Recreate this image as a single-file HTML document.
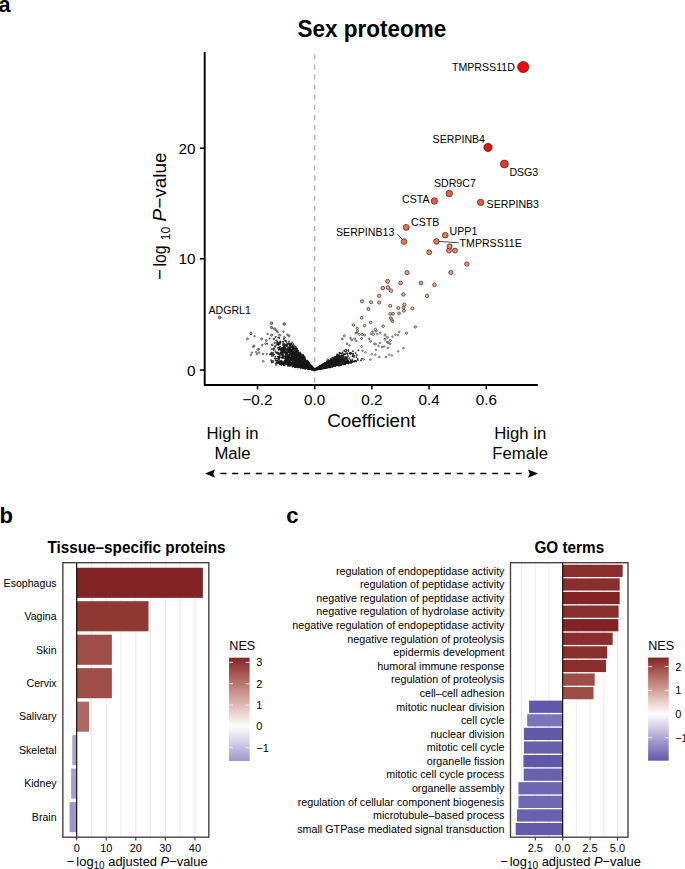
<!DOCTYPE html>
<html><head><meta charset="utf-8"><title>Sex proteome</title>
<style>
html,body{margin:0;padding:0;background:#fff;}
body{width:685px;height:869px;overflow:hidden;}
svg{display:block;font-family:"Liberation Sans",sans-serif;}
</style></head><body>
<svg width="685" height="869" viewBox="0 0 685 869" font-family="Liberation Sans, sans-serif">
<rect width="685" height="869" fill="#fff"/>
<text x="-1.40" y="11.80" font-size="21.6" text-anchor="start" font-weight="bold" fill="#000" >a</text>
<text transform="translate(371.8,37.3) scale(1,1.1)" x="0" y="0" font-size="22.5" text-anchor="middle" font-weight="bold">Sex proteome</text>
<line x1="314.6" y1="54.3" x2="314.6" y2="384" stroke="#b5b5b5" stroke-width="1.5" stroke-dasharray="5,5.1"/>
<circle cx="306.5" cy="365.4" r="0.60" fill="#333333" stroke="#111" stroke-width="0.55"/>
<circle cx="304.9" cy="367.6" r="0.60" fill="#333333" stroke="#111" stroke-width="0.55"/>
<circle cx="289.9" cy="344.5" r="0.60" fill="#333333" stroke="#111" stroke-width="0.55"/>
<circle cx="284.8" cy="348.5" r="0.60" fill="#333333" stroke="#111" stroke-width="0.55"/>
<circle cx="309.8" cy="368.7" r="0.60" fill="#333333" stroke="#111" stroke-width="0.55"/>
<circle cx="312.9" cy="368.5" r="0.60" fill="#333333" stroke="#111" stroke-width="0.55"/>
<circle cx="305.8" cy="363.8" r="0.60" fill="#333333" stroke="#111" stroke-width="0.55"/>
<circle cx="302.4" cy="366.2" r="0.60" fill="#333333" stroke="#111" stroke-width="0.55"/>
<circle cx="291.6" cy="354.6" r="0.60" fill="#333333" stroke="#111" stroke-width="0.55"/>
<circle cx="291.8" cy="356.5" r="0.60" fill="#333333" stroke="#111" stroke-width="0.55"/>
<circle cx="281.5" cy="352.3" r="0.60" fill="#333333" stroke="#111" stroke-width="0.55"/>
<circle cx="289.7" cy="358.3" r="0.60" fill="#333333" stroke="#111" stroke-width="0.55"/>
<circle cx="309.0" cy="364.2" r="0.60" fill="#333333" stroke="#111" stroke-width="0.55"/>
<circle cx="311.8" cy="366.6" r="0.60" fill="#333333" stroke="#111" stroke-width="0.55"/>
<circle cx="303.3" cy="366.0" r="0.60" fill="#333333" stroke="#111" stroke-width="0.55"/>
<circle cx="304.8" cy="365.5" r="0.60" fill="#333333" stroke="#111" stroke-width="0.55"/>
<circle cx="314.3" cy="369.3" r="0.60" fill="#333333" stroke="#111" stroke-width="0.55"/>
<circle cx="307.2" cy="362.0" r="0.60" fill="#333333" stroke="#111" stroke-width="0.55"/>
<circle cx="290.1" cy="365.2" r="0.60" fill="#333333" stroke="#111" stroke-width="0.55"/>
<circle cx="305.5" cy="367.3" r="0.60" fill="#333333" stroke="#111" stroke-width="0.55"/>
<circle cx="298.4" cy="364.7" r="0.60" fill="#333333" stroke="#111" stroke-width="0.55"/>
<circle cx="304.3" cy="357.1" r="0.60" fill="#333333" stroke="#111" stroke-width="0.55"/>
<circle cx="285.8" cy="361.2" r="0.60" fill="#333333" stroke="#111" stroke-width="0.55"/>
<circle cx="313.6" cy="369.5" r="0.60" fill="#333333" stroke="#111" stroke-width="0.55"/>
<circle cx="305.8" cy="365.4" r="0.60" fill="#333333" stroke="#111" stroke-width="0.55"/>
<circle cx="309.2" cy="367.7" r="0.60" fill="#333333" stroke="#111" stroke-width="0.55"/>
<circle cx="294.5" cy="350.4" r="0.60" fill="#333333" stroke="#111" stroke-width="0.55"/>
<circle cx="305.1" cy="366.1" r="0.60" fill="#333333" stroke="#111" stroke-width="0.55"/>
<circle cx="312.0" cy="368.1" r="0.60" fill="#333333" stroke="#111" stroke-width="0.55"/>
<circle cx="301.9" cy="356.2" r="0.60" fill="#333333" stroke="#111" stroke-width="0.55"/>
<circle cx="278.6" cy="344.1" r="0.60" fill="#333333" stroke="#111" stroke-width="0.55"/>
<circle cx="278.9" cy="347.4" r="0.60" fill="#333333" stroke="#111" stroke-width="0.55"/>
<circle cx="305.7" cy="367.3" r="0.60" fill="#333333" stroke="#111" stroke-width="0.55"/>
<circle cx="307.9" cy="368.8" r="0.60" fill="#333333" stroke="#111" stroke-width="0.55"/>
<circle cx="295.9" cy="362.3" r="0.60" fill="#333333" stroke="#111" stroke-width="0.55"/>
<circle cx="301.7" cy="362.8" r="0.60" fill="#333333" stroke="#111" stroke-width="0.55"/>
<circle cx="308.5" cy="363.3" r="0.60" fill="#333333" stroke="#111" stroke-width="0.55"/>
<circle cx="301.1" cy="367.7" r="0.60" fill="#333333" stroke="#111" stroke-width="0.55"/>
<circle cx="271.9" cy="356.1" r="0.60" fill="#333333" stroke="#111" stroke-width="0.55"/>
<circle cx="284.5" cy="347.7" r="0.60" fill="#333333" stroke="#111" stroke-width="0.55"/>
<circle cx="308.3" cy="365.2" r="0.60" fill="#333333" stroke="#111" stroke-width="0.55"/>
<circle cx="298.6" cy="356.3" r="0.60" fill="#333333" stroke="#111" stroke-width="0.55"/>
<circle cx="299.6" cy="353.8" r="0.60" fill="#333333" stroke="#111" stroke-width="0.55"/>
<circle cx="284.3" cy="362.0" r="0.60" fill="#333333" stroke="#111" stroke-width="0.55"/>
<circle cx="313.0" cy="368.4" r="0.60" fill="#333333" stroke="#111" stroke-width="0.55"/>
<circle cx="302.8" cy="358.2" r="0.60" fill="#333333" stroke="#111" stroke-width="0.55"/>
<circle cx="292.9" cy="359.3" r="0.60" fill="#333333" stroke="#111" stroke-width="0.55"/>
<circle cx="308.6" cy="367.1" r="0.60" fill="#333333" stroke="#111" stroke-width="0.55"/>
<circle cx="278.2" cy="337.6" r="0.60" fill="#333333" stroke="#111" stroke-width="0.55"/>
<circle cx="300.4" cy="365.9" r="0.60" fill="#333333" stroke="#111" stroke-width="0.55"/>
<circle cx="291.3" cy="351.0" r="0.60" fill="#333333" stroke="#111" stroke-width="0.55"/>
<circle cx="276.5" cy="344.8" r="0.60" fill="#333333" stroke="#111" stroke-width="0.55"/>
<circle cx="304.7" cy="364.9" r="0.60" fill="#333333" stroke="#111" stroke-width="0.55"/>
<circle cx="290.4" cy="361.4" r="0.60" fill="#333333" stroke="#111" stroke-width="0.55"/>
<circle cx="301.3" cy="363.9" r="0.60" fill="#333333" stroke="#111" stroke-width="0.55"/>
<circle cx="294.8" cy="366.7" r="0.60" fill="#333333" stroke="#111" stroke-width="0.55"/>
<circle cx="280.1" cy="363.1" r="0.60" fill="#333333" stroke="#111" stroke-width="0.55"/>
<circle cx="296.2" cy="348.4" r="0.60" fill="#333333" stroke="#111" stroke-width="0.55"/>
<circle cx="306.8" cy="365.9" r="0.60" fill="#333333" stroke="#111" stroke-width="0.55"/>
<circle cx="310.1" cy="365.8" r="0.60" fill="#333333" stroke="#111" stroke-width="0.55"/>
<circle cx="301.8" cy="362.8" r="0.60" fill="#333333" stroke="#111" stroke-width="0.55"/>
<circle cx="301.4" cy="363.3" r="0.60" fill="#333333" stroke="#111" stroke-width="0.55"/>
<circle cx="314.5" cy="369.5" r="0.60" fill="#333333" stroke="#111" stroke-width="0.55"/>
<circle cx="313.6" cy="369.5" r="0.60" fill="#333333" stroke="#111" stroke-width="0.55"/>
<circle cx="306.0" cy="362.3" r="0.60" fill="#333333" stroke="#111" stroke-width="0.55"/>
<circle cx="286.6" cy="362.8" r="0.60" fill="#333333" stroke="#111" stroke-width="0.55"/>
<circle cx="273.3" cy="349.0" r="0.60" fill="#333333" stroke="#111" stroke-width="0.55"/>
<circle cx="278.2" cy="345.0" r="0.60" fill="#333333" stroke="#111" stroke-width="0.55"/>
<circle cx="286.4" cy="349.8" r="0.60" fill="#333333" stroke="#111" stroke-width="0.55"/>
<circle cx="303.2" cy="360.7" r="0.60" fill="#333333" stroke="#111" stroke-width="0.55"/>
<circle cx="293.2" cy="349.3" r="0.60" fill="#333333" stroke="#111" stroke-width="0.55"/>
<circle cx="301.6" cy="364.1" r="0.60" fill="#333333" stroke="#111" stroke-width="0.55"/>
<circle cx="312.8" cy="367.5" r="0.60" fill="#333333" stroke="#111" stroke-width="0.55"/>
<circle cx="298.1" cy="356.2" r="0.60" fill="#333333" stroke="#111" stroke-width="0.55"/>
<circle cx="311.4" cy="369.2" r="0.60" fill="#333333" stroke="#111" stroke-width="0.55"/>
<circle cx="312.9" cy="368.8" r="0.60" fill="#333333" stroke="#111" stroke-width="0.55"/>
<circle cx="297.0" cy="362.9" r="0.60" fill="#333333" stroke="#111" stroke-width="0.55"/>
<circle cx="314.2" cy="369.4" r="0.60" fill="#333333" stroke="#111" stroke-width="0.55"/>
<circle cx="302.8" cy="362.6" r="0.60" fill="#333333" stroke="#111" stroke-width="0.55"/>
<circle cx="306.8" cy="365.4" r="0.60" fill="#333333" stroke="#111" stroke-width="0.55"/>
<circle cx="289.7" cy="349.1" r="0.60" fill="#333333" stroke="#111" stroke-width="0.55"/>
<circle cx="314.4" cy="369.5" r="0.60" fill="#333333" stroke="#111" stroke-width="0.55"/>
<circle cx="298.3" cy="356.0" r="0.60" fill="#333333" stroke="#111" stroke-width="0.55"/>
<circle cx="300.6" cy="364.9" r="0.60" fill="#333333" stroke="#111" stroke-width="0.55"/>
<circle cx="309.4" cy="364.0" r="0.60" fill="#333333" stroke="#111" stroke-width="0.55"/>
<circle cx="295.2" cy="366.0" r="0.60" fill="#333333" stroke="#111" stroke-width="0.55"/>
<circle cx="294.6" cy="360.3" r="0.60" fill="#333333" stroke="#111" stroke-width="0.55"/>
<circle cx="293.5" cy="363.6" r="0.60" fill="#333333" stroke="#111" stroke-width="0.55"/>
<circle cx="307.6" cy="360.9" r="0.60" fill="#333333" stroke="#111" stroke-width="0.55"/>
<circle cx="292.0" cy="364.8" r="0.60" fill="#333333" stroke="#111" stroke-width="0.55"/>
<circle cx="307.6" cy="365.4" r="0.60" fill="#333333" stroke="#111" stroke-width="0.55"/>
<circle cx="298.8" cy="363.6" r="0.60" fill="#333333" stroke="#111" stroke-width="0.55"/>
<circle cx="292.6" cy="357.3" r="0.60" fill="#333333" stroke="#111" stroke-width="0.55"/>
<circle cx="312.8" cy="367.7" r="0.60" fill="#333333" stroke="#111" stroke-width="0.55"/>
<circle cx="300.7" cy="360.1" r="0.60" fill="#333333" stroke="#111" stroke-width="0.55"/>
<circle cx="311.6" cy="368.2" r="0.60" fill="#333333" stroke="#111" stroke-width="0.55"/>
<circle cx="311.1" cy="369.0" r="0.60" fill="#333333" stroke="#111" stroke-width="0.55"/>
<circle cx="294.9" cy="366.8" r="0.60" fill="#333333" stroke="#111" stroke-width="0.55"/>
<circle cx="299.5" cy="355.3" r="0.60" fill="#333333" stroke="#111" stroke-width="0.55"/>
<circle cx="296.7" cy="350.0" r="0.60" fill="#333333" stroke="#111" stroke-width="0.55"/>
<circle cx="306.6" cy="362.0" r="0.60" fill="#333333" stroke="#111" stroke-width="0.55"/>
<circle cx="290.9" cy="347.3" r="0.60" fill="#333333" stroke="#111" stroke-width="0.55"/>
<circle cx="291.3" cy="344.7" r="0.60" fill="#333333" stroke="#111" stroke-width="0.55"/>
<circle cx="305.7" cy="368.1" r="0.60" fill="#333333" stroke="#111" stroke-width="0.55"/>
<circle cx="313.7" cy="368.6" r="0.60" fill="#333333" stroke="#111" stroke-width="0.55"/>
<circle cx="309.9" cy="367.5" r="0.60" fill="#333333" stroke="#111" stroke-width="0.55"/>
<circle cx="303.2" cy="362.4" r="0.60" fill="#333333" stroke="#111" stroke-width="0.55"/>
<circle cx="312.0" cy="368.4" r="0.60" fill="#333333" stroke="#111" stroke-width="0.55"/>
<circle cx="305.9" cy="366.1" r="0.60" fill="#333333" stroke="#111" stroke-width="0.55"/>
<circle cx="303.0" cy="361.0" r="0.60" fill="#333333" stroke="#111" stroke-width="0.55"/>
<circle cx="305.3" cy="363.8" r="0.60" fill="#333333" stroke="#111" stroke-width="0.55"/>
<circle cx="293.8" cy="359.5" r="0.60" fill="#333333" stroke="#111" stroke-width="0.55"/>
<circle cx="297.6" cy="366.3" r="0.60" fill="#333333" stroke="#111" stroke-width="0.55"/>
<circle cx="312.5" cy="367.0" r="0.60" fill="#333333" stroke="#111" stroke-width="0.55"/>
<circle cx="295.4" cy="357.4" r="0.60" fill="#333333" stroke="#111" stroke-width="0.55"/>
<circle cx="308.3" cy="363.1" r="0.60" fill="#333333" stroke="#111" stroke-width="0.55"/>
<circle cx="293.4" cy="362.0" r="0.60" fill="#333333" stroke="#111" stroke-width="0.55"/>
<circle cx="299.2" cy="362.1" r="0.60" fill="#333333" stroke="#111" stroke-width="0.55"/>
<circle cx="302.0" cy="358.8" r="0.60" fill="#333333" stroke="#111" stroke-width="0.55"/>
<circle cx="306.4" cy="366.5" r="0.60" fill="#333333" stroke="#111" stroke-width="0.55"/>
<circle cx="307.8" cy="367.9" r="0.60" fill="#333333" stroke="#111" stroke-width="0.55"/>
<circle cx="287.0" cy="362.7" r="0.60" fill="#333333" stroke="#111" stroke-width="0.55"/>
<circle cx="308.2" cy="367.0" r="0.60" fill="#333333" stroke="#111" stroke-width="0.55"/>
<circle cx="286.3" cy="353.2" r="0.60" fill="#333333" stroke="#111" stroke-width="0.55"/>
<circle cx="304.4" cy="362.0" r="0.60" fill="#333333" stroke="#111" stroke-width="0.55"/>
<circle cx="297.3" cy="358.0" r="0.60" fill="#333333" stroke="#111" stroke-width="0.55"/>
<circle cx="309.2" cy="367.9" r="0.60" fill="#333333" stroke="#111" stroke-width="0.55"/>
<circle cx="314.2" cy="369.2" r="0.60" fill="#333333" stroke="#111" stroke-width="0.55"/>
<circle cx="276.3" cy="340.6" r="0.60" fill="#333333" stroke="#111" stroke-width="0.55"/>
<circle cx="310.3" cy="368.0" r="0.60" fill="#333333" stroke="#111" stroke-width="0.55"/>
<circle cx="285.1" cy="340.6" r="0.60" fill="#333333" stroke="#111" stroke-width="0.55"/>
<circle cx="312.7" cy="369.3" r="0.60" fill="#333333" stroke="#111" stroke-width="0.55"/>
<circle cx="294.8" cy="358.9" r="0.60" fill="#333333" stroke="#111" stroke-width="0.55"/>
<circle cx="311.8" cy="367.9" r="0.60" fill="#333333" stroke="#111" stroke-width="0.55"/>
<circle cx="297.5" cy="357.5" r="0.60" fill="#333333" stroke="#111" stroke-width="0.55"/>
<circle cx="299.9" cy="360.0" r="0.60" fill="#333333" stroke="#111" stroke-width="0.55"/>
<circle cx="304.2" cy="366.3" r="0.60" fill="#333333" stroke="#111" stroke-width="0.55"/>
<circle cx="288.2" cy="358.3" r="0.60" fill="#333333" stroke="#111" stroke-width="0.55"/>
<circle cx="300.9" cy="356.3" r="0.60" fill="#333333" stroke="#111" stroke-width="0.55"/>
<circle cx="298.0" cy="364.5" r="0.60" fill="#333333" stroke="#111" stroke-width="0.55"/>
<circle cx="286.6" cy="345.8" r="0.60" fill="#333333" stroke="#111" stroke-width="0.55"/>
<circle cx="304.7" cy="365.3" r="0.60" fill="#333333" stroke="#111" stroke-width="0.55"/>
<circle cx="290.5" cy="359.7" r="0.60" fill="#333333" stroke="#111" stroke-width="0.55"/>
<circle cx="310.6" cy="366.4" r="0.60" fill="#333333" stroke="#111" stroke-width="0.55"/>
<circle cx="311.4" cy="367.1" r="0.60" fill="#333333" stroke="#111" stroke-width="0.55"/>
<circle cx="282.6" cy="357.6" r="0.60" fill="#333333" stroke="#111" stroke-width="0.55"/>
<circle cx="302.0" cy="367.3" r="0.60" fill="#333333" stroke="#111" stroke-width="0.55"/>
<circle cx="294.9" cy="367.1" r="0.60" fill="#333333" stroke="#111" stroke-width="0.55"/>
<circle cx="294.2" cy="362.6" r="0.60" fill="#333333" stroke="#111" stroke-width="0.55"/>
<circle cx="314.1" cy="369.3" r="0.60" fill="#333333" stroke="#111" stroke-width="0.55"/>
<circle cx="297.8" cy="354.1" r="0.60" fill="#333333" stroke="#111" stroke-width="0.55"/>
<circle cx="296.4" cy="351.2" r="0.60" fill="#333333" stroke="#111" stroke-width="0.55"/>
<circle cx="276.9" cy="358.5" r="0.60" fill="#333333" stroke="#111" stroke-width="0.55"/>
<circle cx="285.9" cy="356.6" r="0.60" fill="#333333" stroke="#111" stroke-width="0.55"/>
<circle cx="285.7" cy="356.3" r="0.60" fill="#333333" stroke="#111" stroke-width="0.55"/>
<circle cx="308.0" cy="367.4" r="0.60" fill="#333333" stroke="#111" stroke-width="0.55"/>
<circle cx="288.8" cy="349.0" r="0.60" fill="#333333" stroke="#111" stroke-width="0.55"/>
<circle cx="314.4" cy="369.5" r="0.60" fill="#333333" stroke="#111" stroke-width="0.55"/>
<circle cx="302.6" cy="359.6" r="0.60" fill="#333333" stroke="#111" stroke-width="0.55"/>
<circle cx="295.7" cy="358.3" r="0.60" fill="#333333" stroke="#111" stroke-width="0.55"/>
<circle cx="279.7" cy="361.0" r="0.60" fill="#333333" stroke="#111" stroke-width="0.55"/>
<circle cx="309.2" cy="366.9" r="0.60" fill="#333333" stroke="#111" stroke-width="0.55"/>
<circle cx="308.3" cy="362.4" r="0.60" fill="#333333" stroke="#111" stroke-width="0.55"/>
<circle cx="303.4" cy="360.2" r="0.60" fill="#333333" stroke="#111" stroke-width="0.55"/>
<circle cx="287.9" cy="348.8" r="0.60" fill="#333333" stroke="#111" stroke-width="0.55"/>
<circle cx="309.4" cy="368.8" r="0.60" fill="#333333" stroke="#111" stroke-width="0.55"/>
<circle cx="295.4" cy="357.4" r="0.60" fill="#333333" stroke="#111" stroke-width="0.55"/>
<circle cx="308.3" cy="364.2" r="0.60" fill="#333333" stroke="#111" stroke-width="0.55"/>
<circle cx="312.8" cy="367.9" r="0.60" fill="#333333" stroke="#111" stroke-width="0.55"/>
<circle cx="280.3" cy="361.5" r="0.60" fill="#333333" stroke="#111" stroke-width="0.55"/>
<circle cx="283.2" cy="350.9" r="0.60" fill="#333333" stroke="#111" stroke-width="0.55"/>
<circle cx="308.8" cy="366.8" r="0.60" fill="#333333" stroke="#111" stroke-width="0.55"/>
<circle cx="297.2" cy="363.1" r="0.60" fill="#333333" stroke="#111" stroke-width="0.55"/>
<circle cx="267.3" cy="343.8" r="0.60" fill="#333333" stroke="#111" stroke-width="0.55"/>
<circle cx="306.5" cy="361.7" r="0.60" fill="#333333" stroke="#111" stroke-width="0.55"/>
<circle cx="308.1" cy="365.2" r="0.60" fill="#333333" stroke="#111" stroke-width="0.55"/>
<circle cx="312.5" cy="368.5" r="0.60" fill="#333333" stroke="#111" stroke-width="0.55"/>
<circle cx="294.5" cy="355.1" r="0.60" fill="#333333" stroke="#111" stroke-width="0.55"/>
<circle cx="296.4" cy="353.3" r="0.60" fill="#333333" stroke="#111" stroke-width="0.55"/>
<circle cx="283.7" cy="348.6" r="0.60" fill="#333333" stroke="#111" stroke-width="0.55"/>
<circle cx="282.4" cy="352.1" r="0.60" fill="#333333" stroke="#111" stroke-width="0.55"/>
<circle cx="306.3" cy="361.1" r="0.60" fill="#333333" stroke="#111" stroke-width="0.55"/>
<circle cx="306.0" cy="367.0" r="0.60" fill="#333333" stroke="#111" stroke-width="0.55"/>
<circle cx="292.8" cy="359.5" r="0.60" fill="#333333" stroke="#111" stroke-width="0.55"/>
<circle cx="280.3" cy="362.1" r="0.60" fill="#333333" stroke="#111" stroke-width="0.55"/>
<circle cx="300.2" cy="359.8" r="0.60" fill="#333333" stroke="#111" stroke-width="0.55"/>
<circle cx="282.4" cy="349.4" r="0.60" fill="#333333" stroke="#111" stroke-width="0.55"/>
<circle cx="293.7" cy="347.5" r="0.60" fill="#333333" stroke="#111" stroke-width="0.55"/>
<circle cx="296.7" cy="358.4" r="0.60" fill="#333333" stroke="#111" stroke-width="0.55"/>
<circle cx="293.2" cy="350.2" r="0.60" fill="#333333" stroke="#111" stroke-width="0.55"/>
<circle cx="291.5" cy="357.4" r="0.60" fill="#333333" stroke="#111" stroke-width="0.55"/>
<circle cx="282.4" cy="357.3" r="0.60" fill="#333333" stroke="#111" stroke-width="0.55"/>
<circle cx="280.0" cy="349.4" r="0.60" fill="#333333" stroke="#111" stroke-width="0.55"/>
<circle cx="311.1" cy="366.9" r="0.60" fill="#333333" stroke="#111" stroke-width="0.55"/>
<circle cx="294.3" cy="352.2" r="0.60" fill="#333333" stroke="#111" stroke-width="0.55"/>
<circle cx="308.9" cy="366.7" r="0.60" fill="#333333" stroke="#111" stroke-width="0.55"/>
<circle cx="313.8" cy="369.3" r="0.60" fill="#333333" stroke="#111" stroke-width="0.55"/>
<circle cx="302.3" cy="365.3" r="0.60" fill="#333333" stroke="#111" stroke-width="0.55"/>
<circle cx="312.2" cy="368.0" r="0.60" fill="#333333" stroke="#111" stroke-width="0.55"/>
<circle cx="305.0" cy="359.8" r="0.60" fill="#333333" stroke="#111" stroke-width="0.55"/>
<circle cx="300.5" cy="361.8" r="0.60" fill="#333333" stroke="#111" stroke-width="0.55"/>
<circle cx="301.2" cy="359.9" r="0.60" fill="#333333" stroke="#111" stroke-width="0.55"/>
<circle cx="302.0" cy="360.1" r="0.60" fill="#333333" stroke="#111" stroke-width="0.55"/>
<circle cx="305.1" cy="361.8" r="0.60" fill="#333333" stroke="#111" stroke-width="0.55"/>
<circle cx="290.1" cy="360.9" r="0.60" fill="#333333" stroke="#111" stroke-width="0.55"/>
<circle cx="304.6" cy="359.4" r="0.60" fill="#333333" stroke="#111" stroke-width="0.55"/>
<circle cx="309.9" cy="364.6" r="0.60" fill="#333333" stroke="#111" stroke-width="0.55"/>
<circle cx="277.8" cy="347.8" r="0.60" fill="#333333" stroke="#111" stroke-width="0.55"/>
<circle cx="301.6" cy="366.1" r="0.60" fill="#333333" stroke="#111" stroke-width="0.55"/>
<circle cx="297.9" cy="358.9" r="0.60" fill="#333333" stroke="#111" stroke-width="0.55"/>
<circle cx="271.4" cy="352.8" r="0.60" fill="#333333" stroke="#111" stroke-width="0.55"/>
<circle cx="288.6" cy="364.6" r="0.60" fill="#333333" stroke="#111" stroke-width="0.55"/>
<circle cx="274.1" cy="338.6" r="0.60" fill="#333333" stroke="#111" stroke-width="0.55"/>
<circle cx="304.1" cy="367.9" r="0.60" fill="#333333" stroke="#111" stroke-width="0.55"/>
<circle cx="285.2" cy="356.6" r="0.60" fill="#333333" stroke="#111" stroke-width="0.55"/>
<circle cx="289.7" cy="354.8" r="0.60" fill="#333333" stroke="#111" stroke-width="0.55"/>
<circle cx="298.4" cy="354.0" r="0.60" fill="#333333" stroke="#111" stroke-width="0.55"/>
<circle cx="300.1" cy="355.9" r="0.60" fill="#333333" stroke="#111" stroke-width="0.55"/>
<circle cx="308.0" cy="367.7" r="0.60" fill="#333333" stroke="#111" stroke-width="0.55"/>
<circle cx="294.9" cy="354.2" r="0.60" fill="#333333" stroke="#111" stroke-width="0.55"/>
<circle cx="295.2" cy="364.5" r="0.60" fill="#333333" stroke="#111" stroke-width="0.55"/>
<circle cx="290.1" cy="347.2" r="0.60" fill="#333333" stroke="#111" stroke-width="0.55"/>
<circle cx="291.1" cy="357.9" r="0.60" fill="#333333" stroke="#111" stroke-width="0.55"/>
<circle cx="276.8" cy="362.8" r="0.60" fill="#333333" stroke="#111" stroke-width="0.55"/>
<circle cx="314.0" cy="369.2" r="0.60" fill="#333333" stroke="#111" stroke-width="0.55"/>
<circle cx="304.0" cy="368.2" r="0.60" fill="#333333" stroke="#111" stroke-width="0.55"/>
<circle cx="313.8" cy="368.9" r="0.60" fill="#333333" stroke="#111" stroke-width="0.55"/>
<circle cx="295.2" cy="354.6" r="0.60" fill="#333333" stroke="#111" stroke-width="0.55"/>
<circle cx="292.6" cy="347.1" r="0.60" fill="#333333" stroke="#111" stroke-width="0.55"/>
<circle cx="284.2" cy="364.1" r="0.60" fill="#333333" stroke="#111" stroke-width="0.55"/>
<circle cx="296.8" cy="366.1" r="0.60" fill="#333333" stroke="#111" stroke-width="0.55"/>
<circle cx="301.7" cy="359.0" r="0.60" fill="#333333" stroke="#111" stroke-width="0.55"/>
<circle cx="305.1" cy="361.3" r="0.60" fill="#333333" stroke="#111" stroke-width="0.55"/>
<circle cx="279.8" cy="344.2" r="0.60" fill="#333333" stroke="#111" stroke-width="0.55"/>
<circle cx="305.5" cy="360.7" r="0.60" fill="#333333" stroke="#111" stroke-width="0.55"/>
<circle cx="304.3" cy="364.8" r="0.60" fill="#333333" stroke="#111" stroke-width="0.55"/>
<circle cx="314.4" cy="369.4" r="0.60" fill="#333333" stroke="#111" stroke-width="0.55"/>
<circle cx="313.7" cy="369.2" r="0.60" fill="#333333" stroke="#111" stroke-width="0.55"/>
<circle cx="285.7" cy="364.4" r="0.60" fill="#333333" stroke="#111" stroke-width="0.55"/>
<circle cx="288.1" cy="360.9" r="0.60" fill="#333333" stroke="#111" stroke-width="0.55"/>
<circle cx="293.4" cy="352.5" r="0.60" fill="#333333" stroke="#111" stroke-width="0.55"/>
<circle cx="312.7" cy="367.7" r="0.60" fill="#333333" stroke="#111" stroke-width="0.55"/>
<circle cx="290.8" cy="353.1" r="0.60" fill="#333333" stroke="#111" stroke-width="0.55"/>
<circle cx="301.1" cy="367.4" r="0.60" fill="#333333" stroke="#111" stroke-width="0.55"/>
<circle cx="311.3" cy="369.2" r="0.60" fill="#333333" stroke="#111" stroke-width="0.55"/>
<circle cx="313.3" cy="368.8" r="0.60" fill="#333333" stroke="#111" stroke-width="0.55"/>
<circle cx="277.8" cy="362.1" r="0.60" fill="#333333" stroke="#111" stroke-width="0.55"/>
<circle cx="295.3" cy="365.4" r="0.60" fill="#333333" stroke="#111" stroke-width="0.55"/>
<circle cx="282.7" cy="354.7" r="0.60" fill="#333333" stroke="#111" stroke-width="0.55"/>
<circle cx="296.9" cy="364.2" r="0.60" fill="#333333" stroke="#111" stroke-width="0.55"/>
<circle cx="311.4" cy="369.1" r="0.60" fill="#333333" stroke="#111" stroke-width="0.55"/>
<circle cx="289.1" cy="363.9" r="0.60" fill="#333333" stroke="#111" stroke-width="0.55"/>
<circle cx="291.8" cy="349.7" r="0.60" fill="#333333" stroke="#111" stroke-width="0.55"/>
<circle cx="308.4" cy="367.7" r="0.60" fill="#333333" stroke="#111" stroke-width="0.55"/>
<circle cx="309.3" cy="364.9" r="0.60" fill="#333333" stroke="#111" stroke-width="0.55"/>
<circle cx="311.4" cy="367.9" r="0.60" fill="#333333" stroke="#111" stroke-width="0.55"/>
<circle cx="312.9" cy="368.8" r="0.60" fill="#333333" stroke="#111" stroke-width="0.55"/>
<circle cx="285.8" cy="353.3" r="0.60" fill="#333333" stroke="#111" stroke-width="0.55"/>
<circle cx="306.8" cy="366.7" r="0.60" fill="#333333" stroke="#111" stroke-width="0.55"/>
<circle cx="306.7" cy="362.1" r="0.60" fill="#333333" stroke="#111" stroke-width="0.55"/>
<circle cx="312.9" cy="368.9" r="0.60" fill="#333333" stroke="#111" stroke-width="0.55"/>
<circle cx="304.1" cy="357.0" r="0.60" fill="#333333" stroke="#111" stroke-width="0.55"/>
<circle cx="312.3" cy="369.3" r="0.60" fill="#333333" stroke="#111" stroke-width="0.55"/>
<circle cx="309.0" cy="365.1" r="0.60" fill="#333333" stroke="#111" stroke-width="0.55"/>
<circle cx="288.3" cy="350.1" r="0.60" fill="#333333" stroke="#111" stroke-width="0.55"/>
<circle cx="297.1" cy="350.6" r="0.60" fill="#333333" stroke="#111" stroke-width="0.55"/>
<circle cx="290.0" cy="363.2" r="0.60" fill="#333333" stroke="#111" stroke-width="0.55"/>
<circle cx="274.0" cy="354.4" r="0.60" fill="#333333" stroke="#111" stroke-width="0.55"/>
<circle cx="312.4" cy="367.9" r="0.60" fill="#333333" stroke="#111" stroke-width="0.55"/>
<circle cx="287.0" cy="354.0" r="0.60" fill="#333333" stroke="#111" stroke-width="0.55"/>
<circle cx="298.7" cy="363.0" r="0.60" fill="#333333" stroke="#111" stroke-width="0.55"/>
<circle cx="308.8" cy="366.0" r="0.60" fill="#333333" stroke="#111" stroke-width="0.55"/>
<circle cx="300.1" cy="356.0" r="0.60" fill="#333333" stroke="#111" stroke-width="0.55"/>
<circle cx="293.2" cy="363.8" r="0.60" fill="#333333" stroke="#111" stroke-width="0.55"/>
<circle cx="284.3" cy="362.6" r="0.60" fill="#333333" stroke="#111" stroke-width="0.55"/>
<circle cx="280.5" cy="353.3" r="0.60" fill="#333333" stroke="#111" stroke-width="0.55"/>
<circle cx="306.8" cy="366.1" r="0.60" fill="#333333" stroke="#111" stroke-width="0.55"/>
<circle cx="306.4" cy="361.0" r="0.60" fill="#333333" stroke="#111" stroke-width="0.55"/>
<circle cx="310.9" cy="367.7" r="0.60" fill="#333333" stroke="#111" stroke-width="0.55"/>
<circle cx="295.7" cy="364.7" r="0.60" fill="#333333" stroke="#111" stroke-width="0.55"/>
<circle cx="287.6" cy="360.4" r="0.60" fill="#333333" stroke="#111" stroke-width="0.55"/>
<circle cx="299.5" cy="360.8" r="0.60" fill="#333333" stroke="#111" stroke-width="0.55"/>
<circle cx="294.9" cy="354.9" r="0.60" fill="#333333" stroke="#111" stroke-width="0.55"/>
<circle cx="306.3" cy="367.6" r="0.60" fill="#333333" stroke="#111" stroke-width="0.55"/>
<circle cx="301.2" cy="361.5" r="0.60" fill="#333333" stroke="#111" stroke-width="0.55"/>
<circle cx="287.5" cy="354.7" r="0.60" fill="#333333" stroke="#111" stroke-width="0.55"/>
<circle cx="289.2" cy="356.5" r="0.60" fill="#333333" stroke="#111" stroke-width="0.55"/>
<circle cx="277.7" cy="360.5" r="0.60" fill="#333333" stroke="#111" stroke-width="0.55"/>
<circle cx="290.8" cy="351.0" r="0.60" fill="#333333" stroke="#111" stroke-width="0.55"/>
<circle cx="311.8" cy="368.7" r="0.60" fill="#333333" stroke="#111" stroke-width="0.55"/>
<circle cx="307.6" cy="362.6" r="0.60" fill="#333333" stroke="#111" stroke-width="0.55"/>
<circle cx="295.1" cy="351.7" r="0.60" fill="#333333" stroke="#111" stroke-width="0.55"/>
<circle cx="286.6" cy="357.3" r="0.60" fill="#333333" stroke="#111" stroke-width="0.55"/>
<circle cx="288.3" cy="356.8" r="0.60" fill="#333333" stroke="#111" stroke-width="0.55"/>
<circle cx="286.3" cy="359.9" r="0.60" fill="#333333" stroke="#111" stroke-width="0.55"/>
<circle cx="285.4" cy="360.7" r="0.60" fill="#333333" stroke="#111" stroke-width="0.55"/>
<circle cx="310.2" cy="367.3" r="0.60" fill="#333333" stroke="#111" stroke-width="0.55"/>
<circle cx="280.2" cy="364.1" r="0.60" fill="#333333" stroke="#111" stroke-width="0.55"/>
<circle cx="296.8" cy="357.7" r="0.60" fill="#333333" stroke="#111" stroke-width="0.55"/>
<circle cx="287.3" cy="345.6" r="0.60" fill="#333333" stroke="#111" stroke-width="0.55"/>
<circle cx="278.6" cy="353.8" r="0.60" fill="#333333" stroke="#111" stroke-width="0.55"/>
<circle cx="294.2" cy="358.2" r="0.60" fill="#333333" stroke="#111" stroke-width="0.55"/>
<circle cx="287.9" cy="344.6" r="0.60" fill="#333333" stroke="#111" stroke-width="0.55"/>
<circle cx="307.1" cy="360.6" r="0.60" fill="#333333" stroke="#111" stroke-width="0.55"/>
<circle cx="309.3" cy="368.0" r="0.60" fill="#333333" stroke="#111" stroke-width="0.55"/>
<circle cx="289.6" cy="365.5" r="0.60" fill="#333333" stroke="#111" stroke-width="0.55"/>
<circle cx="297.2" cy="362.7" r="0.60" fill="#333333" stroke="#111" stroke-width="0.55"/>
<circle cx="291.6" cy="353.8" r="0.60" fill="#333333" stroke="#111" stroke-width="0.55"/>
<circle cx="298.8" cy="365.2" r="0.60" fill="#333333" stroke="#111" stroke-width="0.55"/>
<circle cx="311.0" cy="366.2" r="0.60" fill="#333333" stroke="#111" stroke-width="0.55"/>
<circle cx="280.1" cy="346.5" r="0.60" fill="#333333" stroke="#111" stroke-width="0.55"/>
<circle cx="294.1" cy="351.9" r="0.60" fill="#333333" stroke="#111" stroke-width="0.55"/>
<circle cx="293.8" cy="365.9" r="0.60" fill="#333333" stroke="#111" stroke-width="0.55"/>
<circle cx="306.0" cy="360.5" r="0.60" fill="#333333" stroke="#111" stroke-width="0.55"/>
<circle cx="309.2" cy="364.6" r="0.60" fill="#333333" stroke="#111" stroke-width="0.55"/>
<circle cx="292.5" cy="362.8" r="0.60" fill="#333333" stroke="#111" stroke-width="0.55"/>
<circle cx="296.8" cy="366.0" r="0.60" fill="#333333" stroke="#111" stroke-width="0.55"/>
<circle cx="308.8" cy="367.4" r="0.60" fill="#333333" stroke="#111" stroke-width="0.55"/>
<circle cx="281.8" cy="361.2" r="0.60" fill="#333333" stroke="#111" stroke-width="0.55"/>
<circle cx="297.1" cy="351.7" r="0.60" fill="#333333" stroke="#111" stroke-width="0.55"/>
<circle cx="307.7" cy="367.8" r="0.60" fill="#333333" stroke="#111" stroke-width="0.55"/>
<circle cx="286.5" cy="361.8" r="0.60" fill="#333333" stroke="#111" stroke-width="0.55"/>
<circle cx="292.2" cy="353.0" r="0.60" fill="#333333" stroke="#111" stroke-width="0.55"/>
<circle cx="293.2" cy="351.1" r="0.60" fill="#333333" stroke="#111" stroke-width="0.55"/>
<circle cx="293.5" cy="356.7" r="0.60" fill="#333333" stroke="#111" stroke-width="0.55"/>
<circle cx="301.6" cy="359.9" r="0.60" fill="#333333" stroke="#111" stroke-width="0.55"/>
<circle cx="311.2" cy="365.9" r="0.60" fill="#333333" stroke="#111" stroke-width="0.55"/>
<circle cx="296.5" cy="360.1" r="0.60" fill="#333333" stroke="#111" stroke-width="0.55"/>
<circle cx="305.0" cy="364.4" r="0.60" fill="#333333" stroke="#111" stroke-width="0.55"/>
<circle cx="281.3" cy="348.1" r="0.60" fill="#333333" stroke="#111" stroke-width="0.55"/>
<circle cx="306.7" cy="366.5" r="0.60" fill="#333333" stroke="#111" stroke-width="0.55"/>
<circle cx="301.9" cy="364.2" r="0.60" fill="#333333" stroke="#111" stroke-width="0.55"/>
<circle cx="307.1" cy="368.4" r="0.60" fill="#333333" stroke="#111" stroke-width="0.55"/>
<circle cx="309.5" cy="364.8" r="0.60" fill="#333333" stroke="#111" stroke-width="0.55"/>
<circle cx="296.8" cy="365.6" r="0.60" fill="#333333" stroke="#111" stroke-width="0.55"/>
<circle cx="291.3" cy="353.9" r="0.60" fill="#333333" stroke="#111" stroke-width="0.55"/>
<circle cx="304.6" cy="363.2" r="0.60" fill="#333333" stroke="#111" stroke-width="0.55"/>
<circle cx="280.5" cy="361.9" r="0.60" fill="#333333" stroke="#111" stroke-width="0.55"/>
<circle cx="307.6" cy="367.1" r="0.60" fill="#333333" stroke="#111" stroke-width="0.55"/>
<circle cx="292.9" cy="356.2" r="0.60" fill="#333333" stroke="#111" stroke-width="0.55"/>
<circle cx="304.6" cy="362.5" r="0.60" fill="#333333" stroke="#111" stroke-width="0.55"/>
<circle cx="301.0" cy="364.2" r="0.60" fill="#333333" stroke="#111" stroke-width="0.55"/>
<circle cx="287.9" cy="352.5" r="0.60" fill="#333333" stroke="#111" stroke-width="0.55"/>
<circle cx="296.2" cy="363.9" r="0.60" fill="#333333" stroke="#111" stroke-width="0.55"/>
<circle cx="306.6" cy="367.0" r="0.60" fill="#333333" stroke="#111" stroke-width="0.55"/>
<circle cx="299.6" cy="363.3" r="0.60" fill="#333333" stroke="#111" stroke-width="0.55"/>
<circle cx="288.5" cy="359.5" r="0.60" fill="#333333" stroke="#111" stroke-width="0.55"/>
<circle cx="311.6" cy="367.2" r="0.60" fill="#333333" stroke="#111" stroke-width="0.55"/>
<circle cx="278.9" cy="358.8" r="0.60" fill="#333333" stroke="#111" stroke-width="0.55"/>
<circle cx="300.3" cy="367.2" r="0.60" fill="#333333" stroke="#111" stroke-width="0.55"/>
<circle cx="303.5" cy="356.4" r="0.60" fill="#333333" stroke="#111" stroke-width="0.55"/>
<circle cx="288.8" cy="364.7" r="0.60" fill="#333333" stroke="#111" stroke-width="0.55"/>
<circle cx="289.3" cy="365.6" r="0.60" fill="#333333" stroke="#111" stroke-width="0.55"/>
<circle cx="307.2" cy="365.0" r="0.60" fill="#333333" stroke="#111" stroke-width="0.55"/>
<circle cx="305.6" cy="364.6" r="0.60" fill="#333333" stroke="#111" stroke-width="0.55"/>
<circle cx="286.4" cy="358.9" r="0.60" fill="#333333" stroke="#111" stroke-width="0.55"/>
<circle cx="309.8" cy="365.5" r="0.60" fill="#333333" stroke="#111" stroke-width="0.55"/>
<circle cx="286.0" cy="354.4" r="0.60" fill="#333333" stroke="#111" stroke-width="0.55"/>
<circle cx="288.6" cy="363.1" r="0.60" fill="#333333" stroke="#111" stroke-width="0.55"/>
<circle cx="277.7" cy="353.3" r="0.60" fill="#333333" stroke="#111" stroke-width="0.55"/>
<circle cx="302.4" cy="366.0" r="0.60" fill="#333333" stroke="#111" stroke-width="0.55"/>
<circle cx="308.1" cy="367.0" r="0.60" fill="#333333" stroke="#111" stroke-width="0.55"/>
<circle cx="291.7" cy="357.1" r="0.60" fill="#333333" stroke="#111" stroke-width="0.55"/>
<circle cx="292.8" cy="348.8" r="0.60" fill="#333333" stroke="#111" stroke-width="0.55"/>
<circle cx="283.5" cy="362.7" r="0.60" fill="#333333" stroke="#111" stroke-width="0.55"/>
<circle cx="285.3" cy="360.7" r="0.60" fill="#333333" stroke="#111" stroke-width="0.55"/>
<circle cx="300.6" cy="354.0" r="0.60" fill="#333333" stroke="#111" stroke-width="0.55"/>
<circle cx="307.0" cy="362.0" r="0.60" fill="#333333" stroke="#111" stroke-width="0.55"/>
<circle cx="311.8" cy="369.2" r="0.60" fill="#333333" stroke="#111" stroke-width="0.55"/>
<circle cx="295.5" cy="352.2" r="0.60" fill="#333333" stroke="#111" stroke-width="0.55"/>
<circle cx="282.7" cy="351.8" r="0.60" fill="#333333" stroke="#111" stroke-width="0.55"/>
<circle cx="307.0" cy="363.8" r="0.60" fill="#333333" stroke="#111" stroke-width="0.55"/>
<circle cx="305.6" cy="368.4" r="0.60" fill="#333333" stroke="#111" stroke-width="0.55"/>
<circle cx="303.6" cy="367.8" r="0.60" fill="#333333" stroke="#111" stroke-width="0.55"/>
<circle cx="310.1" cy="368.3" r="0.60" fill="#333333" stroke="#111" stroke-width="0.55"/>
<circle cx="309.4" cy="368.8" r="0.60" fill="#333333" stroke="#111" stroke-width="0.55"/>
<circle cx="308.5" cy="366.7" r="0.60" fill="#333333" stroke="#111" stroke-width="0.55"/>
<circle cx="314.1" cy="369.0" r="0.60" fill="#333333" stroke="#111" stroke-width="0.55"/>
<circle cx="285.6" cy="354.9" r="0.60" fill="#333333" stroke="#111" stroke-width="0.55"/>
<circle cx="298.7" cy="353.6" r="0.60" fill="#333333" stroke="#111" stroke-width="0.55"/>
<circle cx="289.8" cy="345.1" r="0.60" fill="#333333" stroke="#111" stroke-width="0.55"/>
<circle cx="308.2" cy="366.3" r="0.60" fill="#333333" stroke="#111" stroke-width="0.55"/>
<circle cx="280.4" cy="342.2" r="0.60" fill="#333333" stroke="#111" stroke-width="0.55"/>
<circle cx="292.6" cy="363.8" r="0.60" fill="#333333" stroke="#111" stroke-width="0.55"/>
<circle cx="314.1" cy="369.4" r="0.60" fill="#333333" stroke="#111" stroke-width="0.55"/>
<circle cx="308.1" cy="366.1" r="0.60" fill="#333333" stroke="#111" stroke-width="0.55"/>
<circle cx="312.0" cy="367.3" r="0.60" fill="#333333" stroke="#111" stroke-width="0.55"/>
<circle cx="285.7" cy="359.9" r="0.60" fill="#333333" stroke="#111" stroke-width="0.55"/>
<circle cx="310.7" cy="368.3" r="0.60" fill="#333333" stroke="#111" stroke-width="0.55"/>
<circle cx="297.9" cy="350.4" r="0.60" fill="#333333" stroke="#111" stroke-width="0.55"/>
<circle cx="302.1" cy="366.3" r="0.60" fill="#333333" stroke="#111" stroke-width="0.55"/>
<circle cx="311.9" cy="368.6" r="0.60" fill="#333333" stroke="#111" stroke-width="0.55"/>
<circle cx="306.4" cy="365.4" r="0.60" fill="#333333" stroke="#111" stroke-width="0.55"/>
<circle cx="305.7" cy="364.2" r="0.60" fill="#333333" stroke="#111" stroke-width="0.55"/>
<circle cx="293.8" cy="353.2" r="0.60" fill="#333333" stroke="#111" stroke-width="0.55"/>
<circle cx="289.7" cy="363.8" r="0.60" fill="#333333" stroke="#111" stroke-width="0.55"/>
<circle cx="298.2" cy="361.5" r="0.60" fill="#333333" stroke="#111" stroke-width="0.55"/>
<circle cx="296.9" cy="348.8" r="0.60" fill="#333333" stroke="#111" stroke-width="0.55"/>
<circle cx="300.5" cy="367.8" r="0.60" fill="#333333" stroke="#111" stroke-width="0.55"/>
<circle cx="304.8" cy="365.5" r="0.60" fill="#333333" stroke="#111" stroke-width="0.55"/>
<circle cx="312.4" cy="368.4" r="0.60" fill="#333333" stroke="#111" stroke-width="0.55"/>
<circle cx="311.3" cy="369.2" r="0.60" fill="#333333" stroke="#111" stroke-width="0.55"/>
<circle cx="300.7" cy="356.3" r="0.60" fill="#333333" stroke="#111" stroke-width="0.55"/>
<circle cx="302.7" cy="358.3" r="0.60" fill="#333333" stroke="#111" stroke-width="0.55"/>
<circle cx="311.7" cy="367.1" r="0.60" fill="#333333" stroke="#111" stroke-width="0.55"/>
<circle cx="303.4" cy="366.0" r="0.60" fill="#333333" stroke="#111" stroke-width="0.55"/>
<circle cx="282.1" cy="354.7" r="0.60" fill="#333333" stroke="#111" stroke-width="0.55"/>
<circle cx="311.3" cy="368.1" r="0.60" fill="#333333" stroke="#111" stroke-width="0.55"/>
<circle cx="289.3" cy="356.4" r="0.60" fill="#333333" stroke="#111" stroke-width="0.55"/>
<circle cx="287.4" cy="349.7" r="0.60" fill="#333333" stroke="#111" stroke-width="0.55"/>
<circle cx="276.2" cy="343.0" r="0.60" fill="#333333" stroke="#111" stroke-width="0.55"/>
<circle cx="313.4" cy="369.3" r="0.60" fill="#333333" stroke="#111" stroke-width="0.55"/>
<circle cx="307.1" cy="368.4" r="0.60" fill="#333333" stroke="#111" stroke-width="0.55"/>
<circle cx="306.9" cy="367.8" r="0.60" fill="#333333" stroke="#111" stroke-width="0.55"/>
<circle cx="313.2" cy="368.8" r="0.60" fill="#333333" stroke="#111" stroke-width="0.55"/>
<circle cx="305.5" cy="362.6" r="0.60" fill="#333333" stroke="#111" stroke-width="0.55"/>
<circle cx="295.0" cy="358.6" r="0.60" fill="#333333" stroke="#111" stroke-width="0.55"/>
<circle cx="311.7" cy="368.7" r="0.60" fill="#333333" stroke="#111" stroke-width="0.55"/>
<circle cx="312.4" cy="369.4" r="0.60" fill="#333333" stroke="#111" stroke-width="0.55"/>
<circle cx="291.7" cy="343.9" r="0.60" fill="#333333" stroke="#111" stroke-width="0.55"/>
<circle cx="300.2" cy="362.2" r="0.60" fill="#333333" stroke="#111" stroke-width="0.55"/>
<circle cx="303.4" cy="361.9" r="0.60" fill="#333333" stroke="#111" stroke-width="0.55"/>
<circle cx="295.3" cy="350.2" r="0.60" fill="#333333" stroke="#111" stroke-width="0.55"/>
<circle cx="294.0" cy="348.7" r="0.60" fill="#333333" stroke="#111" stroke-width="0.55"/>
<circle cx="314.6" cy="369.6" r="0.60" fill="#333333" stroke="#111" stroke-width="0.55"/>
<circle cx="309.7" cy="366.8" r="0.60" fill="#333333" stroke="#111" stroke-width="0.55"/>
<circle cx="301.2" cy="360.1" r="0.60" fill="#333333" stroke="#111" stroke-width="0.55"/>
<circle cx="303.5" cy="360.2" r="0.60" fill="#333333" stroke="#111" stroke-width="0.55"/>
<circle cx="290.2" cy="353.4" r="0.60" fill="#333333" stroke="#111" stroke-width="0.55"/>
<circle cx="288.2" cy="352.5" r="0.60" fill="#333333" stroke="#111" stroke-width="0.55"/>
<circle cx="280.3" cy="362.9" r="0.60" fill="#333333" stroke="#111" stroke-width="0.55"/>
<circle cx="301.8" cy="360.4" r="0.60" fill="#333333" stroke="#111" stroke-width="0.55"/>
<circle cx="297.8" cy="359.0" r="0.60" fill="#333333" stroke="#111" stroke-width="0.55"/>
<circle cx="302.8" cy="365.0" r="0.60" fill="#333333" stroke="#111" stroke-width="0.55"/>
<circle cx="300.4" cy="360.4" r="0.60" fill="#333333" stroke="#111" stroke-width="0.55"/>
<circle cx="284.8" cy="364.0" r="0.60" fill="#333333" stroke="#111" stroke-width="0.55"/>
<circle cx="284.7" cy="351.1" r="0.60" fill="#333333" stroke="#111" stroke-width="0.55"/>
<circle cx="301.6" cy="363.5" r="0.60" fill="#333333" stroke="#111" stroke-width="0.55"/>
<circle cx="307.2" cy="364.5" r="0.60" fill="#333333" stroke="#111" stroke-width="0.55"/>
<circle cx="299.2" cy="360.9" r="0.60" fill="#333333" stroke="#111" stroke-width="0.55"/>
<circle cx="307.1" cy="364.9" r="0.60" fill="#333333" stroke="#111" stroke-width="0.55"/>
<circle cx="306.6" cy="361.7" r="0.60" fill="#333333" stroke="#111" stroke-width="0.55"/>
<circle cx="300.7" cy="356.9" r="0.60" fill="#333333" stroke="#111" stroke-width="0.55"/>
<circle cx="304.9" cy="360.2" r="0.60" fill="#333333" stroke="#111" stroke-width="0.55"/>
<circle cx="302.7" cy="367.1" r="0.60" fill="#333333" stroke="#111" stroke-width="0.55"/>
<circle cx="273.2" cy="354.4" r="0.60" fill="#333333" stroke="#111" stroke-width="0.55"/>
<circle cx="312.0" cy="366.8" r="0.60" fill="#333333" stroke="#111" stroke-width="0.55"/>
<circle cx="276.2" cy="360.6" r="0.60" fill="#333333" stroke="#111" stroke-width="0.55"/>
<circle cx="309.9" cy="366.9" r="0.60" fill="#333333" stroke="#111" stroke-width="0.55"/>
<circle cx="313.7" cy="369.2" r="0.60" fill="#333333" stroke="#111" stroke-width="0.55"/>
<circle cx="296.2" cy="359.8" r="0.60" fill="#333333" stroke="#111" stroke-width="0.55"/>
<circle cx="312.6" cy="368.7" r="0.60" fill="#333333" stroke="#111" stroke-width="0.55"/>
<circle cx="302.1" cy="359.6" r="0.60" fill="#333333" stroke="#111" stroke-width="0.55"/>
<circle cx="298.8" cy="361.6" r="0.60" fill="#333333" stroke="#111" stroke-width="0.55"/>
<circle cx="302.0" cy="358.9" r="0.60" fill="#333333" stroke="#111" stroke-width="0.55"/>
<circle cx="294.3" cy="346.1" r="0.60" fill="#333333" stroke="#111" stroke-width="0.55"/>
<circle cx="295.7" cy="363.6" r="0.60" fill="#333333" stroke="#111" stroke-width="0.55"/>
<circle cx="305.5" cy="366.4" r="0.60" fill="#333333" stroke="#111" stroke-width="0.55"/>
<circle cx="296.7" cy="360.1" r="0.60" fill="#333333" stroke="#111" stroke-width="0.55"/>
<circle cx="282.2" cy="352.2" r="0.60" fill="#333333" stroke="#111" stroke-width="0.55"/>
<circle cx="297.4" cy="359.0" r="0.60" fill="#333333" stroke="#111" stroke-width="0.55"/>
<circle cx="272.1" cy="353.8" r="0.60" fill="#333333" stroke="#111" stroke-width="0.55"/>
<circle cx="300.9" cy="366.1" r="0.60" fill="#333333" stroke="#111" stroke-width="0.55"/>
<circle cx="307.1" cy="362.1" r="0.60" fill="#333333" stroke="#111" stroke-width="0.55"/>
<circle cx="298.6" cy="356.5" r="0.60" fill="#333333" stroke="#111" stroke-width="0.55"/>
<circle cx="305.8" cy="361.5" r="0.60" fill="#333333" stroke="#111" stroke-width="0.55"/>
<circle cx="276.0" cy="352.7" r="0.60" fill="#333333" stroke="#111" stroke-width="0.55"/>
<circle cx="308.5" cy="367.7" r="0.60" fill="#333333" stroke="#111" stroke-width="0.55"/>
<circle cx="306.8" cy="364.2" r="0.60" fill="#333333" stroke="#111" stroke-width="0.55"/>
<circle cx="286.6" cy="356.1" r="0.60" fill="#333333" stroke="#111" stroke-width="0.55"/>
<circle cx="289.9" cy="364.1" r="0.60" fill="#333333" stroke="#111" stroke-width="0.55"/>
<circle cx="306.7" cy="362.6" r="0.60" fill="#333333" stroke="#111" stroke-width="0.55"/>
<circle cx="300.2" cy="358.0" r="0.60" fill="#333333" stroke="#111" stroke-width="0.55"/>
<circle cx="295.1" cy="360.8" r="0.60" fill="#333333" stroke="#111" stroke-width="0.55"/>
<circle cx="297.6" cy="366.1" r="0.60" fill="#333333" stroke="#111" stroke-width="0.55"/>
<circle cx="308.0" cy="366.1" r="0.60" fill="#333333" stroke="#111" stroke-width="0.55"/>
<circle cx="295.6" cy="363.6" r="0.60" fill="#333333" stroke="#111" stroke-width="0.55"/>
<circle cx="296.6" cy="351.2" r="0.60" fill="#333333" stroke="#111" stroke-width="0.55"/>
<circle cx="304.8" cy="361.5" r="0.60" fill="#333333" stroke="#111" stroke-width="0.55"/>
<circle cx="311.4" cy="367.3" r="0.60" fill="#333333" stroke="#111" stroke-width="0.55"/>
<circle cx="308.7" cy="363.8" r="0.60" fill="#333333" stroke="#111" stroke-width="0.55"/>
<circle cx="284.7" cy="346.0" r="0.60" fill="#333333" stroke="#111" stroke-width="0.55"/>
<circle cx="301.5" cy="364.6" r="0.60" fill="#333333" stroke="#111" stroke-width="0.55"/>
<circle cx="302.4" cy="358.9" r="0.60" fill="#333333" stroke="#111" stroke-width="0.55"/>
<circle cx="282.9" cy="345.1" r="0.60" fill="#333333" stroke="#111" stroke-width="0.55"/>
<circle cx="309.0" cy="366.6" r="0.60" fill="#333333" stroke="#111" stroke-width="0.55"/>
<circle cx="290.2" cy="348.9" r="0.60" fill="#333333" stroke="#111" stroke-width="0.55"/>
<circle cx="280.0" cy="356.0" r="0.60" fill="#333333" stroke="#111" stroke-width="0.55"/>
<circle cx="280.3" cy="349.2" r="0.60" fill="#333333" stroke="#111" stroke-width="0.55"/>
<circle cx="304.2" cy="358.8" r="0.60" fill="#333333" stroke="#111" stroke-width="0.55"/>
<circle cx="293.7" cy="350.4" r="0.60" fill="#333333" stroke="#111" stroke-width="0.55"/>
<circle cx="296.4" cy="356.3" r="0.60" fill="#333333" stroke="#111" stroke-width="0.55"/>
<circle cx="309.5" cy="366.3" r="0.60" fill="#333333" stroke="#111" stroke-width="0.55"/>
<circle cx="297.3" cy="360.2" r="0.60" fill="#333333" stroke="#111" stroke-width="0.55"/>
<circle cx="294.4" cy="352.9" r="0.60" fill="#333333" stroke="#111" stroke-width="0.55"/>
<circle cx="289.6" cy="348.2" r="0.60" fill="#333333" stroke="#111" stroke-width="0.55"/>
<circle cx="295.3" cy="366.0" r="0.60" fill="#333333" stroke="#111" stroke-width="0.55"/>
<circle cx="304.5" cy="364.9" r="0.60" fill="#333333" stroke="#111" stroke-width="0.55"/>
<circle cx="303.7" cy="358.4" r="0.60" fill="#333333" stroke="#111" stroke-width="0.55"/>
<circle cx="283.9" cy="346.2" r="0.60" fill="#333333" stroke="#111" stroke-width="0.55"/>
<circle cx="311.5" cy="369.1" r="0.60" fill="#333333" stroke="#111" stroke-width="0.55"/>
<circle cx="298.2" cy="363.3" r="0.60" fill="#333333" stroke="#111" stroke-width="0.55"/>
<circle cx="293.5" cy="358.8" r="0.60" fill="#333333" stroke="#111" stroke-width="0.55"/>
<circle cx="307.2" cy="362.6" r="0.60" fill="#333333" stroke="#111" stroke-width="0.55"/>
<circle cx="308.2" cy="364.4" r="0.60" fill="#333333" stroke="#111" stroke-width="0.55"/>
<circle cx="303.5" cy="364.9" r="0.60" fill="#333333" stroke="#111" stroke-width="0.55"/>
<circle cx="298.3" cy="359.8" r="0.60" fill="#333333" stroke="#111" stroke-width="0.55"/>
<circle cx="285.2" cy="360.8" r="0.60" fill="#333333" stroke="#111" stroke-width="0.55"/>
<circle cx="295.9" cy="358.6" r="0.60" fill="#333333" stroke="#111" stroke-width="0.55"/>
<circle cx="308.4" cy="364.1" r="0.60" fill="#333333" stroke="#111" stroke-width="0.55"/>
<circle cx="300.9" cy="363.6" r="0.60" fill="#333333" stroke="#111" stroke-width="0.55"/>
<circle cx="312.0" cy="367.7" r="0.60" fill="#333333" stroke="#111" stroke-width="0.55"/>
<circle cx="296.6" cy="350.8" r="0.60" fill="#333333" stroke="#111" stroke-width="0.55"/>
<circle cx="311.4" cy="366.0" r="0.60" fill="#333333" stroke="#111" stroke-width="0.55"/>
<circle cx="291.7" cy="353.4" r="0.60" fill="#333333" stroke="#111" stroke-width="0.55"/>
<circle cx="284.1" cy="346.1" r="0.60" fill="#333333" stroke="#111" stroke-width="0.55"/>
<circle cx="300.4" cy="353.4" r="0.60" fill="#333333" stroke="#111" stroke-width="0.55"/>
<circle cx="314.0" cy="369.3" r="0.60" fill="#333333" stroke="#111" stroke-width="0.55"/>
<circle cx="278.0" cy="361.6" r="0.60" fill="#333333" stroke="#111" stroke-width="0.55"/>
<circle cx="289.1" cy="350.6" r="0.60" fill="#333333" stroke="#111" stroke-width="0.55"/>
<circle cx="310.9" cy="366.7" r="0.60" fill="#333333" stroke="#111" stroke-width="0.55"/>
<circle cx="313.1" cy="368.3" r="0.60" fill="#333333" stroke="#111" stroke-width="0.55"/>
<circle cx="295.4" cy="352.3" r="0.60" fill="#333333" stroke="#111" stroke-width="0.55"/>
<circle cx="298.2" cy="359.1" r="0.60" fill="#333333" stroke="#111" stroke-width="0.55"/>
<circle cx="301.9" cy="359.6" r="0.60" fill="#333333" stroke="#111" stroke-width="0.55"/>
<circle cx="289.5" cy="361.5" r="0.60" fill="#333333" stroke="#111" stroke-width="0.55"/>
<circle cx="301.2" cy="365.4" r="0.60" fill="#333333" stroke="#111" stroke-width="0.55"/>
<circle cx="314.2" cy="369.4" r="0.60" fill="#333333" stroke="#111" stroke-width="0.55"/>
<circle cx="296.5" cy="352.1" r="0.60" fill="#333333" stroke="#111" stroke-width="0.55"/>
<circle cx="309.0" cy="363.8" r="0.60" fill="#333333" stroke="#111" stroke-width="0.55"/>
<circle cx="288.0" cy="355.2" r="0.60" fill="#333333" stroke="#111" stroke-width="0.55"/>
<circle cx="289.0" cy="343.5" r="0.60" fill="#333333" stroke="#111" stroke-width="0.55"/>
<circle cx="297.2" cy="367.2" r="0.60" fill="#333333" stroke="#111" stroke-width="0.55"/>
<circle cx="311.0" cy="369.0" r="0.60" fill="#333333" stroke="#111" stroke-width="0.55"/>
<circle cx="312.4" cy="367.9" r="0.60" fill="#333333" stroke="#111" stroke-width="0.55"/>
<circle cx="298.9" cy="364.6" r="0.60" fill="#333333" stroke="#111" stroke-width="0.55"/>
<circle cx="302.6" cy="367.2" r="0.60" fill="#333333" stroke="#111" stroke-width="0.55"/>
<circle cx="302.8" cy="361.1" r="0.60" fill="#333333" stroke="#111" stroke-width="0.55"/>
<circle cx="280.0" cy="363.8" r="0.60" fill="#333333" stroke="#111" stroke-width="0.55"/>
<circle cx="302.0" cy="356.6" r="0.60" fill="#333333" stroke="#111" stroke-width="0.55"/>
<circle cx="286.2" cy="352.8" r="0.60" fill="#333333" stroke="#111" stroke-width="0.55"/>
<circle cx="302.4" cy="359.9" r="0.60" fill="#333333" stroke="#111" stroke-width="0.55"/>
<circle cx="314.5" cy="369.5" r="0.60" fill="#333333" stroke="#111" stroke-width="0.55"/>
<circle cx="295.8" cy="367.1" r="0.60" fill="#333333" stroke="#111" stroke-width="0.55"/>
<circle cx="281.8" cy="361.7" r="0.60" fill="#333333" stroke="#111" stroke-width="0.55"/>
<circle cx="297.7" cy="352.0" r="0.60" fill="#333333" stroke="#111" stroke-width="0.55"/>
<circle cx="304.6" cy="368.4" r="0.60" fill="#333333" stroke="#111" stroke-width="0.55"/>
<circle cx="291.0" cy="353.8" r="0.60" fill="#333333" stroke="#111" stroke-width="0.55"/>
<circle cx="298.3" cy="352.0" r="0.60" fill="#333333" stroke="#111" stroke-width="0.55"/>
<circle cx="289.3" cy="347.8" r="0.60" fill="#333333" stroke="#111" stroke-width="0.55"/>
<circle cx="294.5" cy="360.3" r="0.60" fill="#333333" stroke="#111" stroke-width="0.55"/>
<circle cx="312.9" cy="368.9" r="0.60" fill="#333333" stroke="#111" stroke-width="0.55"/>
<circle cx="286.5" cy="341.9" r="0.60" fill="#333333" stroke="#111" stroke-width="0.55"/>
<circle cx="308.2" cy="364.9" r="0.60" fill="#333333" stroke="#111" stroke-width="0.55"/>
<circle cx="309.2" cy="366.1" r="0.60" fill="#333333" stroke="#111" stroke-width="0.55"/>
<circle cx="298.1" cy="353.1" r="0.60" fill="#333333" stroke="#111" stroke-width="0.55"/>
<circle cx="277.5" cy="344.1" r="0.60" fill="#333333" stroke="#111" stroke-width="0.55"/>
<circle cx="314.1" cy="369.4" r="0.60" fill="#333333" stroke="#111" stroke-width="0.55"/>
<circle cx="297.1" cy="362.9" r="0.60" fill="#333333" stroke="#111" stroke-width="0.55"/>
<circle cx="312.2" cy="367.5" r="0.60" fill="#333333" stroke="#111" stroke-width="0.55"/>
<circle cx="297.2" cy="366.1" r="0.60" fill="#333333" stroke="#111" stroke-width="0.55"/>
<circle cx="292.0" cy="349.3" r="0.60" fill="#333333" stroke="#111" stroke-width="0.55"/>
<circle cx="298.9" cy="361.3" r="0.60" fill="#333333" stroke="#111" stroke-width="0.55"/>
<circle cx="300.6" cy="363.4" r="0.60" fill="#333333" stroke="#111" stroke-width="0.55"/>
<circle cx="296.0" cy="365.3" r="0.60" fill="#333333" stroke="#111" stroke-width="0.55"/>
<circle cx="284.8" cy="349.7" r="0.60" fill="#333333" stroke="#111" stroke-width="0.55"/>
<circle cx="308.7" cy="364.8" r="0.60" fill="#333333" stroke="#111" stroke-width="0.55"/>
<circle cx="306.7" cy="362.9" r="0.60" fill="#333333" stroke="#111" stroke-width="0.55"/>
<circle cx="308.9" cy="367.7" r="0.60" fill="#333333" stroke="#111" stroke-width="0.55"/>
<circle cx="304.7" cy="367.8" r="0.60" fill="#333333" stroke="#111" stroke-width="0.55"/>
<circle cx="284.7" cy="363.7" r="0.60" fill="#333333" stroke="#111" stroke-width="0.55"/>
<circle cx="286.6" cy="362.8" r="0.60" fill="#333333" stroke="#111" stroke-width="0.55"/>
<circle cx="298.4" cy="360.0" r="0.60" fill="#333333" stroke="#111" stroke-width="0.55"/>
<circle cx="312.9" cy="367.6" r="0.60" fill="#333333" stroke="#111" stroke-width="0.55"/>
<circle cx="295.8" cy="356.7" r="0.60" fill="#333333" stroke="#111" stroke-width="0.55"/>
<circle cx="292.4" cy="364.2" r="0.60" fill="#333333" stroke="#111" stroke-width="0.55"/>
<circle cx="273.1" cy="352.7" r="0.60" fill="#333333" stroke="#111" stroke-width="0.55"/>
<circle cx="308.1" cy="364.3" r="0.60" fill="#333333" stroke="#111" stroke-width="0.55"/>
<circle cx="302.2" cy="366.1" r="0.60" fill="#333333" stroke="#111" stroke-width="0.55"/>
<circle cx="309.0" cy="365.2" r="0.60" fill="#333333" stroke="#111" stroke-width="0.55"/>
<circle cx="313.4" cy="368.3" r="0.60" fill="#333333" stroke="#111" stroke-width="0.55"/>
<circle cx="301.1" cy="364.5" r="0.60" fill="#333333" stroke="#111" stroke-width="0.55"/>
<circle cx="304.5" cy="361.9" r="0.60" fill="#333333" stroke="#111" stroke-width="0.55"/>
<circle cx="312.2" cy="368.1" r="0.60" fill="#333333" stroke="#111" stroke-width="0.55"/>
<circle cx="307.0" cy="367.0" r="0.60" fill="#333333" stroke="#111" stroke-width="0.55"/>
<circle cx="305.5" cy="363.0" r="0.60" fill="#333333" stroke="#111" stroke-width="0.55"/>
<circle cx="307.9" cy="363.1" r="0.60" fill="#333333" stroke="#111" stroke-width="0.55"/>
<circle cx="275.9" cy="363.4" r="0.60" fill="#333333" stroke="#111" stroke-width="0.55"/>
<circle cx="304.0" cy="358.7" r="0.60" fill="#333333" stroke="#111" stroke-width="0.55"/>
<circle cx="280.4" cy="352.2" r="0.60" fill="#333333" stroke="#111" stroke-width="0.55"/>
<circle cx="272.8" cy="361.1" r="0.60" fill="#333333" stroke="#111" stroke-width="0.55"/>
<circle cx="283.5" cy="350.7" r="0.60" fill="#333333" stroke="#111" stroke-width="0.55"/>
<circle cx="312.3" cy="367.4" r="0.60" fill="#333333" stroke="#111" stroke-width="0.55"/>
<circle cx="314.2" cy="369.5" r="0.60" fill="#333333" stroke="#111" stroke-width="0.55"/>
<circle cx="305.7" cy="365.9" r="0.60" fill="#333333" stroke="#111" stroke-width="0.55"/>
<circle cx="292.5" cy="362.4" r="0.60" fill="#333333" stroke="#111" stroke-width="0.55"/>
<circle cx="291.9" cy="357.8" r="0.60" fill="#333333" stroke="#111" stroke-width="0.55"/>
<circle cx="310.7" cy="368.4" r="0.60" fill="#333333" stroke="#111" stroke-width="0.55"/>
<circle cx="302.6" cy="357.3" r="0.60" fill="#333333" stroke="#111" stroke-width="0.55"/>
<circle cx="290.2" cy="343.5" r="0.60" fill="#333333" stroke="#111" stroke-width="0.55"/>
<circle cx="305.3" cy="362.1" r="0.60" fill="#333333" stroke="#111" stroke-width="0.55"/>
<circle cx="283.4" cy="356.4" r="0.60" fill="#333333" stroke="#111" stroke-width="0.55"/>
<circle cx="279.8" cy="361.8" r="0.60" fill="#333333" stroke="#111" stroke-width="0.55"/>
<circle cx="296.5" cy="363.7" r="0.60" fill="#333333" stroke="#111" stroke-width="0.55"/>
<circle cx="300.4" cy="363.8" r="0.60" fill="#333333" stroke="#111" stroke-width="0.55"/>
<circle cx="287.3" cy="358.7" r="0.60" fill="#333333" stroke="#111" stroke-width="0.55"/>
<circle cx="281.6" cy="357.6" r="0.60" fill="#333333" stroke="#111" stroke-width="0.55"/>
<circle cx="273.8" cy="350.1" r="0.60" fill="#333333" stroke="#111" stroke-width="0.55"/>
<circle cx="278.0" cy="352.6" r="0.60" fill="#333333" stroke="#111" stroke-width="0.55"/>
<circle cx="310.4" cy="368.0" r="0.60" fill="#333333" stroke="#111" stroke-width="0.55"/>
<circle cx="306.6" cy="363.8" r="0.60" fill="#333333" stroke="#111" stroke-width="0.55"/>
<circle cx="308.9" cy="363.6" r="0.60" fill="#333333" stroke="#111" stroke-width="0.55"/>
<circle cx="309.5" cy="367.9" r="0.60" fill="#333333" stroke="#111" stroke-width="0.55"/>
<circle cx="292.0" cy="359.2" r="0.60" fill="#333333" stroke="#111" stroke-width="0.55"/>
<circle cx="289.4" cy="365.5" r="0.60" fill="#333333" stroke="#111" stroke-width="0.55"/>
<circle cx="308.4" cy="367.6" r="0.60" fill="#333333" stroke="#111" stroke-width="0.55"/>
<circle cx="310.5" cy="366.7" r="0.60" fill="#333333" stroke="#111" stroke-width="0.55"/>
<circle cx="311.8" cy="368.6" r="0.60" fill="#333333" stroke="#111" stroke-width="0.55"/>
<circle cx="307.5" cy="365.6" r="0.60" fill="#333333" stroke="#111" stroke-width="0.55"/>
<circle cx="292.7" cy="365.9" r="0.60" fill="#333333" stroke="#111" stroke-width="0.55"/>
<circle cx="310.9" cy="366.8" r="0.60" fill="#333333" stroke="#111" stroke-width="0.55"/>
<circle cx="274.4" cy="342.9" r="0.60" fill="#333333" stroke="#111" stroke-width="0.55"/>
<circle cx="309.0" cy="366.3" r="0.60" fill="#333333" stroke="#111" stroke-width="0.55"/>
<circle cx="307.9" cy="367.3" r="0.60" fill="#333333" stroke="#111" stroke-width="0.55"/>
<circle cx="311.2" cy="366.0" r="0.60" fill="#333333" stroke="#111" stroke-width="0.55"/>
<circle cx="293.6" cy="363.6" r="0.60" fill="#333333" stroke="#111" stroke-width="0.55"/>
<circle cx="299.8" cy="363.9" r="0.60" fill="#333333" stroke="#111" stroke-width="0.55"/>
<circle cx="299.6" cy="364.7" r="0.60" fill="#333333" stroke="#111" stroke-width="0.55"/>
<circle cx="308.1" cy="364.7" r="0.60" fill="#333333" stroke="#111" stroke-width="0.55"/>
<circle cx="303.2" cy="364.1" r="0.60" fill="#333333" stroke="#111" stroke-width="0.55"/>
<circle cx="300.2" cy="356.2" r="0.60" fill="#333333" stroke="#111" stroke-width="0.55"/>
<circle cx="308.8" cy="364.1" r="0.60" fill="#333333" stroke="#111" stroke-width="0.55"/>
<circle cx="290.3" cy="360.6" r="0.60" fill="#333333" stroke="#111" stroke-width="0.55"/>
<circle cx="293.1" cy="358.4" r="0.60" fill="#333333" stroke="#111" stroke-width="0.55"/>
<circle cx="286.1" cy="349.4" r="0.60" fill="#333333" stroke="#111" stroke-width="0.55"/>
<circle cx="292.7" cy="346.3" r="0.60" fill="#333333" stroke="#111" stroke-width="0.55"/>
<circle cx="303.5" cy="368.0" r="0.60" fill="#333333" stroke="#111" stroke-width="0.55"/>
<circle cx="305.8" cy="363.2" r="0.60" fill="#333333" stroke="#111" stroke-width="0.55"/>
<circle cx="305.7" cy="360.9" r="0.60" fill="#333333" stroke="#111" stroke-width="0.55"/>
<circle cx="295.8" cy="362.5" r="0.60" fill="#333333" stroke="#111" stroke-width="0.55"/>
<circle cx="292.6" cy="356.1" r="0.60" fill="#333333" stroke="#111" stroke-width="0.55"/>
<circle cx="299.3" cy="355.1" r="0.60" fill="#333333" stroke="#111" stroke-width="0.55"/>
<circle cx="311.6" cy="368.1" r="0.60" fill="#333333" stroke="#111" stroke-width="0.55"/>
<circle cx="281.5" cy="350.0" r="0.60" fill="#333333" stroke="#111" stroke-width="0.55"/>
<circle cx="308.3" cy="363.6" r="0.60" fill="#333333" stroke="#111" stroke-width="0.55"/>
<circle cx="283.7" cy="364.9" r="0.60" fill="#333333" stroke="#111" stroke-width="0.55"/>
<circle cx="307.5" cy="362.2" r="0.60" fill="#333333" stroke="#111" stroke-width="0.55"/>
<circle cx="299.1" cy="358.3" r="0.60" fill="#333333" stroke="#111" stroke-width="0.55"/>
<circle cx="305.0" cy="367.5" r="0.60" fill="#333333" stroke="#111" stroke-width="0.55"/>
<circle cx="314.4" cy="369.5" r="0.60" fill="#333333" stroke="#111" stroke-width="0.55"/>
<circle cx="300.0" cy="359.9" r="0.60" fill="#333333" stroke="#111" stroke-width="0.55"/>
<circle cx="294.5" cy="351.7" r="0.60" fill="#333333" stroke="#111" stroke-width="0.55"/>
<circle cx="275.6" cy="336.8" r="0.60" fill="#333333" stroke="#111" stroke-width="0.55"/>
<circle cx="298.4" cy="361.4" r="0.60" fill="#333333" stroke="#111" stroke-width="0.55"/>
<circle cx="283.9" cy="362.7" r="0.60" fill="#333333" stroke="#111" stroke-width="0.55"/>
<circle cx="297.3" cy="351.3" r="0.60" fill="#333333" stroke="#111" stroke-width="0.55"/>
<circle cx="298.2" cy="364.7" r="0.60" fill="#333333" stroke="#111" stroke-width="0.55"/>
<circle cx="287.7" cy="359.2" r="0.60" fill="#333333" stroke="#111" stroke-width="0.55"/>
<circle cx="280.5" cy="364.4" r="0.60" fill="#333333" stroke="#111" stroke-width="0.55"/>
<circle cx="302.0" cy="359.4" r="0.60" fill="#333333" stroke="#111" stroke-width="0.55"/>
<circle cx="278.4" cy="344.1" r="0.60" fill="#333333" stroke="#111" stroke-width="0.55"/>
<circle cx="291.0" cy="357.8" r="0.60" fill="#333333" stroke="#111" stroke-width="0.55"/>
<circle cx="313.3" cy="368.4" r="0.60" fill="#333333" stroke="#111" stroke-width="0.55"/>
<circle cx="303.0" cy="361.2" r="0.60" fill="#333333" stroke="#111" stroke-width="0.55"/>
<circle cx="300.0" cy="363.3" r="0.60" fill="#333333" stroke="#111" stroke-width="0.55"/>
<circle cx="295.6" cy="363.7" r="0.60" fill="#333333" stroke="#111" stroke-width="0.55"/>
<circle cx="309.3" cy="367.7" r="0.60" fill="#333333" stroke="#111" stroke-width="0.55"/>
<circle cx="301.5" cy="355.9" r="0.60" fill="#333333" stroke="#111" stroke-width="0.55"/>
<circle cx="310.8" cy="365.6" r="0.60" fill="#333333" stroke="#111" stroke-width="0.55"/>
<circle cx="308.9" cy="363.3" r="0.60" fill="#333333" stroke="#111" stroke-width="0.55"/>
<circle cx="278.0" cy="353.5" r="0.60" fill="#333333" stroke="#111" stroke-width="0.55"/>
<circle cx="287.9" cy="358.3" r="0.60" fill="#333333" stroke="#111" stroke-width="0.55"/>
<circle cx="308.9" cy="368.1" r="0.60" fill="#333333" stroke="#111" stroke-width="0.55"/>
<circle cx="288.1" cy="365.4" r="0.60" fill="#333333" stroke="#111" stroke-width="0.55"/>
<circle cx="301.9" cy="359.2" r="0.60" fill="#333333" stroke="#111" stroke-width="0.55"/>
<circle cx="294.6" cy="353.7" r="0.60" fill="#333333" stroke="#111" stroke-width="0.55"/>
<circle cx="314.4" cy="369.5" r="0.60" fill="#333333" stroke="#111" stroke-width="0.55"/>
<circle cx="302.6" cy="357.2" r="0.60" fill="#333333" stroke="#111" stroke-width="0.55"/>
<circle cx="290.9" cy="346.8" r="0.60" fill="#333333" stroke="#111" stroke-width="0.55"/>
<circle cx="281.1" cy="353.4" r="0.60" fill="#333333" stroke="#111" stroke-width="0.55"/>
<circle cx="309.0" cy="368.4" r="0.60" fill="#333333" stroke="#111" stroke-width="0.55"/>
<circle cx="310.0" cy="367.0" r="0.60" fill="#333333" stroke="#111" stroke-width="0.55"/>
<circle cx="308.6" cy="364.6" r="0.60" fill="#333333" stroke="#111" stroke-width="0.55"/>
<circle cx="312.3" cy="368.6" r="0.60" fill="#333333" stroke="#111" stroke-width="0.55"/>
<circle cx="310.9" cy="367.1" r="0.60" fill="#333333" stroke="#111" stroke-width="0.55"/>
<circle cx="283.1" cy="343.7" r="0.60" fill="#333333" stroke="#111" stroke-width="0.55"/>
<circle cx="302.1" cy="358.8" r="0.60" fill="#333333" stroke="#111" stroke-width="0.55"/>
<circle cx="310.2" cy="368.9" r="0.60" fill="#333333" stroke="#111" stroke-width="0.55"/>
<circle cx="303.9" cy="359.0" r="0.60" fill="#333333" stroke="#111" stroke-width="0.55"/>
<circle cx="303.2" cy="366.3" r="0.60" fill="#333333" stroke="#111" stroke-width="0.55"/>
<circle cx="280.2" cy="348.5" r="0.60" fill="#333333" stroke="#111" stroke-width="0.55"/>
<circle cx="290.2" cy="357.7" r="0.60" fill="#333333" stroke="#111" stroke-width="0.55"/>
<circle cx="308.5" cy="366.7" r="0.60" fill="#333333" stroke="#111" stroke-width="0.55"/>
<circle cx="298.4" cy="360.3" r="0.60" fill="#333333" stroke="#111" stroke-width="0.55"/>
<circle cx="310.1" cy="368.2" r="0.60" fill="#333333" stroke="#111" stroke-width="0.55"/>
<circle cx="311.1" cy="366.4" r="0.60" fill="#333333" stroke="#111" stroke-width="0.55"/>
<circle cx="305.2" cy="361.2" r="0.60" fill="#333333" stroke="#111" stroke-width="0.55"/>
<circle cx="299.0" cy="354.1" r="0.60" fill="#333333" stroke="#111" stroke-width="0.55"/>
<circle cx="296.6" cy="353.6" r="0.60" fill="#333333" stroke="#111" stroke-width="0.55"/>
<circle cx="274.9" cy="358.4" r="0.60" fill="#333333" stroke="#111" stroke-width="0.55"/>
<circle cx="302.9" cy="366.0" r="0.60" fill="#333333" stroke="#111" stroke-width="0.55"/>
<circle cx="300.3" cy="356.4" r="0.60" fill="#333333" stroke="#111" stroke-width="0.55"/>
<circle cx="305.2" cy="362.3" r="0.60" fill="#333333" stroke="#111" stroke-width="0.55"/>
<circle cx="303.6" cy="355.9" r="0.60" fill="#333333" stroke="#111" stroke-width="0.55"/>
<circle cx="297.9" cy="353.4" r="0.60" fill="#333333" stroke="#111" stroke-width="0.55"/>
<circle cx="299.0" cy="354.8" r="0.60" fill="#333333" stroke="#111" stroke-width="0.55"/>
<circle cx="309.8" cy="366.4" r="0.60" fill="#333333" stroke="#111" stroke-width="0.55"/>
<circle cx="305.8" cy="365.9" r="0.60" fill="#333333" stroke="#111" stroke-width="0.55"/>
<circle cx="310.3" cy="368.0" r="0.60" fill="#333333" stroke="#111" stroke-width="0.55"/>
<circle cx="290.4" cy="351.4" r="0.60" fill="#333333" stroke="#111" stroke-width="0.55"/>
<circle cx="306.0" cy="365.8" r="0.60" fill="#333333" stroke="#111" stroke-width="0.55"/>
<circle cx="291.4" cy="360.1" r="0.60" fill="#333333" stroke="#111" stroke-width="0.55"/>
<circle cx="283.2" cy="349.8" r="0.60" fill="#333333" stroke="#111" stroke-width="0.55"/>
<circle cx="298.6" cy="365.8" r="0.60" fill="#333333" stroke="#111" stroke-width="0.55"/>
<circle cx="288.2" cy="356.6" r="0.60" fill="#333333" stroke="#111" stroke-width="0.55"/>
<circle cx="301.8" cy="354.8" r="0.60" fill="#333333" stroke="#111" stroke-width="0.55"/>
<circle cx="306.5" cy="363.2" r="0.60" fill="#333333" stroke="#111" stroke-width="0.55"/>
<circle cx="285.9" cy="340.9" r="0.60" fill="#333333" stroke="#111" stroke-width="0.55"/>
<circle cx="310.8" cy="367.1" r="0.60" fill="#333333" stroke="#111" stroke-width="0.55"/>
<circle cx="299.0" cy="355.9" r="0.60" fill="#333333" stroke="#111" stroke-width="0.55"/>
<circle cx="277.9" cy="362.8" r="0.60" fill="#333333" stroke="#111" stroke-width="0.55"/>
<circle cx="305.5" cy="362.4" r="0.60" fill="#333333" stroke="#111" stroke-width="0.55"/>
<circle cx="298.1" cy="367.5" r="0.60" fill="#333333" stroke="#111" stroke-width="0.55"/>
<circle cx="313.2" cy="368.3" r="0.60" fill="#333333" stroke="#111" stroke-width="0.55"/>
<circle cx="299.5" cy="361.6" r="0.60" fill="#333333" stroke="#111" stroke-width="0.55"/>
<circle cx="307.8" cy="365.4" r="0.60" fill="#333333" stroke="#111" stroke-width="0.55"/>
<circle cx="289.3" cy="357.5" r="0.60" fill="#333333" stroke="#111" stroke-width="0.55"/>
<circle cx="292.6" cy="350.1" r="0.60" fill="#333333" stroke="#111" stroke-width="0.55"/>
<circle cx="279.6" cy="358.2" r="0.60" fill="#333333" stroke="#111" stroke-width="0.55"/>
<circle cx="308.1" cy="364.0" r="0.60" fill="#333333" stroke="#111" stroke-width="0.55"/>
<circle cx="305.6" cy="362.0" r="0.60" fill="#333333" stroke="#111" stroke-width="0.55"/>
<circle cx="308.7" cy="364.6" r="0.60" fill="#333333" stroke="#111" stroke-width="0.55"/>
<circle cx="287.4" cy="348.1" r="0.60" fill="#333333" stroke="#111" stroke-width="0.55"/>
<circle cx="293.2" cy="346.6" r="0.60" fill="#333333" stroke="#111" stroke-width="0.55"/>
<circle cx="280.1" cy="342.6" r="0.60" fill="#333333" stroke="#111" stroke-width="0.55"/>
<circle cx="305.4" cy="364.8" r="0.60" fill="#333333" stroke="#111" stroke-width="0.55"/>
<circle cx="279.7" cy="357.6" r="0.60" fill="#333333" stroke="#111" stroke-width="0.55"/>
<circle cx="309.8" cy="367.7" r="0.60" fill="#333333" stroke="#111" stroke-width="0.55"/>
<circle cx="313.3" cy="368.5" r="0.60" fill="#333333" stroke="#111" stroke-width="0.55"/>
<circle cx="305.8" cy="363.6" r="0.60" fill="#333333" stroke="#111" stroke-width="0.55"/>
<circle cx="285.7" cy="360.9" r="0.60" fill="#333333" stroke="#111" stroke-width="0.55"/>
<circle cx="290.7" cy="353.4" r="0.60" fill="#333333" stroke="#111" stroke-width="0.55"/>
<circle cx="282.7" cy="357.9" r="0.60" fill="#333333" stroke="#111" stroke-width="0.55"/>
<circle cx="292.1" cy="349.9" r="0.60" fill="#333333" stroke="#111" stroke-width="0.55"/>
<circle cx="304.8" cy="359.7" r="0.60" fill="#333333" stroke="#111" stroke-width="0.55"/>
<circle cx="305.5" cy="365.4" r="0.60" fill="#333333" stroke="#111" stroke-width="0.55"/>
<circle cx="310.2" cy="367.3" r="0.60" fill="#333333" stroke="#111" stroke-width="0.55"/>
<circle cx="305.2" cy="364.6" r="0.60" fill="#333333" stroke="#111" stroke-width="0.55"/>
<circle cx="302.9" cy="361.5" r="0.60" fill="#333333" stroke="#111" stroke-width="0.55"/>
<circle cx="295.0" cy="351.9" r="0.60" fill="#333333" stroke="#111" stroke-width="0.55"/>
<circle cx="305.0" cy="367.6" r="0.60" fill="#333333" stroke="#111" stroke-width="0.55"/>
<circle cx="310.7" cy="366.0" r="0.60" fill="#333333" stroke="#111" stroke-width="0.55"/>
<circle cx="302.0" cy="359.0" r="0.60" fill="#333333" stroke="#111" stroke-width="0.55"/>
<circle cx="293.6" cy="350.0" r="0.60" fill="#333333" stroke="#111" stroke-width="0.55"/>
<circle cx="282.7" cy="348.0" r="0.60" fill="#333333" stroke="#111" stroke-width="0.55"/>
<circle cx="290.6" cy="354.2" r="0.60" fill="#333333" stroke="#111" stroke-width="0.55"/>
<circle cx="294.0" cy="362.9" r="0.60" fill="#333333" stroke="#111" stroke-width="0.55"/>
<circle cx="299.1" cy="358.0" r="0.60" fill="#333333" stroke="#111" stroke-width="0.55"/>
<circle cx="311.2" cy="366.4" r="0.60" fill="#333333" stroke="#111" stroke-width="0.55"/>
<circle cx="294.3" cy="351.4" r="0.60" fill="#333333" stroke="#111" stroke-width="0.55"/>
<circle cx="305.4" cy="368.2" r="0.60" fill="#333333" stroke="#111" stroke-width="0.55"/>
<circle cx="297.9" cy="355.4" r="0.60" fill="#333333" stroke="#111" stroke-width="0.55"/>
<circle cx="304.0" cy="365.6" r="0.60" fill="#333333" stroke="#111" stroke-width="0.55"/>
<circle cx="313.6" cy="369.2" r="0.60" fill="#333333" stroke="#111" stroke-width="0.55"/>
<circle cx="311.2" cy="367.3" r="0.60" fill="#333333" stroke="#111" stroke-width="0.55"/>
<circle cx="311.5" cy="368.7" r="0.60" fill="#333333" stroke="#111" stroke-width="0.55"/>
<circle cx="297.8" cy="353.4" r="0.60" fill="#333333" stroke="#111" stroke-width="0.55"/>
<circle cx="308.1" cy="367.5" r="0.60" fill="#333333" stroke="#111" stroke-width="0.55"/>
<circle cx="277.5" cy="341.4" r="0.60" fill="#333333" stroke="#111" stroke-width="0.55"/>
<circle cx="300.2" cy="361.3" r="0.60" fill="#333333" stroke="#111" stroke-width="0.55"/>
<circle cx="297.6" cy="356.4" r="0.60" fill="#333333" stroke="#111" stroke-width="0.55"/>
<circle cx="291.1" cy="355.7" r="0.60" fill="#333333" stroke="#111" stroke-width="0.55"/>
<circle cx="295.9" cy="355.0" r="0.60" fill="#333333" stroke="#111" stroke-width="0.55"/>
<circle cx="307.0" cy="367.6" r="0.60" fill="#333333" stroke="#111" stroke-width="0.55"/>
<circle cx="289.6" cy="361.9" r="0.60" fill="#333333" stroke="#111" stroke-width="0.55"/>
<circle cx="310.9" cy="366.3" r="0.60" fill="#333333" stroke="#111" stroke-width="0.55"/>
<circle cx="294.2" cy="358.1" r="0.60" fill="#333333" stroke="#111" stroke-width="0.55"/>
<circle cx="297.1" cy="354.1" r="0.60" fill="#333333" stroke="#111" stroke-width="0.55"/>
<circle cx="287.5" cy="359.4" r="0.60" fill="#333333" stroke="#111" stroke-width="0.55"/>
<circle cx="292.5" cy="355.0" r="0.60" fill="#333333" stroke="#111" stroke-width="0.55"/>
<circle cx="283.5" cy="364.5" r="0.60" fill="#333333" stroke="#111" stroke-width="0.55"/>
<circle cx="294.0" cy="351.6" r="0.60" fill="#333333" stroke="#111" stroke-width="0.55"/>
<circle cx="307.0" cy="366.6" r="0.60" fill="#333333" stroke="#111" stroke-width="0.55"/>
<circle cx="312.7" cy="368.8" r="0.60" fill="#333333" stroke="#111" stroke-width="0.55"/>
<circle cx="311.8" cy="367.2" r="0.60" fill="#333333" stroke="#111" stroke-width="0.55"/>
<circle cx="310.1" cy="366.4" r="0.60" fill="#333333" stroke="#111" stroke-width="0.55"/>
<circle cx="304.6" cy="368.3" r="0.60" fill="#333333" stroke="#111" stroke-width="0.55"/>
<circle cx="302.4" cy="364.7" r="0.60" fill="#333333" stroke="#111" stroke-width="0.55"/>
<circle cx="281.5" cy="350.2" r="0.60" fill="#333333" stroke="#111" stroke-width="0.55"/>
<circle cx="313.1" cy="369.2" r="0.60" fill="#333333" stroke="#111" stroke-width="0.55"/>
<circle cx="299.1" cy="355.0" r="0.60" fill="#333333" stroke="#111" stroke-width="0.55"/>
<circle cx="302.3" cy="360.6" r="0.60" fill="#333333" stroke="#111" stroke-width="0.55"/>
<circle cx="300.8" cy="366.0" r="0.60" fill="#333333" stroke="#111" stroke-width="0.55"/>
<circle cx="296.1" cy="359.7" r="0.60" fill="#333333" stroke="#111" stroke-width="0.55"/>
<circle cx="290.0" cy="364.4" r="0.60" fill="#333333" stroke="#111" stroke-width="0.55"/>
<circle cx="312.6" cy="369.1" r="0.60" fill="#333333" stroke="#111" stroke-width="0.55"/>
<circle cx="290.9" cy="365.8" r="0.60" fill="#333333" stroke="#111" stroke-width="0.55"/>
<circle cx="295.8" cy="365.6" r="0.60" fill="#333333" stroke="#111" stroke-width="0.55"/>
<circle cx="283.5" cy="357.3" r="0.60" fill="#333333" stroke="#111" stroke-width="0.55"/>
<circle cx="311.3" cy="367.6" r="0.60" fill="#333333" stroke="#111" stroke-width="0.55"/>
<circle cx="307.6" cy="368.4" r="0.60" fill="#333333" stroke="#111" stroke-width="0.55"/>
<circle cx="296.1" cy="363.3" r="0.60" fill="#333333" stroke="#111" stroke-width="0.55"/>
<circle cx="302.2" cy="360.6" r="0.60" fill="#333333" stroke="#111" stroke-width="0.55"/>
<circle cx="311.3" cy="367.7" r="0.60" fill="#333333" stroke="#111" stroke-width="0.55"/>
<circle cx="295.3" cy="360.5" r="0.60" fill="#333333" stroke="#111" stroke-width="0.55"/>
<circle cx="307.6" cy="363.4" r="0.60" fill="#333333" stroke="#111" stroke-width="0.55"/>
<circle cx="308.5" cy="367.5" r="0.60" fill="#333333" stroke="#111" stroke-width="0.55"/>
<circle cx="286.6" cy="357.6" r="0.60" fill="#333333" stroke="#111" stroke-width="0.55"/>
<circle cx="275.4" cy="356.5" r="0.60" fill="#333333" stroke="#111" stroke-width="0.55"/>
<circle cx="304.6" cy="363.9" r="0.60" fill="#333333" stroke="#111" stroke-width="0.55"/>
<circle cx="287.0" cy="345.9" r="0.60" fill="#333333" stroke="#111" stroke-width="0.55"/>
<circle cx="295.8" cy="360.3" r="0.60" fill="#333333" stroke="#111" stroke-width="0.55"/>
<circle cx="294.9" cy="364.0" r="0.60" fill="#333333" stroke="#111" stroke-width="0.55"/>
<circle cx="291.8" cy="353.1" r="0.60" fill="#333333" stroke="#111" stroke-width="0.55"/>
<circle cx="304.7" cy="365.7" r="0.60" fill="#333333" stroke="#111" stroke-width="0.55"/>
<circle cx="276.3" cy="363.5" r="0.60" fill="#333333" stroke="#111" stroke-width="0.55"/>
<circle cx="311.4" cy="368.4" r="0.60" fill="#333333" stroke="#111" stroke-width="0.55"/>
<circle cx="295.1" cy="351.9" r="0.60" fill="#333333" stroke="#111" stroke-width="0.55"/>
<circle cx="286.4" cy="358.6" r="0.60" fill="#333333" stroke="#111" stroke-width="0.55"/>
<circle cx="308.9" cy="365.3" r="0.60" fill="#333333" stroke="#111" stroke-width="0.55"/>
<circle cx="282.9" cy="341.7" r="0.60" fill="#333333" stroke="#111" stroke-width="0.55"/>
<circle cx="291.3" cy="359.1" r="0.60" fill="#333333" stroke="#111" stroke-width="0.55"/>
<circle cx="311.8" cy="368.9" r="0.60" fill="#333333" stroke="#111" stroke-width="0.55"/>
<circle cx="309.5" cy="365.1" r="0.60" fill="#333333" stroke="#111" stroke-width="0.55"/>
<circle cx="278.8" cy="357.2" r="0.60" fill="#333333" stroke="#111" stroke-width="0.55"/>
<circle cx="299.7" cy="357.8" r="0.60" fill="#333333" stroke="#111" stroke-width="0.55"/>
<circle cx="306.7" cy="364.3" r="0.60" fill="#333333" stroke="#111" stroke-width="0.55"/>
<circle cx="302.9" cy="356.3" r="0.60" fill="#333333" stroke="#111" stroke-width="0.55"/>
<circle cx="304.4" cy="364.2" r="0.60" fill="#333333" stroke="#111" stroke-width="0.55"/>
<circle cx="285.9" cy="351.7" r="0.60" fill="#333333" stroke="#111" stroke-width="0.55"/>
<circle cx="312.9" cy="369.3" r="0.60" fill="#333333" stroke="#111" stroke-width="0.55"/>
<circle cx="310.0" cy="366.5" r="0.60" fill="#333333" stroke="#111" stroke-width="0.55"/>
<circle cx="306.9" cy="364.6" r="0.60" fill="#333333" stroke="#111" stroke-width="0.55"/>
<circle cx="304.2" cy="362.9" r="0.60" fill="#333333" stroke="#111" stroke-width="0.55"/>
<circle cx="298.1" cy="362.8" r="0.60" fill="#333333" stroke="#111" stroke-width="0.55"/>
<circle cx="285.5" cy="351.9" r="0.60" fill="#333333" stroke="#111" stroke-width="0.55"/>
<circle cx="293.1" cy="347.7" r="0.60" fill="#333333" stroke="#111" stroke-width="0.55"/>
<circle cx="294.2" cy="356.7" r="0.60" fill="#333333" stroke="#111" stroke-width="0.55"/>
<circle cx="269.6" cy="338.5" r="0.60" fill="#333333" stroke="#111" stroke-width="0.55"/>
<circle cx="307.9" cy="368.3" r="0.60" fill="#333333" stroke="#111" stroke-width="0.55"/>
<circle cx="294.5" cy="354.2" r="0.60" fill="#333333" stroke="#111" stroke-width="0.55"/>
<circle cx="310.3" cy="365.1" r="0.60" fill="#333333" stroke="#111" stroke-width="0.55"/>
<circle cx="273.1" cy="362.1" r="0.60" fill="#333333" stroke="#111" stroke-width="0.55"/>
<circle cx="290.0" cy="358.4" r="0.60" fill="#333333" stroke="#111" stroke-width="0.55"/>
<circle cx="278.4" cy="343.2" r="0.60" fill="#333333" stroke="#111" stroke-width="0.55"/>
<circle cx="289.4" cy="349.8" r="0.60" fill="#333333" stroke="#111" stroke-width="0.55"/>
<circle cx="278.9" cy="359.2" r="0.60" fill="#333333" stroke="#111" stroke-width="0.55"/>
<circle cx="312.5" cy="369.0" r="0.60" fill="#333333" stroke="#111" stroke-width="0.55"/>
<circle cx="303.3" cy="361.7" r="0.60" fill="#333333" stroke="#111" stroke-width="0.55"/>
<circle cx="312.3" cy="368.3" r="0.60" fill="#333333" stroke="#111" stroke-width="0.55"/>
<circle cx="312.2" cy="367.3" r="0.60" fill="#333333" stroke="#111" stroke-width="0.55"/>
<circle cx="285.7" cy="360.9" r="0.60" fill="#333333" stroke="#111" stroke-width="0.55"/>
<circle cx="309.7" cy="367.1" r="0.60" fill="#333333" stroke="#111" stroke-width="0.55"/>
<circle cx="294.3" cy="351.5" r="0.60" fill="#333333" stroke="#111" stroke-width="0.55"/>
<circle cx="307.9" cy="365.8" r="0.60" fill="#333333" stroke="#111" stroke-width="0.55"/>
<circle cx="311.8" cy="368.3" r="0.60" fill="#333333" stroke="#111" stroke-width="0.55"/>
<circle cx="296.6" cy="348.9" r="0.60" fill="#333333" stroke="#111" stroke-width="0.55"/>
<circle cx="278.8" cy="349.6" r="0.60" fill="#333333" stroke="#111" stroke-width="0.55"/>
<circle cx="291.5" cy="364.5" r="0.60" fill="#333333" stroke="#111" stroke-width="0.55"/>
<circle cx="303.9" cy="360.3" r="0.60" fill="#333333" stroke="#111" stroke-width="0.55"/>
<circle cx="288.5" cy="356.6" r="0.60" fill="#333333" stroke="#111" stroke-width="0.55"/>
<circle cx="295.3" cy="356.0" r="0.60" fill="#333333" stroke="#111" stroke-width="0.55"/>
<circle cx="296.9" cy="350.7" r="0.60" fill="#333333" stroke="#111" stroke-width="0.55"/>
<circle cx="279.3" cy="348.0" r="0.60" fill="#333333" stroke="#111" stroke-width="0.55"/>
<circle cx="300.7" cy="355.8" r="0.60" fill="#333333" stroke="#111" stroke-width="0.55"/>
<circle cx="312.6" cy="368.5" r="0.60" fill="#333333" stroke="#111" stroke-width="0.55"/>
<circle cx="313.4" cy="369.2" r="0.60" fill="#333333" stroke="#111" stroke-width="0.55"/>
<circle cx="311.3" cy="367.9" r="0.60" fill="#333333" stroke="#111" stroke-width="0.55"/>
<circle cx="288.1" cy="362.4" r="0.60" fill="#333333" stroke="#111" stroke-width="0.55"/>
<circle cx="284.1" cy="348.2" r="0.60" fill="#333333" stroke="#111" stroke-width="0.55"/>
<circle cx="314.3" cy="369.5" r="0.60" fill="#333333" stroke="#111" stroke-width="0.55"/>
<circle cx="303.8" cy="360.5" r="0.60" fill="#333333" stroke="#111" stroke-width="0.55"/>
<circle cx="296.7" cy="360.6" r="0.60" fill="#333333" stroke="#111" stroke-width="0.55"/>
<circle cx="308.2" cy="368.6" r="0.60" fill="#333333" stroke="#111" stroke-width="0.55"/>
<circle cx="309.5" cy="365.3" r="0.60" fill="#333333" stroke="#111" stroke-width="0.55"/>
<circle cx="292.4" cy="362.0" r="0.60" fill="#333333" stroke="#111" stroke-width="0.55"/>
<circle cx="293.2" cy="353.4" r="0.60" fill="#333333" stroke="#111" stroke-width="0.55"/>
<circle cx="301.4" cy="366.7" r="0.60" fill="#333333" stroke="#111" stroke-width="0.55"/>
<circle cx="302.5" cy="363.8" r="0.60" fill="#333333" stroke="#111" stroke-width="0.55"/>
<circle cx="289.0" cy="341.4" r="0.60" fill="#333333" stroke="#111" stroke-width="0.55"/>
<circle cx="313.6" cy="368.6" r="0.60" fill="#333333" stroke="#111" stroke-width="0.55"/>
<circle cx="312.5" cy="369.1" r="0.60" fill="#333333" stroke="#111" stroke-width="0.55"/>
<circle cx="309.3" cy="366.3" r="0.60" fill="#333333" stroke="#111" stroke-width="0.55"/>
<circle cx="282.4" cy="352.5" r="0.60" fill="#333333" stroke="#111" stroke-width="0.55"/>
<circle cx="288.4" cy="364.3" r="0.60" fill="#333333" stroke="#111" stroke-width="0.55"/>
<circle cx="312.0" cy="368.2" r="0.60" fill="#333333" stroke="#111" stroke-width="0.55"/>
<circle cx="290.1" cy="345.3" r="0.60" fill="#333333" stroke="#111" stroke-width="0.55"/>
<circle cx="294.4" cy="364.0" r="0.60" fill="#333333" stroke="#111" stroke-width="0.55"/>
<circle cx="300.0" cy="364.7" r="0.60" fill="#333333" stroke="#111" stroke-width="0.55"/>
<circle cx="284.3" cy="344.1" r="0.60" fill="#333333" stroke="#111" stroke-width="0.55"/>
<circle cx="284.6" cy="347.4" r="0.60" fill="#333333" stroke="#111" stroke-width="0.55"/>
<circle cx="301.4" cy="359.4" r="0.60" fill="#333333" stroke="#111" stroke-width="0.55"/>
<circle cx="283.7" cy="348.1" r="0.60" fill="#333333" stroke="#111" stroke-width="0.55"/>
<circle cx="294.7" cy="358.6" r="0.60" fill="#333333" stroke="#111" stroke-width="0.55"/>
<circle cx="312.4" cy="367.0" r="0.60" fill="#333333" stroke="#111" stroke-width="0.55"/>
<circle cx="292.5" cy="355.7" r="0.60" fill="#333333" stroke="#111" stroke-width="0.55"/>
<circle cx="288.9" cy="360.0" r="0.60" fill="#333333" stroke="#111" stroke-width="0.55"/>
<circle cx="308.5" cy="363.4" r="0.60" fill="#333333" stroke="#111" stroke-width="0.55"/>
<circle cx="313.7" cy="368.8" r="0.60" fill="#333333" stroke="#111" stroke-width="0.55"/>
<circle cx="269.8" cy="354.5" r="0.60" fill="#333333" stroke="#111" stroke-width="0.55"/>
<circle cx="306.8" cy="363.6" r="0.60" fill="#333333" stroke="#111" stroke-width="0.55"/>
<circle cx="296.0" cy="361.9" r="0.60" fill="#333333" stroke="#111" stroke-width="0.55"/>
<circle cx="313.4" cy="369.4" r="0.60" fill="#333333" stroke="#111" stroke-width="0.55"/>
<circle cx="283.6" cy="355.3" r="0.60" fill="#333333" stroke="#111" stroke-width="0.55"/>
<circle cx="285.1" cy="345.5" r="0.60" fill="#333333" stroke="#111" stroke-width="0.55"/>
<circle cx="292.6" cy="354.5" r="0.60" fill="#333333" stroke="#111" stroke-width="0.55"/>
<circle cx="292.0" cy="363.7" r="0.60" fill="#333333" stroke="#111" stroke-width="0.55"/>
<circle cx="299.6" cy="361.8" r="0.60" fill="#333333" stroke="#111" stroke-width="0.55"/>
<circle cx="278.0" cy="356.6" r="0.60" fill="#333333" stroke="#111" stroke-width="0.55"/>
<circle cx="304.5" cy="363.8" r="0.60" fill="#333333" stroke="#111" stroke-width="0.55"/>
<circle cx="310.3" cy="368.0" r="0.60" fill="#333333" stroke="#111" stroke-width="0.55"/>
<circle cx="289.5" cy="350.5" r="0.60" fill="#333333" stroke="#111" stroke-width="0.55"/>
<circle cx="271.9" cy="344.9" r="0.60" fill="#333333" stroke="#111" stroke-width="0.55"/>
<circle cx="283.8" cy="350.1" r="0.60" fill="#333333" stroke="#111" stroke-width="0.55"/>
<circle cx="303.0" cy="366.8" r="0.60" fill="#333333" stroke="#111" stroke-width="0.55"/>
<circle cx="288.4" cy="363.7" r="0.60" fill="#333333" stroke="#111" stroke-width="0.55"/>
<circle cx="307.9" cy="363.5" r="0.60" fill="#333333" stroke="#111" stroke-width="0.55"/>
<circle cx="306.3" cy="365.2" r="0.60" fill="#333333" stroke="#111" stroke-width="0.55"/>
<circle cx="292.1" cy="358.8" r="0.60" fill="#333333" stroke="#111" stroke-width="0.55"/>
<circle cx="291.3" cy="353.9" r="0.60" fill="#333333" stroke="#111" stroke-width="0.55"/>
<circle cx="302.5" cy="365.1" r="0.60" fill="#333333" stroke="#111" stroke-width="0.55"/>
<circle cx="291.4" cy="362.6" r="0.60" fill="#333333" stroke="#111" stroke-width="0.55"/>
<circle cx="307.9" cy="366.0" r="0.60" fill="#333333" stroke="#111" stroke-width="0.55"/>
<circle cx="284.4" cy="344.7" r="0.60" fill="#333333" stroke="#111" stroke-width="0.55"/>
<circle cx="294.7" cy="351.9" r="0.60" fill="#333333" stroke="#111" stroke-width="0.55"/>
<circle cx="302.4" cy="365.9" r="0.60" fill="#333333" stroke="#111" stroke-width="0.55"/>
<circle cx="304.5" cy="363.4" r="0.60" fill="#333333" stroke="#111" stroke-width="0.55"/>
<circle cx="309.7" cy="367.3" r="0.60" fill="#333333" stroke="#111" stroke-width="0.55"/>
<circle cx="302.8" cy="357.9" r="0.60" fill="#333333" stroke="#111" stroke-width="0.55"/>
<circle cx="294.0" cy="363.8" r="0.60" fill="#333333" stroke="#111" stroke-width="0.55"/>
<circle cx="310.2" cy="368.0" r="0.60" fill="#333333" stroke="#111" stroke-width="0.55"/>
<circle cx="306.0" cy="365.5" r="0.60" fill="#333333" stroke="#111" stroke-width="0.55"/>
<circle cx="312.7" cy="368.0" r="0.60" fill="#333333" stroke="#111" stroke-width="0.55"/>
<circle cx="293.9" cy="356.2" r="0.60" fill="#333333" stroke="#111" stroke-width="0.55"/>
<circle cx="302.2" cy="366.0" r="0.60" fill="#333333" stroke="#111" stroke-width="0.55"/>
<circle cx="293.6" cy="363.9" r="0.60" fill="#333333" stroke="#111" stroke-width="0.55"/>
<circle cx="308.8" cy="364.6" r="0.60" fill="#333333" stroke="#111" stroke-width="0.55"/>
<circle cx="304.3" cy="362.8" r="0.60" fill="#333333" stroke="#111" stroke-width="0.55"/>
<circle cx="307.7" cy="362.9" r="0.60" fill="#333333" stroke="#111" stroke-width="0.55"/>
<circle cx="304.4" cy="366.7" r="0.60" fill="#333333" stroke="#111" stroke-width="0.55"/>
<circle cx="299.4" cy="361.1" r="0.60" fill="#333333" stroke="#111" stroke-width="0.55"/>
<circle cx="309.7" cy="366.0" r="0.60" fill="#333333" stroke="#111" stroke-width="0.55"/>
<circle cx="275.1" cy="346.0" r="0.60" fill="#333333" stroke="#111" stroke-width="0.55"/>
<circle cx="304.8" cy="360.1" r="0.60" fill="#333333" stroke="#111" stroke-width="0.55"/>
<circle cx="280.6" cy="348.5" r="0.60" fill="#333333" stroke="#111" stroke-width="0.55"/>
<circle cx="293.7" cy="350.4" r="0.60" fill="#333333" stroke="#111" stroke-width="0.55"/>
<circle cx="303.9" cy="363.7" r="0.60" fill="#333333" stroke="#111" stroke-width="0.55"/>
<circle cx="300.7" cy="362.4" r="0.60" fill="#333333" stroke="#111" stroke-width="0.55"/>
<circle cx="309.6" cy="368.1" r="0.60" fill="#333333" stroke="#111" stroke-width="0.55"/>
<circle cx="294.3" cy="351.3" r="0.60" fill="#333333" stroke="#111" stroke-width="0.55"/>
<circle cx="299.5" cy="366.6" r="0.60" fill="#333333" stroke="#111" stroke-width="0.55"/>
<circle cx="314.0" cy="369.3" r="0.60" fill="#333333" stroke="#111" stroke-width="0.55"/>
<circle cx="296.9" cy="354.0" r="0.60" fill="#333333" stroke="#111" stroke-width="0.55"/>
<circle cx="304.6" cy="360.0" r="0.60" fill="#333333" stroke="#111" stroke-width="0.55"/>
<circle cx="292.4" cy="345.9" r="0.60" fill="#333333" stroke="#111" stroke-width="0.55"/>
<circle cx="314.3" cy="369.5" r="0.60" fill="#333333" stroke="#111" stroke-width="0.55"/>
<circle cx="308.8" cy="364.4" r="0.60" fill="#333333" stroke="#111" stroke-width="0.55"/>
<circle cx="310.5" cy="368.8" r="0.60" fill="#333333" stroke="#111" stroke-width="0.55"/>
<circle cx="291.4" cy="346.6" r="0.60" fill="#333333" stroke="#111" stroke-width="0.55"/>
<circle cx="304.6" cy="358.6" r="0.60" fill="#333333" stroke="#111" stroke-width="0.55"/>
<circle cx="301.1" cy="363.4" r="0.60" fill="#333333" stroke="#111" stroke-width="0.55"/>
<circle cx="293.9" cy="360.7" r="0.60" fill="#333333" stroke="#111" stroke-width="0.55"/>
<circle cx="313.2" cy="368.1" r="0.60" fill="#333333" stroke="#111" stroke-width="0.55"/>
<circle cx="280.9" cy="350.0" r="0.60" fill="#333333" stroke="#111" stroke-width="0.55"/>
<circle cx="314.1" cy="369.2" r="0.60" fill="#333333" stroke="#111" stroke-width="0.55"/>
<circle cx="300.5" cy="356.0" r="0.60" fill="#333333" stroke="#111" stroke-width="0.55"/>
<circle cx="279.3" cy="338.1" r="0.60" fill="#333333" stroke="#111" stroke-width="0.55"/>
<circle cx="303.2" cy="368.0" r="0.60" fill="#333333" stroke="#111" stroke-width="0.55"/>
<circle cx="297.9" cy="350.7" r="0.60" fill="#333333" stroke="#111" stroke-width="0.55"/>
<circle cx="285.4" cy="360.4" r="0.60" fill="#333333" stroke="#111" stroke-width="0.55"/>
<circle cx="296.9" cy="365.3" r="0.60" fill="#333333" stroke="#111" stroke-width="0.55"/>
<circle cx="279.9" cy="343.2" r="0.60" fill="#333333" stroke="#111" stroke-width="0.55"/>
<circle cx="300.5" cy="354.2" r="0.60" fill="#333333" stroke="#111" stroke-width="0.55"/>
<circle cx="290.0" cy="349.6" r="0.60" fill="#333333" stroke="#111" stroke-width="0.55"/>
<circle cx="313.6" cy="369.0" r="0.60" fill="#333333" stroke="#111" stroke-width="0.55"/>
<circle cx="309.3" cy="368.5" r="0.60" fill="#333333" stroke="#111" stroke-width="0.55"/>
<circle cx="310.8" cy="369.2" r="0.60" fill="#333333" stroke="#111" stroke-width="0.55"/>
<circle cx="284.0" cy="361.5" r="0.60" fill="#333333" stroke="#111" stroke-width="0.55"/>
<circle cx="287.0" cy="363.9" r="0.60" fill="#333333" stroke="#111" stroke-width="0.55"/>
<circle cx="304.5" cy="364.6" r="0.60" fill="#333333" stroke="#111" stroke-width="0.55"/>
<circle cx="277.8" cy="342.4" r="0.60" fill="#333333" stroke="#111" stroke-width="0.55"/>
<circle cx="311.8" cy="367.8" r="0.60" fill="#333333" stroke="#111" stroke-width="0.55"/>
<circle cx="286.4" cy="357.0" r="0.60" fill="#333333" stroke="#111" stroke-width="0.55"/>
<circle cx="308.8" cy="365.0" r="0.60" fill="#333333" stroke="#111" stroke-width="0.55"/>
<circle cx="306.0" cy="363.1" r="0.60" fill="#333333" stroke="#111" stroke-width="0.55"/>
<circle cx="284.1" cy="364.3" r="0.60" fill="#333333" stroke="#111" stroke-width="0.55"/>
<circle cx="308.2" cy="363.8" r="0.60" fill="#333333" stroke="#111" stroke-width="0.55"/>
<circle cx="306.6" cy="366.8" r="0.60" fill="#333333" stroke="#111" stroke-width="0.55"/>
<circle cx="287.5" cy="362.1" r="0.60" fill="#333333" stroke="#111" stroke-width="0.55"/>
<circle cx="304.3" cy="362.4" r="0.60" fill="#333333" stroke="#111" stroke-width="0.55"/>
<circle cx="296.1" cy="348.1" r="0.60" fill="#333333" stroke="#111" stroke-width="0.55"/>
<circle cx="297.7" cy="361.5" r="0.60" fill="#333333" stroke="#111" stroke-width="0.55"/>
<circle cx="306.3" cy="365.7" r="0.60" fill="#333333" stroke="#111" stroke-width="0.55"/>
<circle cx="313.7" cy="369.2" r="0.60" fill="#333333" stroke="#111" stroke-width="0.55"/>
<circle cx="312.5" cy="369.1" r="0.60" fill="#333333" stroke="#111" stroke-width="0.55"/>
<circle cx="282.3" cy="363.2" r="0.60" fill="#333333" stroke="#111" stroke-width="0.55"/>
<circle cx="288.4" cy="343.3" r="0.60" fill="#333333" stroke="#111" stroke-width="0.55"/>
<circle cx="303.1" cy="361.2" r="0.60" fill="#333333" stroke="#111" stroke-width="0.55"/>
<circle cx="297.1" cy="354.7" r="0.60" fill="#333333" stroke="#111" stroke-width="0.55"/>
<circle cx="285.1" cy="352.7" r="0.60" fill="#333333" stroke="#111" stroke-width="0.55"/>
<circle cx="287.4" cy="363.9" r="0.60" fill="#333333" stroke="#111" stroke-width="0.55"/>
<circle cx="313.3" cy="368.6" r="0.60" fill="#333333" stroke="#111" stroke-width="0.55"/>
<circle cx="305.6" cy="361.8" r="0.60" fill="#333333" stroke="#111" stroke-width="0.55"/>
<circle cx="283.7" cy="364.5" r="0.60" fill="#333333" stroke="#111" stroke-width="0.55"/>
<circle cx="304.5" cy="361.7" r="0.60" fill="#333333" stroke="#111" stroke-width="0.55"/>
<circle cx="283.6" cy="352.8" r="0.60" fill="#333333" stroke="#111" stroke-width="0.55"/>
<circle cx="292.6" cy="366.7" r="0.60" fill="#333333" stroke="#111" stroke-width="0.55"/>
<circle cx="303.3" cy="364.5" r="0.60" fill="#333333" stroke="#111" stroke-width="0.55"/>
<circle cx="314.0" cy="369.4" r="0.60" fill="#333333" stroke="#111" stroke-width="0.55"/>
<circle cx="307.7" cy="366.8" r="0.60" fill="#333333" stroke="#111" stroke-width="0.55"/>
<circle cx="296.8" cy="365.9" r="0.60" fill="#333333" stroke="#111" stroke-width="0.55"/>
<circle cx="314.3" cy="369.3" r="0.60" fill="#333333" stroke="#111" stroke-width="0.55"/>
<circle cx="304.2" cy="358.8" r="0.60" fill="#333333" stroke="#111" stroke-width="0.55"/>
<circle cx="297.1" cy="362.5" r="0.60" fill="#333333" stroke="#111" stroke-width="0.55"/>
<circle cx="292.4" cy="352.2" r="0.60" fill="#333333" stroke="#111" stroke-width="0.55"/>
<circle cx="303.0" cy="366.0" r="0.60" fill="#333333" stroke="#111" stroke-width="0.55"/>
<circle cx="295.2" cy="352.4" r="0.60" fill="#333333" stroke="#111" stroke-width="0.55"/>
<circle cx="311.8" cy="369.1" r="0.60" fill="#333333" stroke="#111" stroke-width="0.55"/>
<circle cx="281.5" cy="354.1" r="0.60" fill="#333333" stroke="#111" stroke-width="0.55"/>
<circle cx="295.5" cy="346.6" r="0.60" fill="#333333" stroke="#111" stroke-width="0.55"/>
<circle cx="292.1" cy="342.3" r="0.60" fill="#333333" stroke="#111" stroke-width="0.55"/>
<circle cx="288.6" cy="352.3" r="0.60" fill="#333333" stroke="#111" stroke-width="0.55"/>
<circle cx="303.0" cy="354.8" r="0.60" fill="#333333" stroke="#111" stroke-width="0.55"/>
<circle cx="288.0" cy="355.0" r="0.60" fill="#333333" stroke="#111" stroke-width="0.55"/>
<circle cx="304.4" cy="364.2" r="0.60" fill="#333333" stroke="#111" stroke-width="0.55"/>
<circle cx="303.9" cy="368.2" r="0.60" fill="#333333" stroke="#111" stroke-width="0.55"/>
<circle cx="290.6" cy="351.4" r="0.60" fill="#333333" stroke="#111" stroke-width="0.55"/>
<circle cx="290.8" cy="358.6" r="0.60" fill="#333333" stroke="#111" stroke-width="0.55"/>
<circle cx="298.8" cy="361.2" r="0.60" fill="#333333" stroke="#111" stroke-width="0.55"/>
<circle cx="313.1" cy="368.5" r="0.60" fill="#333333" stroke="#111" stroke-width="0.55"/>
<circle cx="298.0" cy="362.7" r="0.60" fill="#333333" stroke="#111" stroke-width="0.55"/>
<circle cx="300.1" cy="362.4" r="0.60" fill="#333333" stroke="#111" stroke-width="0.55"/>
<circle cx="294.6" cy="355.6" r="0.60" fill="#333333" stroke="#111" stroke-width="0.55"/>
<circle cx="306.1" cy="362.1" r="0.60" fill="#333333" stroke="#111" stroke-width="0.55"/>
<circle cx="285.2" cy="363.9" r="0.60" fill="#333333" stroke="#111" stroke-width="0.55"/>
<circle cx="308.9" cy="363.8" r="0.60" fill="#333333" stroke="#111" stroke-width="0.55"/>
<circle cx="310.2" cy="367.1" r="0.60" fill="#333333" stroke="#111" stroke-width="0.55"/>
<circle cx="294.6" cy="355.0" r="0.60" fill="#333333" stroke="#111" stroke-width="0.55"/>
<circle cx="311.5" cy="369.0" r="0.60" fill="#333333" stroke="#111" stroke-width="0.55"/>
<circle cx="296.7" cy="364.0" r="0.60" fill="#333333" stroke="#111" stroke-width="0.55"/>
<circle cx="285.5" cy="348.1" r="0.60" fill="#333333" stroke="#111" stroke-width="0.55"/>
<circle cx="309.4" cy="366.5" r="0.60" fill="#333333" stroke="#111" stroke-width="0.55"/>
<circle cx="311.7" cy="367.8" r="0.60" fill="#333333" stroke="#111" stroke-width="0.55"/>
<circle cx="306.8" cy="367.9" r="0.60" fill="#333333" stroke="#111" stroke-width="0.55"/>
<circle cx="312.9" cy="367.7" r="0.60" fill="#333333" stroke="#111" stroke-width="0.55"/>
<circle cx="312.0" cy="367.4" r="0.60" fill="#333333" stroke="#111" stroke-width="0.55"/>
<circle cx="305.0" cy="359.9" r="0.60" fill="#333333" stroke="#111" stroke-width="0.55"/>
<circle cx="296.4" cy="355.2" r="0.60" fill="#333333" stroke="#111" stroke-width="0.55"/>
<circle cx="300.9" cy="365.0" r="0.60" fill="#333333" stroke="#111" stroke-width="0.55"/>
<circle cx="312.5" cy="367.5" r="0.60" fill="#333333" stroke="#111" stroke-width="0.55"/>
<circle cx="296.8" cy="359.6" r="0.60" fill="#333333" stroke="#111" stroke-width="0.55"/>
<circle cx="298.6" cy="361.9" r="0.60" fill="#333333" stroke="#111" stroke-width="0.55"/>
<circle cx="277.3" cy="353.1" r="0.60" fill="#333333" stroke="#111" stroke-width="0.55"/>
<circle cx="286.8" cy="361.7" r="0.60" fill="#333333" stroke="#111" stroke-width="0.55"/>
<circle cx="283.2" cy="341.7" r="0.60" fill="#333333" stroke="#111" stroke-width="0.55"/>
<circle cx="301.5" cy="362.9" r="0.60" fill="#333333" stroke="#111" stroke-width="0.55"/>
<circle cx="291.0" cy="350.3" r="0.60" fill="#333333" stroke="#111" stroke-width="0.55"/>
<circle cx="287.4" cy="354.6" r="0.60" fill="#333333" stroke="#111" stroke-width="0.55"/>
<circle cx="296.9" cy="357.9" r="0.60" fill="#333333" stroke="#111" stroke-width="0.55"/>
<circle cx="299.3" cy="360.0" r="0.60" fill="#333333" stroke="#111" stroke-width="0.55"/>
<circle cx="293.9" cy="358.9" r="0.60" fill="#333333" stroke="#111" stroke-width="0.55"/>
<circle cx="312.8" cy="367.9" r="0.60" fill="#333333" stroke="#111" stroke-width="0.55"/>
<circle cx="312.9" cy="368.1" r="0.60" fill="#333333" stroke="#111" stroke-width="0.55"/>
<circle cx="312.4" cy="369.0" r="0.60" fill="#333333" stroke="#111" stroke-width="0.55"/>
<circle cx="302.7" cy="357.7" r="0.60" fill="#333333" stroke="#111" stroke-width="0.55"/>
<circle cx="311.9" cy="369.1" r="0.60" fill="#333333" stroke="#111" stroke-width="0.55"/>
<circle cx="307.3" cy="365.7" r="0.60" fill="#333333" stroke="#111" stroke-width="0.55"/>
<circle cx="279.7" cy="363.7" r="0.60" fill="#333333" stroke="#111" stroke-width="0.55"/>
<circle cx="301.6" cy="366.8" r="0.60" fill="#333333" stroke="#111" stroke-width="0.55"/>
<circle cx="303.0" cy="360.4" r="0.60" fill="#333333" stroke="#111" stroke-width="0.55"/>
<circle cx="301.8" cy="357.9" r="0.60" fill="#333333" stroke="#111" stroke-width="0.55"/>
<circle cx="300.6" cy="360.2" r="0.60" fill="#333333" stroke="#111" stroke-width="0.55"/>
<circle cx="309.9" cy="365.4" r="0.60" fill="#333333" stroke="#111" stroke-width="0.55"/>
<circle cx="306.5" cy="363.3" r="0.60" fill="#333333" stroke="#111" stroke-width="0.55"/>
<circle cx="281.0" cy="363.9" r="0.60" fill="#333333" stroke="#111" stroke-width="0.55"/>
<circle cx="295.5" cy="357.1" r="0.60" fill="#333333" stroke="#111" stroke-width="0.55"/>
<circle cx="308.3" cy="362.3" r="0.60" fill="#333333" stroke="#111" stroke-width="0.55"/>
<circle cx="294.6" cy="348.3" r="0.60" fill="#333333" stroke="#111" stroke-width="0.55"/>
<circle cx="291.0" cy="364.9" r="0.60" fill="#333333" stroke="#111" stroke-width="0.55"/>
<circle cx="304.0" cy="357.7" r="0.60" fill="#333333" stroke="#111" stroke-width="0.55"/>
<circle cx="289.8" cy="349.6" r="0.60" fill="#333333" stroke="#111" stroke-width="0.55"/>
<circle cx="305.2" cy="361.3" r="0.60" fill="#333333" stroke="#111" stroke-width="0.55"/>
<circle cx="311.6" cy="367.4" r="0.60" fill="#333333" stroke="#111" stroke-width="0.55"/>
<circle cx="286.2" cy="360.0" r="0.60" fill="#333333" stroke="#111" stroke-width="0.55"/>
<circle cx="308.4" cy="368.4" r="0.60" fill="#333333" stroke="#111" stroke-width="0.55"/>
<circle cx="307.2" cy="365.8" r="0.60" fill="#333333" stroke="#111" stroke-width="0.55"/>
<circle cx="292.3" cy="356.2" r="0.60" fill="#333333" stroke="#111" stroke-width="0.55"/>
<circle cx="288.9" cy="356.3" r="0.60" fill="#333333" stroke="#111" stroke-width="0.55"/>
<circle cx="309.1" cy="365.9" r="0.60" fill="#333333" stroke="#111" stroke-width="0.55"/>
<circle cx="308.7" cy="366.4" r="0.60" fill="#333333" stroke="#111" stroke-width="0.55"/>
<circle cx="296.8" cy="364.9" r="0.60" fill="#333333" stroke="#111" stroke-width="0.55"/>
<circle cx="300.5" cy="362.5" r="0.60" fill="#333333" stroke="#111" stroke-width="0.55"/>
<circle cx="301.3" cy="361.8" r="0.60" fill="#333333" stroke="#111" stroke-width="0.55"/>
<circle cx="288.6" cy="351.0" r="0.60" fill="#333333" stroke="#111" stroke-width="0.55"/>
<circle cx="289.1" cy="363.0" r="0.60" fill="#333333" stroke="#111" stroke-width="0.55"/>
<circle cx="285.1" cy="352.8" r="0.60" fill="#333333" stroke="#111" stroke-width="0.55"/>
<circle cx="302.9" cy="361.1" r="0.60" fill="#333333" stroke="#111" stroke-width="0.55"/>
<circle cx="278.9" cy="357.2" r="0.60" fill="#333333" stroke="#111" stroke-width="0.55"/>
<circle cx="299.8" cy="362.2" r="0.60" fill="#333333" stroke="#111" stroke-width="0.55"/>
<circle cx="290.1" cy="354.8" r="0.60" fill="#333333" stroke="#111" stroke-width="0.55"/>
<circle cx="271.8" cy="349.3" r="0.60" fill="#333333" stroke="#111" stroke-width="0.55"/>
<circle cx="291.9" cy="360.6" r="0.60" fill="#333333" stroke="#111" stroke-width="0.55"/>
<circle cx="310.8" cy="367.1" r="0.60" fill="#333333" stroke="#111" stroke-width="0.55"/>
<circle cx="299.8" cy="362.5" r="0.60" fill="#333333" stroke="#111" stroke-width="0.55"/>
<circle cx="311.7" cy="368.7" r="0.60" fill="#333333" stroke="#111" stroke-width="0.55"/>
<circle cx="299.3" cy="366.5" r="0.60" fill="#333333" stroke="#111" stroke-width="0.55"/>
<circle cx="278.1" cy="356.7" r="0.60" fill="#333333" stroke="#111" stroke-width="0.55"/>
<circle cx="296.4" cy="355.0" r="0.60" fill="#333333" stroke="#111" stroke-width="0.55"/>
<circle cx="296.1" cy="358.8" r="0.60" fill="#333333" stroke="#111" stroke-width="0.55"/>
<circle cx="300.0" cy="367.5" r="0.60" fill="#333333" stroke="#111" stroke-width="0.55"/>
<circle cx="292.8" cy="354.4" r="0.60" fill="#333333" stroke="#111" stroke-width="0.55"/>
<circle cx="296.4" cy="355.7" r="0.60" fill="#333333" stroke="#111" stroke-width="0.55"/>
<circle cx="309.8" cy="367.3" r="0.60" fill="#333333" stroke="#111" stroke-width="0.55"/>
<circle cx="302.5" cy="360.0" r="0.60" fill="#333333" stroke="#111" stroke-width="0.55"/>
<circle cx="303.5" cy="358.4" r="0.60" fill="#333333" stroke="#111" stroke-width="0.55"/>
<circle cx="304.6" cy="368.0" r="0.60" fill="#333333" stroke="#111" stroke-width="0.55"/>
<circle cx="312.6" cy="367.8" r="0.60" fill="#333333" stroke="#111" stroke-width="0.55"/>
<circle cx="310.0" cy="366.3" r="0.60" fill="#333333" stroke="#111" stroke-width="0.55"/>
<circle cx="296.6" cy="359.6" r="0.60" fill="#333333" stroke="#111" stroke-width="0.55"/>
<circle cx="297.3" cy="365.5" r="0.60" fill="#333333" stroke="#111" stroke-width="0.55"/>
<circle cx="313.2" cy="368.5" r="0.60" fill="#333333" stroke="#111" stroke-width="0.55"/>
<circle cx="307.3" cy="362.9" r="0.60" fill="#333333" stroke="#111" stroke-width="0.55"/>
<circle cx="295.5" cy="359.2" r="0.60" fill="#333333" stroke="#111" stroke-width="0.55"/>
<circle cx="270.7" cy="353.8" r="0.60" fill="#333333" stroke="#111" stroke-width="0.55"/>
<circle cx="309.1" cy="368.7" r="0.60" fill="#333333" stroke="#111" stroke-width="0.55"/>
<circle cx="298.9" cy="359.2" r="0.60" fill="#333333" stroke="#111" stroke-width="0.55"/>
<circle cx="298.0" cy="365.7" r="0.60" fill="#333333" stroke="#111" stroke-width="0.55"/>
<circle cx="302.1" cy="359.1" r="0.60" fill="#333333" stroke="#111" stroke-width="0.55"/>
<circle cx="310.3" cy="367.5" r="0.60" fill="#333333" stroke="#111" stroke-width="0.55"/>
<circle cx="310.6" cy="365.7" r="0.60" fill="#333333" stroke="#111" stroke-width="0.55"/>
<circle cx="303.6" cy="360.7" r="0.60" fill="#333333" stroke="#111" stroke-width="0.55"/>
<circle cx="303.3" cy="355.9" r="0.60" fill="#333333" stroke="#111" stroke-width="0.55"/>
<circle cx="284.6" cy="365.0" r="0.60" fill="#333333" stroke="#111" stroke-width="0.55"/>
<circle cx="302.7" cy="359.8" r="0.60" fill="#333333" stroke="#111" stroke-width="0.55"/>
<circle cx="308.3" cy="365.3" r="0.60" fill="#333333" stroke="#111" stroke-width="0.55"/>
<circle cx="304.8" cy="364.9" r="0.60" fill="#333333" stroke="#111" stroke-width="0.55"/>
<circle cx="296.8" cy="362.4" r="0.60" fill="#333333" stroke="#111" stroke-width="0.55"/>
<circle cx="296.0" cy="361.9" r="0.60" fill="#333333" stroke="#111" stroke-width="0.55"/>
<circle cx="298.4" cy="359.6" r="0.60" fill="#333333" stroke="#111" stroke-width="0.55"/>
<circle cx="299.9" cy="364.4" r="0.60" fill="#333333" stroke="#111" stroke-width="0.55"/>
<circle cx="280.5" cy="363.2" r="0.60" fill="#333333" stroke="#111" stroke-width="0.55"/>
<circle cx="301.3" cy="358.3" r="0.60" fill="#333333" stroke="#111" stroke-width="0.55"/>
<circle cx="312.7" cy="369.2" r="0.60" fill="#333333" stroke="#111" stroke-width="0.55"/>
<circle cx="283.8" cy="339.1" r="0.60" fill="#333333" stroke="#111" stroke-width="0.55"/>
<circle cx="285.9" cy="361.9" r="0.60" fill="#333333" stroke="#111" stroke-width="0.55"/>
<circle cx="310.5" cy="366.8" r="0.60" fill="#333333" stroke="#111" stroke-width="0.55"/>
<circle cx="271.1" cy="360.2" r="0.60" fill="#333333" stroke="#111" stroke-width="0.55"/>
<circle cx="293.5" cy="353.0" r="0.60" fill="#333333" stroke="#111" stroke-width="0.55"/>
<circle cx="279.0" cy="356.7" r="0.60" fill="#333333" stroke="#111" stroke-width="0.55"/>
<circle cx="313.7" cy="368.8" r="0.60" fill="#333333" stroke="#111" stroke-width="0.55"/>
<circle cx="296.4" cy="365.6" r="0.60" fill="#333333" stroke="#111" stroke-width="0.55"/>
<circle cx="284.4" cy="363.6" r="0.60" fill="#333333" stroke="#111" stroke-width="0.55"/>
<circle cx="305.1" cy="364.2" r="0.60" fill="#333333" stroke="#111" stroke-width="0.55"/>
<circle cx="305.0" cy="363.4" r="0.60" fill="#333333" stroke="#111" stroke-width="0.55"/>
<circle cx="296.8" cy="360.0" r="0.60" fill="#333333" stroke="#111" stroke-width="0.55"/>
<circle cx="310.2" cy="365.3" r="0.60" fill="#333333" stroke="#111" stroke-width="0.55"/>
<circle cx="291.4" cy="350.6" r="0.60" fill="#333333" stroke="#111" stroke-width="0.55"/>
<circle cx="310.6" cy="367.3" r="0.60" fill="#333333" stroke="#111" stroke-width="0.55"/>
<circle cx="291.3" cy="350.7" r="0.60" fill="#333333" stroke="#111" stroke-width="0.55"/>
<circle cx="309.2" cy="366.9" r="0.60" fill="#333333" stroke="#111" stroke-width="0.55"/>
<circle cx="312.0" cy="368.1" r="0.60" fill="#333333" stroke="#111" stroke-width="0.55"/>
<circle cx="279.6" cy="363.2" r="0.60" fill="#333333" stroke="#111" stroke-width="0.55"/>
<circle cx="312.6" cy="368.7" r="0.60" fill="#333333" stroke="#111" stroke-width="0.55"/>
<circle cx="311.1" cy="369.0" r="0.60" fill="#333333" stroke="#111" stroke-width="0.55"/>
<circle cx="307.0" cy="366.7" r="0.60" fill="#333333" stroke="#111" stroke-width="0.55"/>
<circle cx="307.1" cy="363.7" r="0.60" fill="#333333" stroke="#111" stroke-width="0.55"/>
<circle cx="313.2" cy="368.7" r="0.60" fill="#333333" stroke="#111" stroke-width="0.55"/>
<circle cx="281.7" cy="364.7" r="0.60" fill="#333333" stroke="#111" stroke-width="0.55"/>
<circle cx="302.3" cy="360.7" r="0.60" fill="#333333" stroke="#111" stroke-width="0.55"/>
<circle cx="295.6" cy="355.6" r="0.60" fill="#333333" stroke="#111" stroke-width="0.55"/>
<circle cx="275.4" cy="358.7" r="0.60" fill="#333333" stroke="#111" stroke-width="0.55"/>
<circle cx="295.8" cy="363.2" r="0.60" fill="#333333" stroke="#111" stroke-width="0.55"/>
<circle cx="290.3" cy="359.0" r="0.60" fill="#333333" stroke="#111" stroke-width="0.55"/>
<circle cx="308.7" cy="364.7" r="0.60" fill="#333333" stroke="#111" stroke-width="0.55"/>
<circle cx="302.2" cy="360.9" r="0.60" fill="#333333" stroke="#111" stroke-width="0.55"/>
<circle cx="304.8" cy="361.6" r="0.60" fill="#333333" stroke="#111" stroke-width="0.55"/>
<circle cx="282.2" cy="362.8" r="0.60" fill="#333333" stroke="#111" stroke-width="0.55"/>
<circle cx="291.1" cy="363.0" r="0.60" fill="#333333" stroke="#111" stroke-width="0.55"/>
<circle cx="302.5" cy="365.3" r="0.60" fill="#333333" stroke="#111" stroke-width="0.55"/>
<circle cx="309.4" cy="364.8" r="0.60" fill="#333333" stroke="#111" stroke-width="0.55"/>
<circle cx="311.9" cy="368.2" r="0.60" fill="#333333" stroke="#111" stroke-width="0.55"/>
<circle cx="296.0" cy="363.1" r="0.60" fill="#333333" stroke="#111" stroke-width="0.55"/>
<circle cx="296.3" cy="354.5" r="0.60" fill="#333333" stroke="#111" stroke-width="0.55"/>
<circle cx="281.0" cy="349.1" r="0.60" fill="#333333" stroke="#111" stroke-width="0.55"/>
<circle cx="314.1" cy="369.2" r="0.60" fill="#333333" stroke="#111" stroke-width="0.55"/>
<circle cx="297.6" cy="359.9" r="0.60" fill="#333333" stroke="#111" stroke-width="0.55"/>
<circle cx="297.8" cy="351.5" r="0.60" fill="#333333" stroke="#111" stroke-width="0.55"/>
<circle cx="288.7" cy="347.5" r="0.60" fill="#333333" stroke="#111" stroke-width="0.55"/>
<circle cx="304.8" cy="363.5" r="0.60" fill="#333333" stroke="#111" stroke-width="0.55"/>
<circle cx="304.5" cy="360.6" r="0.60" fill="#333333" stroke="#111" stroke-width="0.55"/>
<circle cx="310.5" cy="368.8" r="0.60" fill="#333333" stroke="#111" stroke-width="0.55"/>
<circle cx="294.0" cy="351.3" r="0.60" fill="#333333" stroke="#111" stroke-width="0.55"/>
<circle cx="279.3" cy="354.1" r="0.60" fill="#333333" stroke="#111" stroke-width="0.55"/>
<circle cx="295.3" cy="365.1" r="0.60" fill="#333333" stroke="#111" stroke-width="0.55"/>
<circle cx="286.0" cy="358.2" r="0.60" fill="#333333" stroke="#111" stroke-width="0.55"/>
<circle cx="303.0" cy="356.7" r="0.60" fill="#333333" stroke="#111" stroke-width="0.55"/>
<circle cx="294.5" cy="359.7" r="0.60" fill="#333333" stroke="#111" stroke-width="0.55"/>
<circle cx="305.3" cy="363.0" r="0.60" fill="#333333" stroke="#111" stroke-width="0.55"/>
<circle cx="301.2" cy="367.1" r="0.60" fill="#333333" stroke="#111" stroke-width="0.55"/>
<circle cx="297.4" cy="353.0" r="0.60" fill="#333333" stroke="#111" stroke-width="0.55"/>
<circle cx="292.9" cy="355.1" r="0.60" fill="#333333" stroke="#111" stroke-width="0.55"/>
<circle cx="311.2" cy="366.4" r="0.60" fill="#333333" stroke="#111" stroke-width="0.55"/>
<circle cx="295.1" cy="363.6" r="0.60" fill="#333333" stroke="#111" stroke-width="0.55"/>
<circle cx="313.0" cy="368.1" r="0.60" fill="#333333" stroke="#111" stroke-width="0.55"/>
<circle cx="273.9" cy="348.5" r="0.60" fill="#333333" stroke="#111" stroke-width="0.55"/>
<circle cx="311.5" cy="367.7" r="0.60" fill="#333333" stroke="#111" stroke-width="0.55"/>
<circle cx="290.2" cy="363.1" r="0.60" fill="#333333" stroke="#111" stroke-width="0.55"/>
<circle cx="282.8" cy="347.7" r="0.60" fill="#333333" stroke="#111" stroke-width="0.55"/>
<circle cx="312.1" cy="366.9" r="0.60" fill="#333333" stroke="#111" stroke-width="0.55"/>
<circle cx="289.1" cy="349.7" r="0.60" fill="#333333" stroke="#111" stroke-width="0.55"/>
<circle cx="279.4" cy="362.5" r="0.60" fill="#333333" stroke="#111" stroke-width="0.55"/>
<circle cx="300.2" cy="364.7" r="0.60" fill="#333333" stroke="#111" stroke-width="0.55"/>
<circle cx="271.6" cy="354.5" r="0.60" fill="#333333" stroke="#111" stroke-width="0.55"/>
<circle cx="300.1" cy="356.3" r="0.60" fill="#333333" stroke="#111" stroke-width="0.55"/>
<circle cx="283.8" cy="363.4" r="0.60" fill="#333333" stroke="#111" stroke-width="0.55"/>
<circle cx="296.6" cy="355.6" r="0.60" fill="#333333" stroke="#111" stroke-width="0.55"/>
<circle cx="289.2" cy="363.1" r="0.60" fill="#333333" stroke="#111" stroke-width="0.55"/>
<circle cx="303.3" cy="365.8" r="0.60" fill="#333333" stroke="#111" stroke-width="0.55"/>
<circle cx="293.6" cy="344.2" r="0.60" fill="#333333" stroke="#111" stroke-width="0.55"/>
<circle cx="287.4" cy="352.8" r="0.60" fill="#333333" stroke="#111" stroke-width="0.55"/>
<circle cx="301.0" cy="360.6" r="0.60" fill="#333333" stroke="#111" stroke-width="0.55"/>
<circle cx="302.4" cy="361.3" r="0.60" fill="#333333" stroke="#111" stroke-width="0.55"/>
<circle cx="281.7" cy="364.2" r="0.60" fill="#333333" stroke="#111" stroke-width="0.55"/>
<circle cx="303.9" cy="360.2" r="0.60" fill="#333333" stroke="#111" stroke-width="0.55"/>
<circle cx="302.1" cy="358.3" r="0.60" fill="#333333" stroke="#111" stroke-width="0.55"/>
<circle cx="313.1" cy="369.3" r="0.60" fill="#333333" stroke="#111" stroke-width="0.55"/>
<circle cx="277.2" cy="360.7" r="0.60" fill="#333333" stroke="#111" stroke-width="0.55"/>
<circle cx="286.1" cy="359.0" r="0.60" fill="#333333" stroke="#111" stroke-width="0.55"/>
<circle cx="281.1" cy="364.5" r="0.60" fill="#333333" stroke="#111" stroke-width="0.55"/>
<circle cx="286.5" cy="359.2" r="0.60" fill="#333333" stroke="#111" stroke-width="0.55"/>
<circle cx="277.1" cy="360.3" r="0.60" fill="#333333" stroke="#111" stroke-width="0.55"/>
<circle cx="303.0" cy="361.9" r="0.60" fill="#333333" stroke="#111" stroke-width="0.55"/>
<circle cx="286.7" cy="364.0" r="0.60" fill="#333333" stroke="#111" stroke-width="0.55"/>
<circle cx="313.7" cy="369.5" r="0.60" fill="#333333" stroke="#111" stroke-width="0.55"/>
<circle cx="313.4" cy="368.5" r="0.60" fill="#333333" stroke="#111" stroke-width="0.55"/>
<circle cx="297.2" cy="355.1" r="0.60" fill="#333333" stroke="#111" stroke-width="0.55"/>
<circle cx="308.6" cy="366.2" r="0.60" fill="#333333" stroke="#111" stroke-width="0.55"/>
<circle cx="281.1" cy="348.9" r="0.60" fill="#333333" stroke="#111" stroke-width="0.55"/>
<circle cx="307.3" cy="361.8" r="0.60" fill="#333333" stroke="#111" stroke-width="0.55"/>
<circle cx="302.5" cy="364.7" r="0.60" fill="#333333" stroke="#111" stroke-width="0.55"/>
<circle cx="292.8" cy="351.1" r="0.60" fill="#333333" stroke="#111" stroke-width="0.55"/>
<circle cx="299.0" cy="354.9" r="0.60" fill="#333333" stroke="#111" stroke-width="0.55"/>
<circle cx="275.5" cy="351.3" r="0.60" fill="#333333" stroke="#111" stroke-width="0.55"/>
<circle cx="305.6" cy="363.4" r="0.60" fill="#333333" stroke="#111" stroke-width="0.55"/>
<circle cx="275.0" cy="346.9" r="0.60" fill="#333333" stroke="#111" stroke-width="0.55"/>
<circle cx="297.2" cy="355.5" r="0.60" fill="#333333" stroke="#111" stroke-width="0.55"/>
<circle cx="311.3" cy="366.2" r="0.60" fill="#333333" stroke="#111" stroke-width="0.55"/>
<circle cx="306.4" cy="361.0" r="0.60" fill="#333333" stroke="#111" stroke-width="0.55"/>
<circle cx="305.6" cy="362.2" r="0.60" fill="#333333" stroke="#111" stroke-width="0.55"/>
<circle cx="290.6" cy="344.4" r="0.60" fill="#333333" stroke="#111" stroke-width="0.55"/>
<circle cx="310.6" cy="365.7" r="0.60" fill="#333333" stroke="#111" stroke-width="0.55"/>
<circle cx="291.4" cy="350.1" r="0.60" fill="#333333" stroke="#111" stroke-width="0.55"/>
<circle cx="306.3" cy="363.0" r="0.60" fill="#333333" stroke="#111" stroke-width="0.55"/>
<circle cx="304.8" cy="357.9" r="0.60" fill="#333333" stroke="#111" stroke-width="0.55"/>
<circle cx="271.8" cy="362.4" r="0.60" fill="#333333" stroke="#111" stroke-width="0.55"/>
<circle cx="305.9" cy="367.7" r="0.60" fill="#333333" stroke="#111" stroke-width="0.55"/>
<circle cx="282.2" cy="354.4" r="0.60" fill="#333333" stroke="#111" stroke-width="0.55"/>
<circle cx="304.0" cy="360.5" r="0.60" fill="#333333" stroke="#111" stroke-width="0.55"/>
<circle cx="300.2" cy="354.8" r="0.60" fill="#333333" stroke="#111" stroke-width="0.55"/>
<circle cx="301.1" cy="361.6" r="0.60" fill="#333333" stroke="#111" stroke-width="0.55"/>
<circle cx="287.2" cy="343.7" r="0.60" fill="#333333" stroke="#111" stroke-width="0.55"/>
<circle cx="295.3" cy="348.9" r="0.60" fill="#333333" stroke="#111" stroke-width="0.55"/>
<circle cx="300.2" cy="359.1" r="0.60" fill="#333333" stroke="#111" stroke-width="0.55"/>
<circle cx="292.6" cy="354.9" r="0.60" fill="#333333" stroke="#111" stroke-width="0.55"/>
<circle cx="296.2" cy="358.7" r="0.60" fill="#333333" stroke="#111" stroke-width="0.55"/>
<circle cx="285.4" cy="359.5" r="0.60" fill="#333333" stroke="#111" stroke-width="0.55"/>
<circle cx="285.7" cy="352.8" r="0.60" fill="#333333" stroke="#111" stroke-width="0.55"/>
<circle cx="299.4" cy="360.1" r="0.60" fill="#333333" stroke="#111" stroke-width="0.55"/>
<circle cx="311.2" cy="367.0" r="0.60" fill="#333333" stroke="#111" stroke-width="0.55"/>
<circle cx="295.6" cy="362.0" r="0.60" fill="#333333" stroke="#111" stroke-width="0.55"/>
<circle cx="294.5" cy="366.2" r="0.60" fill="#333333" stroke="#111" stroke-width="0.55"/>
<circle cx="296.5" cy="353.1" r="0.60" fill="#333333" stroke="#111" stroke-width="0.55"/>
<circle cx="305.2" cy="368.4" r="0.60" fill="#333333" stroke="#111" stroke-width="0.55"/>
<circle cx="295.3" cy="353.1" r="0.60" fill="#333333" stroke="#111" stroke-width="0.55"/>
<circle cx="300.1" cy="364.5" r="0.60" fill="#333333" stroke="#111" stroke-width="0.55"/>
<circle cx="307.2" cy="367.4" r="0.60" fill="#333333" stroke="#111" stroke-width="0.55"/>
<circle cx="313.4" cy="368.8" r="0.60" fill="#333333" stroke="#111" stroke-width="0.55"/>
<circle cx="312.8" cy="369.3" r="0.60" fill="#333333" stroke="#111" stroke-width="0.55"/>
<circle cx="313.3" cy="368.5" r="0.60" fill="#333333" stroke="#111" stroke-width="0.55"/>
<circle cx="298.8" cy="354.9" r="0.60" fill="#333333" stroke="#111" stroke-width="0.55"/>
<circle cx="307.4" cy="365.7" r="0.60" fill="#333333" stroke="#111" stroke-width="0.55"/>
<circle cx="298.7" cy="360.6" r="0.60" fill="#333333" stroke="#111" stroke-width="0.55"/>
<circle cx="305.2" cy="361.7" r="0.60" fill="#333333" stroke="#111" stroke-width="0.55"/>
<circle cx="304.3" cy="358.2" r="0.60" fill="#333333" stroke="#111" stroke-width="0.55"/>
<circle cx="299.0" cy="362.1" r="0.60" fill="#333333" stroke="#111" stroke-width="0.55"/>
<circle cx="305.3" cy="363.0" r="0.60" fill="#333333" stroke="#111" stroke-width="0.55"/>
<circle cx="302.6" cy="365.1" r="0.60" fill="#333333" stroke="#111" stroke-width="0.55"/>
<circle cx="294.5" cy="357.3" r="0.60" fill="#333333" stroke="#111" stroke-width="0.55"/>
<circle cx="310.7" cy="365.5" r="0.60" fill="#333333" stroke="#111" stroke-width="0.55"/>
<circle cx="295.9" cy="350.9" r="0.60" fill="#333333" stroke="#111" stroke-width="0.55"/>
<circle cx="306.9" cy="363.5" r="0.60" fill="#333333" stroke="#111" stroke-width="0.55"/>
<circle cx="307.3" cy="362.8" r="0.60" fill="#333333" stroke="#111" stroke-width="0.55"/>
<circle cx="277.5" cy="352.8" r="0.60" fill="#333333" stroke="#111" stroke-width="0.55"/>
<circle cx="310.1" cy="369.1" r="0.60" fill="#333333" stroke="#111" stroke-width="0.55"/>
<circle cx="287.1" cy="357.6" r="0.60" fill="#333333" stroke="#111" stroke-width="0.55"/>
<circle cx="299.3" cy="359.1" r="0.60" fill="#333333" stroke="#111" stroke-width="0.55"/>
<circle cx="292.9" cy="346.2" r="0.60" fill="#333333" stroke="#111" stroke-width="0.55"/>
<circle cx="294.8" cy="364.1" r="0.60" fill="#333333" stroke="#111" stroke-width="0.55"/>
<circle cx="306.4" cy="365.9" r="0.60" fill="#333333" stroke="#111" stroke-width="0.55"/>
<circle cx="303.9" cy="367.8" r="0.60" fill="#333333" stroke="#111" stroke-width="0.55"/>
<circle cx="280.2" cy="341.3" r="0.60" fill="#333333" stroke="#111" stroke-width="0.55"/>
<circle cx="300.5" cy="367.5" r="0.60" fill="#333333" stroke="#111" stroke-width="0.55"/>
<circle cx="282.2" cy="355.9" r="0.60" fill="#333333" stroke="#111" stroke-width="0.55"/>
<circle cx="310.1" cy="366.9" r="0.60" fill="#333333" stroke="#111" stroke-width="0.55"/>
<circle cx="309.5" cy="367.0" r="0.60" fill="#333333" stroke="#111" stroke-width="0.55"/>
<circle cx="313.8" cy="368.8" r="0.60" fill="#333333" stroke="#111" stroke-width="0.55"/>
<circle cx="281.9" cy="363.7" r="0.60" fill="#333333" stroke="#111" stroke-width="0.55"/>
<circle cx="306.5" cy="364.8" r="0.60" fill="#333333" stroke="#111" stroke-width="0.55"/>
<circle cx="293.5" cy="353.8" r="0.60" fill="#333333" stroke="#111" stroke-width="0.55"/>
<circle cx="272.5" cy="361.9" r="0.60" fill="#333333" stroke="#111" stroke-width="0.55"/>
<circle cx="289.9" cy="348.1" r="0.60" fill="#333333" stroke="#111" stroke-width="0.55"/>
<circle cx="302.3" cy="367.4" r="0.60" fill="#333333" stroke="#111" stroke-width="0.55"/>
<circle cx="306.8" cy="367.2" r="0.60" fill="#333333" stroke="#111" stroke-width="0.55"/>
<circle cx="279.8" cy="354.9" r="0.60" fill="#333333" stroke="#111" stroke-width="0.55"/>
<circle cx="288.0" cy="351.5" r="0.60" fill="#333333" stroke="#111" stroke-width="0.55"/>
<circle cx="302.1" cy="366.7" r="0.60" fill="#333333" stroke="#111" stroke-width="0.55"/>
<circle cx="284.8" cy="352.3" r="0.60" fill="#333333" stroke="#111" stroke-width="0.55"/>
<circle cx="311.6" cy="368.3" r="0.60" fill="#333333" stroke="#111" stroke-width="0.55"/>
<circle cx="286.7" cy="360.4" r="0.60" fill="#333333" stroke="#111" stroke-width="0.55"/>
<circle cx="286.0" cy="362.0" r="0.60" fill="#333333" stroke="#111" stroke-width="0.55"/>
<circle cx="301.0" cy="360.1" r="0.60" fill="#333333" stroke="#111" stroke-width="0.55"/>
<circle cx="283.0" cy="352.8" r="0.60" fill="#333333" stroke="#111" stroke-width="0.55"/>
<circle cx="310.4" cy="367.8" r="0.60" fill="#333333" stroke="#111" stroke-width="0.55"/>
<circle cx="307.5" cy="365.7" r="0.60" fill="#333333" stroke="#111" stroke-width="0.55"/>
<circle cx="306.4" cy="361.7" r="0.60" fill="#333333" stroke="#111" stroke-width="0.55"/>
<circle cx="309.6" cy="366.6" r="0.60" fill="#333333" stroke="#111" stroke-width="0.55"/>
<circle cx="311.0" cy="365.5" r="0.60" fill="#333333" stroke="#111" stroke-width="0.55"/>
<circle cx="309.9" cy="366.3" r="0.60" fill="#333333" stroke="#111" stroke-width="0.55"/>
<circle cx="288.3" cy="356.0" r="0.60" fill="#333333" stroke="#111" stroke-width="0.55"/>
<circle cx="301.2" cy="366.5" r="0.60" fill="#333333" stroke="#111" stroke-width="0.55"/>
<circle cx="302.9" cy="360.5" r="0.60" fill="#333333" stroke="#111" stroke-width="0.55"/>
<circle cx="306.5" cy="364.5" r="0.60" fill="#333333" stroke="#111" stroke-width="0.55"/>
<circle cx="292.0" cy="356.3" r="0.60" fill="#333333" stroke="#111" stroke-width="0.55"/>
<circle cx="298.1" cy="367.3" r="0.60" fill="#333333" stroke="#111" stroke-width="0.55"/>
<circle cx="296.0" cy="361.5" r="0.60" fill="#333333" stroke="#111" stroke-width="0.55"/>
<circle cx="305.4" cy="363.9" r="0.60" fill="#333333" stroke="#111" stroke-width="0.55"/>
<circle cx="309.7" cy="367.5" r="0.60" fill="#333333" stroke="#111" stroke-width="0.55"/>
<circle cx="293.1" cy="362.9" r="0.60" fill="#333333" stroke="#111" stroke-width="0.55"/>
<circle cx="294.3" cy="359.1" r="0.60" fill="#333333" stroke="#111" stroke-width="0.55"/>
<circle cx="313.6" cy="369.1" r="0.60" fill="#333333" stroke="#111" stroke-width="0.55"/>
<circle cx="305.2" cy="365.5" r="0.60" fill="#333333" stroke="#111" stroke-width="0.55"/>
<circle cx="289.7" cy="354.5" r="0.60" fill="#333333" stroke="#111" stroke-width="0.55"/>
<circle cx="300.1" cy="358.1" r="0.60" fill="#333333" stroke="#111" stroke-width="0.55"/>
<circle cx="287.4" cy="360.6" r="0.60" fill="#333333" stroke="#111" stroke-width="0.55"/>
<circle cx="287.9" cy="351.3" r="0.60" fill="#333333" stroke="#111" stroke-width="0.55"/>
<circle cx="305.9" cy="368.6" r="0.60" fill="#333333" stroke="#111" stroke-width="0.55"/>
<circle cx="285.4" cy="355.1" r="0.60" fill="#333333" stroke="#111" stroke-width="0.55"/>
<circle cx="305.3" cy="362.9" r="0.60" fill="#333333" stroke="#111" stroke-width="0.55"/>
<circle cx="285.9" cy="356.3" r="0.60" fill="#333333" stroke="#111" stroke-width="0.55"/>
<circle cx="289.2" cy="347.0" r="0.60" fill="#333333" stroke="#111" stroke-width="0.55"/>
<circle cx="273.3" cy="355.5" r="0.60" fill="#333333" stroke="#111" stroke-width="0.55"/>
<circle cx="284.1" cy="363.6" r="0.60" fill="#333333" stroke="#111" stroke-width="0.55"/>
<circle cx="295.7" cy="357.0" r="0.60" fill="#333333" stroke="#111" stroke-width="0.55"/>
<circle cx="301.4" cy="362.1" r="0.60" fill="#333333" stroke="#111" stroke-width="0.55"/>
<circle cx="292.1" cy="357.5" r="0.60" fill="#333333" stroke="#111" stroke-width="0.55"/>
<circle cx="308.8" cy="368.0" r="0.60" fill="#333333" stroke="#111" stroke-width="0.55"/>
<circle cx="299.1" cy="353.6" r="0.60" fill="#333333" stroke="#111" stroke-width="0.55"/>
<circle cx="296.2" cy="350.8" r="0.60" fill="#333333" stroke="#111" stroke-width="0.55"/>
<circle cx="283.0" cy="351.4" r="0.60" fill="#333333" stroke="#111" stroke-width="0.55"/>
<circle cx="277.8" cy="353.2" r="0.60" fill="#333333" stroke="#111" stroke-width="0.55"/>
<circle cx="308.7" cy="368.8" r="0.60" fill="#333333" stroke="#111" stroke-width="0.55"/>
<circle cx="305.4" cy="362.2" r="0.60" fill="#333333" stroke="#111" stroke-width="0.55"/>
<circle cx="301.2" cy="358.9" r="0.60" fill="#333333" stroke="#111" stroke-width="0.55"/>
<circle cx="309.8" cy="366.6" r="0.60" fill="#333333" stroke="#111" stroke-width="0.55"/>
<circle cx="302.5" cy="362.2" r="0.60" fill="#333333" stroke="#111" stroke-width="0.55"/>
<circle cx="302.8" cy="368.1" r="0.60" fill="#333333" stroke="#111" stroke-width="0.55"/>
<circle cx="291.1" cy="354.3" r="0.60" fill="#333333" stroke="#111" stroke-width="0.55"/>
<circle cx="299.8" cy="354.7" r="0.60" fill="#333333" stroke="#111" stroke-width="0.55"/>
<circle cx="294.2" cy="348.7" r="0.60" fill="#333333" stroke="#111" stroke-width="0.55"/>
<circle cx="304.6" cy="364.3" r="0.60" fill="#333333" stroke="#111" stroke-width="0.55"/>
<circle cx="307.3" cy="364.0" r="0.60" fill="#333333" stroke="#111" stroke-width="0.55"/>
<circle cx="277.9" cy="363.2" r="0.60" fill="#333333" stroke="#111" stroke-width="0.55"/>
<circle cx="293.2" cy="360.4" r="0.60" fill="#333333" stroke="#111" stroke-width="0.55"/>
<circle cx="312.8" cy="368.5" r="0.60" fill="#333333" stroke="#111" stroke-width="0.55"/>
<circle cx="311.7" cy="367.7" r="0.60" fill="#333333" stroke="#111" stroke-width="0.55"/>
<circle cx="309.1" cy="367.3" r="0.60" fill="#333333" stroke="#111" stroke-width="0.55"/>
<circle cx="300.2" cy="362.1" r="0.60" fill="#333333" stroke="#111" stroke-width="0.55"/>
<circle cx="306.1" cy="366.8" r="0.60" fill="#333333" stroke="#111" stroke-width="0.55"/>
<circle cx="313.9" cy="368.7" r="0.60" fill="#333333" stroke="#111" stroke-width="0.55"/>
<circle cx="288.5" cy="350.4" r="0.60" fill="#333333" stroke="#111" stroke-width="0.55"/>
<circle cx="305.0" cy="367.2" r="0.60" fill="#333333" stroke="#111" stroke-width="0.55"/>
<circle cx="306.7" cy="361.9" r="0.60" fill="#333333" stroke="#111" stroke-width="0.55"/>
<circle cx="305.6" cy="363.1" r="0.60" fill="#333333" stroke="#111" stroke-width="0.55"/>
<circle cx="302.1" cy="359.1" r="0.60" fill="#333333" stroke="#111" stroke-width="0.55"/>
<circle cx="299.4" cy="358.0" r="0.60" fill="#333333" stroke="#111" stroke-width="0.55"/>
<circle cx="285.9" cy="349.4" r="0.60" fill="#333333" stroke="#111" stroke-width="0.55"/>
<circle cx="294.4" cy="356.3" r="0.60" fill="#333333" stroke="#111" stroke-width="0.55"/>
<circle cx="295.7" cy="356.6" r="0.60" fill="#333333" stroke="#111" stroke-width="0.55"/>
<circle cx="307.3" cy="364.4" r="0.60" fill="#333333" stroke="#111" stroke-width="0.55"/>
<circle cx="312.4" cy="368.7" r="0.60" fill="#333333" stroke="#111" stroke-width="0.55"/>
<circle cx="275.8" cy="360.6" r="0.60" fill="#333333" stroke="#111" stroke-width="0.55"/>
<circle cx="308.1" cy="367.5" r="0.60" fill="#333333" stroke="#111" stroke-width="0.55"/>
<circle cx="299.7" cy="359.1" r="0.60" fill="#333333" stroke="#111" stroke-width="0.55"/>
<circle cx="310.7" cy="368.5" r="0.60" fill="#333333" stroke="#111" stroke-width="0.55"/>
<circle cx="308.7" cy="364.1" r="0.60" fill="#333333" stroke="#111" stroke-width="0.55"/>
<circle cx="289.5" cy="357.9" r="0.60" fill="#333333" stroke="#111" stroke-width="0.55"/>
<circle cx="308.0" cy="364.4" r="0.60" fill="#333333" stroke="#111" stroke-width="0.55"/>
<circle cx="313.5" cy="369.0" r="0.60" fill="#333333" stroke="#111" stroke-width="0.55"/>
<circle cx="302.9" cy="363.7" r="0.60" fill="#333333" stroke="#111" stroke-width="0.55"/>
<circle cx="277.3" cy="352.6" r="0.60" fill="#333333" stroke="#111" stroke-width="0.55"/>
<circle cx="301.4" cy="361.9" r="0.60" fill="#333333" stroke="#111" stroke-width="0.55"/>
<circle cx="305.4" cy="363.9" r="0.60" fill="#333333" stroke="#111" stroke-width="0.55"/>
<circle cx="289.6" cy="354.9" r="0.60" fill="#333333" stroke="#111" stroke-width="0.55"/>
<circle cx="294.2" cy="363.5" r="0.60" fill="#333333" stroke="#111" stroke-width="0.55"/>
<circle cx="307.7" cy="363.6" r="0.60" fill="#333333" stroke="#111" stroke-width="0.55"/>
<circle cx="288.1" cy="361.7" r="0.60" fill="#333333" stroke="#111" stroke-width="0.55"/>
<circle cx="296.9" cy="359.2" r="0.60" fill="#333333" stroke="#111" stroke-width="0.55"/>
<circle cx="290.3" cy="351.3" r="0.60" fill="#333333" stroke="#111" stroke-width="0.55"/>
<circle cx="307.9" cy="364.6" r="0.60" fill="#333333" stroke="#111" stroke-width="0.55"/>
<circle cx="308.7" cy="365.5" r="0.60" fill="#333333" stroke="#111" stroke-width="0.55"/>
<circle cx="308.2" cy="365.1" r="0.60" fill="#333333" stroke="#111" stroke-width="0.55"/>
<circle cx="302.2" cy="356.7" r="0.60" fill="#333333" stroke="#111" stroke-width="0.55"/>
<circle cx="282.1" cy="351.0" r="0.60" fill="#333333" stroke="#111" stroke-width="0.55"/>
<circle cx="300.2" cy="353.8" r="0.60" fill="#333333" stroke="#111" stroke-width="0.55"/>
<circle cx="294.7" cy="356.2" r="0.60" fill="#333333" stroke="#111" stroke-width="0.55"/>
<circle cx="312.3" cy="369.0" r="0.60" fill="#333333" stroke="#111" stroke-width="0.55"/>
<circle cx="290.3" cy="363.9" r="0.60" fill="#333333" stroke="#111" stroke-width="0.55"/>
<circle cx="297.1" cy="366.5" r="0.60" fill="#333333" stroke="#111" stroke-width="0.55"/>
<circle cx="294.6" cy="359.9" r="0.60" fill="#333333" stroke="#111" stroke-width="0.55"/>
<circle cx="284.9" cy="360.6" r="0.60" fill="#333333" stroke="#111" stroke-width="0.55"/>
<circle cx="310.0" cy="366.7" r="0.60" fill="#333333" stroke="#111" stroke-width="0.55"/>
<circle cx="287.1" cy="364.2" r="0.60" fill="#333333" stroke="#111" stroke-width="0.55"/>
<circle cx="308.4" cy="362.8" r="0.60" fill="#333333" stroke="#111" stroke-width="0.55"/>
<circle cx="307.7" cy="366.2" r="0.60" fill="#333333" stroke="#111" stroke-width="0.55"/>
<circle cx="285.2" cy="347.4" r="0.60" fill="#333333" stroke="#111" stroke-width="0.55"/>
<circle cx="309.9" cy="369.1" r="0.60" fill="#333333" stroke="#111" stroke-width="0.55"/>
<circle cx="308.2" cy="366.4" r="0.60" fill="#333333" stroke="#111" stroke-width="0.55"/>
<circle cx="278.9" cy="362.1" r="0.60" fill="#333333" stroke="#111" stroke-width="0.55"/>
<circle cx="288.0" cy="365.9" r="0.60" fill="#333333" stroke="#111" stroke-width="0.55"/>
<circle cx="311.8" cy="368.2" r="0.60" fill="#333333" stroke="#111" stroke-width="0.55"/>
<circle cx="286.0" cy="344.4" r="0.60" fill="#333333" stroke="#111" stroke-width="0.55"/>
<circle cx="301.2" cy="365.0" r="0.60" fill="#333333" stroke="#111" stroke-width="0.55"/>
<circle cx="271.6" cy="361.9" r="0.60" fill="#333333" stroke="#111" stroke-width="0.55"/>
<circle cx="300.0" cy="357.8" r="0.60" fill="#333333" stroke="#111" stroke-width="0.55"/>
<circle cx="307.3" cy="365.6" r="0.60" fill="#333333" stroke="#111" stroke-width="0.55"/>
<circle cx="282.3" cy="362.5" r="0.60" fill="#333333" stroke="#111" stroke-width="0.55"/>
<circle cx="303.4" cy="361.1" r="0.60" fill="#333333" stroke="#111" stroke-width="0.55"/>
<circle cx="297.6" cy="358.3" r="0.60" fill="#333333" stroke="#111" stroke-width="0.55"/>
<circle cx="296.8" cy="366.5" r="0.60" fill="#333333" stroke="#111" stroke-width="0.55"/>
<circle cx="289.8" cy="353.2" r="0.60" fill="#333333" stroke="#111" stroke-width="0.55"/>
<circle cx="304.1" cy="365.3" r="0.60" fill="#333333" stroke="#111" stroke-width="0.55"/>
<circle cx="280.6" cy="363.0" r="0.60" fill="#333333" stroke="#111" stroke-width="0.55"/>
<circle cx="292.0" cy="352.3" r="0.60" fill="#333333" stroke="#111" stroke-width="0.55"/>
<circle cx="281.4" cy="364.6" r="0.60" fill="#333333" stroke="#111" stroke-width="0.55"/>
<circle cx="301.7" cy="362.4" r="0.60" fill="#333333" stroke="#111" stroke-width="0.55"/>
<circle cx="294.8" cy="367.0" r="0.60" fill="#333333" stroke="#111" stroke-width="0.55"/>
<circle cx="306.8" cy="364.9" r="0.60" fill="#333333" stroke="#111" stroke-width="0.55"/>
<circle cx="303.0" cy="361.2" r="0.60" fill="#333333" stroke="#111" stroke-width="0.55"/>
<circle cx="291.5" cy="344.2" r="0.60" fill="#333333" stroke="#111" stroke-width="0.55"/>
<circle cx="305.6" cy="365.0" r="0.60" fill="#333333" stroke="#111" stroke-width="0.55"/>
<circle cx="295.2" cy="364.7" r="0.60" fill="#333333" stroke="#111" stroke-width="0.55"/>
<circle cx="283.5" cy="357.7" r="0.60" fill="#333333" stroke="#111" stroke-width="0.55"/>
<circle cx="293.5" cy="365.8" r="0.60" fill="#333333" stroke="#111" stroke-width="0.55"/>
<circle cx="302.5" cy="366.5" r="0.60" fill="#333333" stroke="#111" stroke-width="0.55"/>
<circle cx="290.0" cy="352.3" r="0.60" fill="#333333" stroke="#111" stroke-width="0.55"/>
<circle cx="314.2" cy="369.4" r="0.60" fill="#333333" stroke="#111" stroke-width="0.55"/>
<circle cx="281.2" cy="360.7" r="0.60" fill="#333333" stroke="#111" stroke-width="0.55"/>
<circle cx="314.0" cy="369.5" r="0.60" fill="#333333" stroke="#111" stroke-width="0.55"/>
<circle cx="303.2" cy="359.9" r="0.60" fill="#333333" stroke="#111" stroke-width="0.55"/>
<circle cx="290.9" cy="354.7" r="0.60" fill="#333333" stroke="#111" stroke-width="0.55"/>
<circle cx="310.4" cy="367.0" r="0.60" fill="#333333" stroke="#111" stroke-width="0.55"/>
<circle cx="311.8" cy="366.3" r="0.60" fill="#333333" stroke="#111" stroke-width="0.55"/>
<circle cx="293.5" cy="362.9" r="0.60" fill="#333333" stroke="#111" stroke-width="0.55"/>
<circle cx="296.5" cy="349.9" r="0.60" fill="#333333" stroke="#111" stroke-width="0.55"/>
<circle cx="302.1" cy="366.3" r="0.60" fill="#333333" stroke="#111" stroke-width="0.55"/>
<circle cx="304.5" cy="366.0" r="0.60" fill="#333333" stroke="#111" stroke-width="0.55"/>
<circle cx="311.4" cy="367.8" r="0.60" fill="#333333" stroke="#111" stroke-width="0.55"/>
<circle cx="308.6" cy="365.5" r="0.60" fill="#333333" stroke="#111" stroke-width="0.55"/>
<circle cx="307.3" cy="363.2" r="0.60" fill="#333333" stroke="#111" stroke-width="0.55"/>
<circle cx="291.5" cy="349.6" r="0.60" fill="#333333" stroke="#111" stroke-width="0.55"/>
<circle cx="301.7" cy="362.9" r="0.60" fill="#333333" stroke="#111" stroke-width="0.55"/>
<circle cx="307.8" cy="364.1" r="0.60" fill="#333333" stroke="#111" stroke-width="0.55"/>
<circle cx="309.4" cy="363.7" r="0.60" fill="#333333" stroke="#111" stroke-width="0.55"/>
<circle cx="292.6" cy="360.5" r="0.60" fill="#333333" stroke="#111" stroke-width="0.55"/>
<circle cx="284.9" cy="350.7" r="0.60" fill="#333333" stroke="#111" stroke-width="0.55"/>
<circle cx="285.0" cy="358.2" r="0.60" fill="#333333" stroke="#111" stroke-width="0.55"/>
<circle cx="313.3" cy="368.6" r="0.60" fill="#333333" stroke="#111" stroke-width="0.55"/>
<circle cx="307.5" cy="366.1" r="0.60" fill="#333333" stroke="#111" stroke-width="0.55"/>
<circle cx="294.9" cy="356.2" r="0.60" fill="#333333" stroke="#111" stroke-width="0.55"/>
<circle cx="305.6" cy="365.0" r="0.60" fill="#333333" stroke="#111" stroke-width="0.55"/>
<circle cx="309.6" cy="367.3" r="0.60" fill="#333333" stroke="#111" stroke-width="0.55"/>
<circle cx="297.6" cy="353.0" r="0.60" fill="#333333" stroke="#111" stroke-width="0.55"/>
<circle cx="292.9" cy="353.2" r="0.60" fill="#333333" stroke="#111" stroke-width="0.55"/>
<circle cx="307.0" cy="363.8" r="0.60" fill="#333333" stroke="#111" stroke-width="0.55"/>
<circle cx="295.5" cy="363.7" r="0.60" fill="#333333" stroke="#111" stroke-width="0.55"/>
<circle cx="305.7" cy="362.4" r="0.60" fill="#333333" stroke="#111" stroke-width="0.55"/>
<circle cx="300.2" cy="363.3" r="0.60" fill="#333333" stroke="#111" stroke-width="0.55"/>
<circle cx="310.7" cy="366.5" r="0.60" fill="#333333" stroke="#111" stroke-width="0.55"/>
<circle cx="302.3" cy="363.1" r="0.60" fill="#333333" stroke="#111" stroke-width="0.55"/>
<circle cx="308.2" cy="365.4" r="0.60" fill="#333333" stroke="#111" stroke-width="0.55"/>
<circle cx="304.4" cy="357.6" r="0.60" fill="#333333" stroke="#111" stroke-width="0.55"/>
<circle cx="304.8" cy="362.2" r="0.60" fill="#333333" stroke="#111" stroke-width="0.55"/>
<circle cx="305.7" cy="364.6" r="0.60" fill="#333333" stroke="#111" stroke-width="0.55"/>
<circle cx="292.7" cy="362.9" r="0.60" fill="#333333" stroke="#111" stroke-width="0.55"/>
<circle cx="300.1" cy="352.4" r="0.60" fill="#333333" stroke="#111" stroke-width="0.55"/>
<circle cx="313.7" cy="368.6" r="0.60" fill="#333333" stroke="#111" stroke-width="0.55"/>
<circle cx="278.9" cy="349.8" r="0.60" fill="#333333" stroke="#111" stroke-width="0.55"/>
<circle cx="310.9" cy="366.1" r="0.60" fill="#333333" stroke="#111" stroke-width="0.55"/>
<circle cx="310.2" cy="367.9" r="0.60" fill="#333333" stroke="#111" stroke-width="0.55"/>
<circle cx="310.7" cy="366.6" r="0.60" fill="#333333" stroke="#111" stroke-width="0.55"/>
<circle cx="334.1" cy="364.4" r="0.60" fill="#333333" stroke="#111" stroke-width="0.55"/>
<circle cx="316.8" cy="368.8" r="0.60" fill="#333333" stroke="#111" stroke-width="0.55"/>
<circle cx="334.0" cy="360.2" r="0.60" fill="#333333" stroke="#111" stroke-width="0.55"/>
<circle cx="325.4" cy="365.0" r="0.60" fill="#333333" stroke="#111" stroke-width="0.55"/>
<circle cx="341.2" cy="360.2" r="0.60" fill="#333333" stroke="#111" stroke-width="0.55"/>
<circle cx="328.5" cy="364.7" r="0.60" fill="#333333" stroke="#111" stroke-width="0.55"/>
<circle cx="343.7" cy="354.1" r="0.60" fill="#333333" stroke="#111" stroke-width="0.55"/>
<circle cx="325.6" cy="364.1" r="0.60" fill="#333333" stroke="#111" stroke-width="0.55"/>
<circle cx="338.6" cy="360.6" r="0.60" fill="#333333" stroke="#111" stroke-width="0.55"/>
<circle cx="318.4" cy="368.8" r="0.60" fill="#333333" stroke="#111" stroke-width="0.55"/>
<circle cx="338.2" cy="362.7" r="0.60" fill="#333333" stroke="#111" stroke-width="0.55"/>
<circle cx="322.2" cy="367.6" r="0.60" fill="#333333" stroke="#111" stroke-width="0.55"/>
<circle cx="323.3" cy="367.3" r="0.60" fill="#333333" stroke="#111" stroke-width="0.55"/>
<circle cx="322.0" cy="366.9" r="0.60" fill="#333333" stroke="#111" stroke-width="0.55"/>
<circle cx="317.5" cy="368.3" r="0.60" fill="#333333" stroke="#111" stroke-width="0.55"/>
<circle cx="325.0" cy="367.0" r="0.60" fill="#333333" stroke="#111" stroke-width="0.55"/>
<circle cx="326.4" cy="367.1" r="0.60" fill="#333333" stroke="#111" stroke-width="0.55"/>
<circle cx="321.3" cy="366.3" r="0.60" fill="#333333" stroke="#111" stroke-width="0.55"/>
<circle cx="330.1" cy="363.3" r="0.60" fill="#333333" stroke="#111" stroke-width="0.55"/>
<circle cx="317.9" cy="368.1" r="0.60" fill="#333333" stroke="#111" stroke-width="0.55"/>
<circle cx="340.7" cy="361.9" r="0.60" fill="#333333" stroke="#111" stroke-width="0.55"/>
<circle cx="324.3" cy="366.6" r="0.60" fill="#333333" stroke="#111" stroke-width="0.55"/>
<circle cx="316.9" cy="369.1" r="0.60" fill="#333333" stroke="#111" stroke-width="0.55"/>
<circle cx="335.9" cy="360.7" r="0.60" fill="#333333" stroke="#111" stroke-width="0.55"/>
<circle cx="317.1" cy="368.7" r="0.60" fill="#333333" stroke="#111" stroke-width="0.55"/>
<circle cx="334.8" cy="365.5" r="0.60" fill="#333333" stroke="#111" stroke-width="0.55"/>
<circle cx="327.9" cy="367.0" r="0.60" fill="#333333" stroke="#111" stroke-width="0.55"/>
<circle cx="335.9" cy="364.5" r="0.60" fill="#333333" stroke="#111" stroke-width="0.55"/>
<circle cx="337.9" cy="358.0" r="0.60" fill="#333333" stroke="#111" stroke-width="0.55"/>
<circle cx="329.2" cy="364.8" r="0.60" fill="#333333" stroke="#111" stroke-width="0.55"/>
<circle cx="316.1" cy="368.7" r="0.60" fill="#333333" stroke="#111" stroke-width="0.55"/>
<circle cx="321.3" cy="367.4" r="0.60" fill="#333333" stroke="#111" stroke-width="0.55"/>
<circle cx="326.1" cy="365.8" r="0.60" fill="#333333" stroke="#111" stroke-width="0.55"/>
<circle cx="333.1" cy="359.6" r="0.60" fill="#333333" stroke="#111" stroke-width="0.55"/>
<circle cx="329.7" cy="367.2" r="0.60" fill="#333333" stroke="#111" stroke-width="0.55"/>
<circle cx="341.5" cy="355.6" r="0.60" fill="#333333" stroke="#111" stroke-width="0.55"/>
<circle cx="318.4" cy="368.2" r="0.60" fill="#333333" stroke="#111" stroke-width="0.55"/>
<circle cx="326.1" cy="366.0" r="0.60" fill="#333333" stroke="#111" stroke-width="0.55"/>
<circle cx="331.4" cy="363.0" r="0.60" fill="#333333" stroke="#111" stroke-width="0.55"/>
<circle cx="338.9" cy="360.1" r="0.60" fill="#333333" stroke="#111" stroke-width="0.55"/>
<circle cx="327.3" cy="362.8" r="0.60" fill="#333333" stroke="#111" stroke-width="0.55"/>
<circle cx="321.9" cy="365.9" r="0.60" fill="#333333" stroke="#111" stroke-width="0.55"/>
<circle cx="340.8" cy="353.4" r="0.60" fill="#333333" stroke="#111" stroke-width="0.55"/>
<circle cx="334.7" cy="362.1" r="0.60" fill="#333333" stroke="#111" stroke-width="0.55"/>
<circle cx="317.1" cy="368.5" r="0.60" fill="#333333" stroke="#111" stroke-width="0.55"/>
<circle cx="319.6" cy="368.7" r="0.60" fill="#333333" stroke="#111" stroke-width="0.55"/>
<circle cx="351.7" cy="361.8" r="0.60" fill="#333333" stroke="#111" stroke-width="0.55"/>
<circle cx="322.6" cy="368.3" r="0.60" fill="#333333" stroke="#111" stroke-width="0.55"/>
<circle cx="322.3" cy="365.9" r="0.60" fill="#333333" stroke="#111" stroke-width="0.55"/>
<circle cx="337.4" cy="355.2" r="0.60" fill="#333333" stroke="#111" stroke-width="0.55"/>
<circle cx="344.0" cy="360.8" r="0.60" fill="#333333" stroke="#111" stroke-width="0.55"/>
<circle cx="338.5" cy="362.2" r="0.60" fill="#333333" stroke="#111" stroke-width="0.55"/>
<circle cx="315.2" cy="369.3" r="0.60" fill="#333333" stroke="#111" stroke-width="0.55"/>
<circle cx="319.2" cy="368.6" r="0.60" fill="#333333" stroke="#111" stroke-width="0.55"/>
<circle cx="326.5" cy="362.2" r="0.60" fill="#333333" stroke="#111" stroke-width="0.55"/>
<circle cx="328.1" cy="363.8" r="0.60" fill="#333333" stroke="#111" stroke-width="0.55"/>
<circle cx="325.2" cy="363.6" r="0.60" fill="#333333" stroke="#111" stroke-width="0.55"/>
<circle cx="321.9" cy="365.9" r="0.60" fill="#333333" stroke="#111" stroke-width="0.55"/>
<circle cx="332.6" cy="360.9" r="0.60" fill="#333333" stroke="#111" stroke-width="0.55"/>
<circle cx="319.1" cy="368.0" r="0.60" fill="#333333" stroke="#111" stroke-width="0.55"/>
<circle cx="331.6" cy="360.4" r="0.60" fill="#333333" stroke="#111" stroke-width="0.55"/>
<circle cx="337.2" cy="362.7" r="0.60" fill="#333333" stroke="#111" stroke-width="0.55"/>
<circle cx="318.1" cy="368.2" r="0.60" fill="#333333" stroke="#111" stroke-width="0.55"/>
<circle cx="318.1" cy="369.0" r="0.60" fill="#333333" stroke="#111" stroke-width="0.55"/>
<circle cx="315.7" cy="369.1" r="0.60" fill="#333333" stroke="#111" stroke-width="0.55"/>
<circle cx="333.5" cy="366.2" r="0.60" fill="#333333" stroke="#111" stroke-width="0.55"/>
<circle cx="324.3" cy="366.9" r="0.60" fill="#333333" stroke="#111" stroke-width="0.55"/>
<circle cx="318.0" cy="368.5" r="0.60" fill="#333333" stroke="#111" stroke-width="0.55"/>
<circle cx="322.5" cy="366.5" r="0.60" fill="#333333" stroke="#111" stroke-width="0.55"/>
<circle cx="321.0" cy="366.6" r="0.60" fill="#333333" stroke="#111" stroke-width="0.55"/>
<circle cx="332.3" cy="357.6" r="0.60" fill="#333333" stroke="#111" stroke-width="0.55"/>
<circle cx="322.7" cy="366.8" r="0.60" fill="#333333" stroke="#111" stroke-width="0.55"/>
<circle cx="320.0" cy="368.0" r="0.60" fill="#333333" stroke="#111" stroke-width="0.55"/>
<circle cx="316.6" cy="369.1" r="0.60" fill="#333333" stroke="#111" stroke-width="0.55"/>
<circle cx="324.1" cy="367.3" r="0.60" fill="#333333" stroke="#111" stroke-width="0.55"/>
<circle cx="324.6" cy="365.0" r="0.60" fill="#333333" stroke="#111" stroke-width="0.55"/>
<circle cx="344.2" cy="363.8" r="0.60" fill="#333333" stroke="#111" stroke-width="0.55"/>
<circle cx="324.2" cy="367.6" r="0.60" fill="#333333" stroke="#111" stroke-width="0.55"/>
<circle cx="329.4" cy="366.5" r="0.60" fill="#333333" stroke="#111" stroke-width="0.55"/>
<circle cx="331.2" cy="366.1" r="0.60" fill="#333333" stroke="#111" stroke-width="0.55"/>
<circle cx="334.8" cy="364.4" r="0.60" fill="#333333" stroke="#111" stroke-width="0.55"/>
<circle cx="330.6" cy="361.4" r="0.60" fill="#333333" stroke="#111" stroke-width="0.55"/>
<circle cx="320.4" cy="367.7" r="0.60" fill="#333333" stroke="#111" stroke-width="0.55"/>
<circle cx="328.3" cy="362.4" r="0.60" fill="#333333" stroke="#111" stroke-width="0.55"/>
<circle cx="334.5" cy="358.3" r="0.60" fill="#333333" stroke="#111" stroke-width="0.55"/>
<circle cx="319.1" cy="368.1" r="0.60" fill="#333333" stroke="#111" stroke-width="0.55"/>
<circle cx="321.6" cy="367.1" r="0.60" fill="#333333" stroke="#111" stroke-width="0.55"/>
<circle cx="315.9" cy="368.9" r="0.60" fill="#333333" stroke="#111" stroke-width="0.55"/>
<circle cx="326.5" cy="367.6" r="0.60" fill="#333333" stroke="#111" stroke-width="0.55"/>
<circle cx="336.4" cy="360.2" r="0.60" fill="#333333" stroke="#111" stroke-width="0.55"/>
<circle cx="327.5" cy="361.8" r="0.60" fill="#333333" stroke="#111" stroke-width="0.55"/>
<circle cx="318.0" cy="367.9" r="0.60" fill="#333333" stroke="#111" stroke-width="0.55"/>
<circle cx="328.1" cy="367.3" r="0.60" fill="#333333" stroke="#111" stroke-width="0.55"/>
<circle cx="327.6" cy="363.5" r="0.60" fill="#333333" stroke="#111" stroke-width="0.55"/>
<circle cx="345.5" cy="361.7" r="0.60" fill="#333333" stroke="#111" stroke-width="0.55"/>
<circle cx="318.8" cy="368.6" r="0.60" fill="#333333" stroke="#111" stroke-width="0.55"/>
<circle cx="321.8" cy="366.5" r="0.60" fill="#333333" stroke="#111" stroke-width="0.55"/>
<circle cx="322.5" cy="368.2" r="0.60" fill="#333333" stroke="#111" stroke-width="0.55"/>
<circle cx="315.5" cy="369.2" r="0.60" fill="#333333" stroke="#111" stroke-width="0.55"/>
<circle cx="324.5" cy="367.5" r="0.60" fill="#333333" stroke="#111" stroke-width="0.55"/>
<circle cx="320.4" cy="368.2" r="0.60" fill="#333333" stroke="#111" stroke-width="0.55"/>
<circle cx="330.0" cy="363.5" r="0.60" fill="#333333" stroke="#111" stroke-width="0.55"/>
<circle cx="342.8" cy="355.6" r="0.60" fill="#333333" stroke="#111" stroke-width="0.55"/>
<circle cx="335.1" cy="361.3" r="0.60" fill="#333333" stroke="#111" stroke-width="0.55"/>
<circle cx="320.8" cy="368.0" r="0.60" fill="#333333" stroke="#111" stroke-width="0.55"/>
<circle cx="354.8" cy="361.4" r="0.60" fill="#333333" stroke="#111" stroke-width="0.55"/>
<circle cx="322.7" cy="364.6" r="0.60" fill="#333333" stroke="#111" stroke-width="0.55"/>
<circle cx="324.9" cy="363.7" r="0.60" fill="#333333" stroke="#111" stroke-width="0.55"/>
<circle cx="317.8" cy="368.1" r="0.60" fill="#333333" stroke="#111" stroke-width="0.55"/>
<circle cx="337.1" cy="354.4" r="0.60" fill="#333333" stroke="#111" stroke-width="0.55"/>
<circle cx="324.5" cy="366.2" r="0.60" fill="#333333" stroke="#111" stroke-width="0.55"/>
<circle cx="330.5" cy="361.2" r="0.60" fill="#333333" stroke="#111" stroke-width="0.55"/>
<circle cx="323.3" cy="367.2" r="0.60" fill="#333333" stroke="#111" stroke-width="0.55"/>
<circle cx="320.2" cy="367.2" r="0.60" fill="#333333" stroke="#111" stroke-width="0.55"/>
<circle cx="319.6" cy="368.4" r="0.60" fill="#333333" stroke="#111" stroke-width="0.55"/>
<circle cx="327.5" cy="361.7" r="0.60" fill="#333333" stroke="#111" stroke-width="0.55"/>
<circle cx="335.9" cy="361.1" r="0.60" fill="#333333" stroke="#111" stroke-width="0.55"/>
<circle cx="334.8" cy="360.4" r="0.60" fill="#333333" stroke="#111" stroke-width="0.55"/>
<circle cx="321.9" cy="368.4" r="0.60" fill="#333333" stroke="#111" stroke-width="0.55"/>
<circle cx="317.0" cy="368.4" r="0.60" fill="#333333" stroke="#111" stroke-width="0.55"/>
<circle cx="324.4" cy="364.5" r="0.60" fill="#333333" stroke="#111" stroke-width="0.55"/>
<circle cx="348.0" cy="360.8" r="0.60" fill="#333333" stroke="#111" stroke-width="0.55"/>
<circle cx="325.8" cy="368.0" r="0.60" fill="#333333" stroke="#111" stroke-width="0.55"/>
<circle cx="318.1" cy="367.7" r="0.60" fill="#333333" stroke="#111" stroke-width="0.55"/>
<circle cx="332.6" cy="359.2" r="0.60" fill="#333333" stroke="#111" stroke-width="0.55"/>
<circle cx="323.8" cy="365.6" r="0.60" fill="#333333" stroke="#111" stroke-width="0.55"/>
<circle cx="353.8" cy="361.4" r="0.60" fill="#333333" stroke="#111" stroke-width="0.55"/>
<circle cx="319.4" cy="368.0" r="0.60" fill="#333333" stroke="#111" stroke-width="0.55"/>
<circle cx="332.1" cy="365.4" r="0.60" fill="#333333" stroke="#111" stroke-width="0.55"/>
<circle cx="322.1" cy="367.7" r="0.60" fill="#333333" stroke="#111" stroke-width="0.55"/>
<circle cx="350.1" cy="362.1" r="0.60" fill="#333333" stroke="#111" stroke-width="0.55"/>
<circle cx="345.1" cy="362.6" r="0.60" fill="#333333" stroke="#111" stroke-width="0.55"/>
<circle cx="349.8" cy="362.4" r="0.60" fill="#333333" stroke="#111" stroke-width="0.55"/>
<circle cx="333.6" cy="358.5" r="0.60" fill="#333333" stroke="#111" stroke-width="0.55"/>
<circle cx="319.0" cy="367.6" r="0.60" fill="#333333" stroke="#111" stroke-width="0.55"/>
<circle cx="318.9" cy="367.9" r="0.60" fill="#333333" stroke="#111" stroke-width="0.55"/>
<circle cx="335.2" cy="364.3" r="0.60" fill="#333333" stroke="#111" stroke-width="0.55"/>
<circle cx="334.6" cy="364.6" r="0.60" fill="#333333" stroke="#111" stroke-width="0.55"/>
<circle cx="320.7" cy="367.2" r="0.60" fill="#333333" stroke="#111" stroke-width="0.55"/>
<circle cx="324.0" cy="366.6" r="0.60" fill="#333333" stroke="#111" stroke-width="0.55"/>
<circle cx="328.4" cy="364.5" r="0.60" fill="#333333" stroke="#111" stroke-width="0.55"/>
<circle cx="333.9" cy="363.5" r="0.60" fill="#333333" stroke="#111" stroke-width="0.55"/>
<circle cx="320.2" cy="368.8" r="0.60" fill="#333333" stroke="#111" stroke-width="0.55"/>
<circle cx="321.4" cy="366.2" r="0.60" fill="#333333" stroke="#111" stroke-width="0.55"/>
<circle cx="318.7" cy="368.9" r="0.60" fill="#333333" stroke="#111" stroke-width="0.55"/>
<circle cx="340.2" cy="365.2" r="0.60" fill="#333333" stroke="#111" stroke-width="0.55"/>
<circle cx="327.8" cy="363.1" r="0.60" fill="#333333" stroke="#111" stroke-width="0.55"/>
<circle cx="336.8" cy="364.7" r="0.60" fill="#333333" stroke="#111" stroke-width="0.55"/>
<circle cx="334.8" cy="357.9" r="0.60" fill="#333333" stroke="#111" stroke-width="0.55"/>
<circle cx="337.7" cy="359.5" r="0.60" fill="#333333" stroke="#111" stroke-width="0.55"/>
<circle cx="325.8" cy="363.9" r="0.60" fill="#333333" stroke="#111" stroke-width="0.55"/>
<circle cx="338.2" cy="365.5" r="0.60" fill="#333333" stroke="#111" stroke-width="0.55"/>
<circle cx="321.7" cy="368.0" r="0.60" fill="#333333" stroke="#111" stroke-width="0.55"/>
<circle cx="334.6" cy="363.4" r="0.60" fill="#333333" stroke="#111" stroke-width="0.55"/>
<circle cx="330.9" cy="365.2" r="0.60" fill="#333333" stroke="#111" stroke-width="0.55"/>
<circle cx="316.7" cy="368.6" r="0.60" fill="#333333" stroke="#111" stroke-width="0.55"/>
<circle cx="323.6" cy="364.2" r="0.60" fill="#333333" stroke="#111" stroke-width="0.55"/>
<circle cx="330.7" cy="366.5" r="0.60" fill="#333333" stroke="#111" stroke-width="0.55"/>
<circle cx="326.7" cy="364.9" r="0.60" fill="#333333" stroke="#111" stroke-width="0.55"/>
<circle cx="338.6" cy="361.9" r="0.60" fill="#333333" stroke="#111" stroke-width="0.55"/>
<circle cx="319.7" cy="367.7" r="0.60" fill="#333333" stroke="#111" stroke-width="0.55"/>
<circle cx="341.6" cy="361.3" r="0.60" fill="#333333" stroke="#111" stroke-width="0.55"/>
<circle cx="339.2" cy="363.3" r="0.60" fill="#333333" stroke="#111" stroke-width="0.55"/>
<circle cx="326.2" cy="364.8" r="0.60" fill="#333333" stroke="#111" stroke-width="0.55"/>
<circle cx="324.2" cy="363.2" r="0.60" fill="#333333" stroke="#111" stroke-width="0.55"/>
<circle cx="344.0" cy="361.5" r="0.60" fill="#333333" stroke="#111" stroke-width="0.55"/>
<circle cx="317.0" cy="369.1" r="0.60" fill="#333333" stroke="#111" stroke-width="0.55"/>
<circle cx="325.1" cy="366.6" r="0.60" fill="#333333" stroke="#111" stroke-width="0.55"/>
<circle cx="335.4" cy="357.4" r="0.60" fill="#333333" stroke="#111" stroke-width="0.55"/>
<circle cx="341.1" cy="357.2" r="0.60" fill="#333333" stroke="#111" stroke-width="0.55"/>
<circle cx="322.8" cy="367.3" r="0.60" fill="#333333" stroke="#111" stroke-width="0.55"/>
<circle cx="322.2" cy="368.1" r="0.60" fill="#333333" stroke="#111" stroke-width="0.55"/>
<circle cx="323.6" cy="365.6" r="0.60" fill="#333333" stroke="#111" stroke-width="0.55"/>
<circle cx="324.6" cy="368.0" r="0.60" fill="#333333" stroke="#111" stroke-width="0.55"/>
<circle cx="356.4" cy="357.0" r="0.60" fill="#333333" stroke="#111" stroke-width="0.55"/>
<circle cx="338.6" cy="360.1" r="0.60" fill="#333333" stroke="#111" stroke-width="0.55"/>
<circle cx="328.6" cy="366.3" r="0.60" fill="#333333" stroke="#111" stroke-width="0.55"/>
<circle cx="320.6" cy="367.7" r="0.60" fill="#333333" stroke="#111" stroke-width="0.55"/>
<circle cx="319.1" cy="368.0" r="0.60" fill="#333333" stroke="#111" stroke-width="0.55"/>
<circle cx="324.0" cy="364.3" r="0.60" fill="#333333" stroke="#111" stroke-width="0.55"/>
<circle cx="332.6" cy="365.2" r="0.60" fill="#333333" stroke="#111" stroke-width="0.55"/>
<circle cx="317.3" cy="368.9" r="0.60" fill="#333333" stroke="#111" stroke-width="0.55"/>
<circle cx="342.9" cy="357.9" r="0.60" fill="#333333" stroke="#111" stroke-width="0.55"/>
<circle cx="331.3" cy="364.2" r="0.60" fill="#333333" stroke="#111" stroke-width="0.55"/>
<circle cx="316.0" cy="369.1" r="0.60" fill="#333333" stroke="#111" stroke-width="0.55"/>
<circle cx="333.6" cy="361.7" r="0.60" fill="#333333" stroke="#111" stroke-width="0.55"/>
<circle cx="316.4" cy="368.5" r="0.60" fill="#333333" stroke="#111" stroke-width="0.55"/>
<circle cx="331.3" cy="362.8" r="0.60" fill="#333333" stroke="#111" stroke-width="0.55"/>
<circle cx="337.3" cy="359.7" r="0.60" fill="#333333" stroke="#111" stroke-width="0.55"/>
<circle cx="330.1" cy="360.6" r="0.60" fill="#333333" stroke="#111" stroke-width="0.55"/>
<circle cx="320.0" cy="367.7" r="0.60" fill="#333333" stroke="#111" stroke-width="0.55"/>
<circle cx="315.0" cy="369.4" r="0.60" fill="#333333" stroke="#111" stroke-width="0.55"/>
<circle cx="336.8" cy="356.0" r="0.60" fill="#333333" stroke="#111" stroke-width="0.55"/>
<circle cx="340.2" cy="362.4" r="0.60" fill="#333333" stroke="#111" stroke-width="0.55"/>
<circle cx="330.0" cy="360.9" r="0.60" fill="#333333" stroke="#111" stroke-width="0.55"/>
<circle cx="336.1" cy="356.5" r="0.60" fill="#333333" stroke="#111" stroke-width="0.55"/>
<circle cx="352.8" cy="354.0" r="0.60" fill="#333333" stroke="#111" stroke-width="0.55"/>
<circle cx="323.2" cy="364.3" r="0.60" fill="#333333" stroke="#111" stroke-width="0.55"/>
<circle cx="338.2" cy="363.3" r="0.60" fill="#333333" stroke="#111" stroke-width="0.55"/>
<circle cx="349.3" cy="362.4" r="0.60" fill="#333333" stroke="#111" stroke-width="0.55"/>
<circle cx="331.7" cy="363.9" r="0.60" fill="#333333" stroke="#111" stroke-width="0.55"/>
<circle cx="322.8" cy="366.9" r="0.60" fill="#333333" stroke="#111" stroke-width="0.55"/>
<circle cx="318.4" cy="367.9" r="0.60" fill="#333333" stroke="#111" stroke-width="0.55"/>
<circle cx="346.3" cy="362.1" r="0.60" fill="#333333" stroke="#111" stroke-width="0.55"/>
<circle cx="343.7" cy="356.7" r="0.60" fill="#333333" stroke="#111" stroke-width="0.55"/>
<circle cx="317.3" cy="368.4" r="0.60" fill="#333333" stroke="#111" stroke-width="0.55"/>
<circle cx="325.4" cy="367.3" r="0.60" fill="#333333" stroke="#111" stroke-width="0.55"/>
<circle cx="348.1" cy="360.9" r="0.60" fill="#333333" stroke="#111" stroke-width="0.55"/>
<circle cx="321.6" cy="366.7" r="0.60" fill="#333333" stroke="#111" stroke-width="0.55"/>
<circle cx="336.1" cy="361.9" r="0.60" fill="#333333" stroke="#111" stroke-width="0.55"/>
<circle cx="341.5" cy="364.6" r="0.60" fill="#333333" stroke="#111" stroke-width="0.55"/>
<circle cx="318.6" cy="367.3" r="0.60" fill="#333333" stroke="#111" stroke-width="0.55"/>
<circle cx="321.7" cy="365.9" r="0.60" fill="#333333" stroke="#111" stroke-width="0.55"/>
<circle cx="340.7" cy="358.3" r="0.60" fill="#333333" stroke="#111" stroke-width="0.55"/>
<circle cx="345.9" cy="353.0" r="0.60" fill="#333333" stroke="#111" stroke-width="0.55"/>
<circle cx="319.4" cy="368.7" r="0.60" fill="#333333" stroke="#111" stroke-width="0.55"/>
<circle cx="318.5" cy="368.1" r="0.60" fill="#333333" stroke="#111" stroke-width="0.55"/>
<circle cx="316.4" cy="368.9" r="0.60" fill="#333333" stroke="#111" stroke-width="0.55"/>
<circle cx="317.6" cy="368.9" r="0.60" fill="#333333" stroke="#111" stroke-width="0.55"/>
<circle cx="336.3" cy="360.5" r="0.60" fill="#333333" stroke="#111" stroke-width="0.55"/>
<circle cx="335.1" cy="365.2" r="0.60" fill="#333333" stroke="#111" stroke-width="0.55"/>
<circle cx="325.1" cy="363.0" r="0.60" fill="#333333" stroke="#111" stroke-width="0.55"/>
<circle cx="319.7" cy="366.6" r="0.60" fill="#333333" stroke="#111" stroke-width="0.55"/>
<circle cx="315.3" cy="369.4" r="0.60" fill="#333333" stroke="#111" stroke-width="0.55"/>
<circle cx="352.7" cy="361.7" r="0.60" fill="#333333" stroke="#111" stroke-width="0.55"/>
<circle cx="333.8" cy="359.0" r="0.60" fill="#333333" stroke="#111" stroke-width="0.55"/>
<circle cx="338.4" cy="360.4" r="0.60" fill="#333333" stroke="#111" stroke-width="0.55"/>
<circle cx="320.3" cy="366.4" r="0.60" fill="#333333" stroke="#111" stroke-width="0.55"/>
<circle cx="355.7" cy="361.0" r="0.60" fill="#333333" stroke="#111" stroke-width="0.55"/>
<circle cx="336.7" cy="364.2" r="0.60" fill="#333333" stroke="#111" stroke-width="0.55"/>
<circle cx="324.5" cy="364.2" r="0.60" fill="#333333" stroke="#111" stroke-width="0.55"/>
<circle cx="327.0" cy="366.8" r="0.60" fill="#333333" stroke="#111" stroke-width="0.55"/>
<circle cx="352.5" cy="356.0" r="0.60" fill="#333333" stroke="#111" stroke-width="0.55"/>
<circle cx="323.8" cy="366.6" r="0.60" fill="#333333" stroke="#111" stroke-width="0.55"/>
<circle cx="356.9" cy="355.1" r="0.60" fill="#333333" stroke="#111" stroke-width="0.55"/>
<circle cx="322.8" cy="365.7" r="0.60" fill="#333333" stroke="#111" stroke-width="0.55"/>
<circle cx="315.6" cy="369.2" r="0.60" fill="#333333" stroke="#111" stroke-width="0.55"/>
<circle cx="317.2" cy="367.8" r="0.60" fill="#333333" stroke="#111" stroke-width="0.55"/>
<circle cx="339.4" cy="352.9" r="0.60" fill="#333333" stroke="#111" stroke-width="0.55"/>
<circle cx="326.8" cy="361.9" r="0.60" fill="#333333" stroke="#111" stroke-width="0.55"/>
<circle cx="333.5" cy="359.4" r="0.60" fill="#333333" stroke="#111" stroke-width="0.55"/>
<circle cx="346.2" cy="358.2" r="0.60" fill="#333333" stroke="#111" stroke-width="0.55"/>
<circle cx="316.7" cy="369.0" r="0.60" fill="#333333" stroke="#111" stroke-width="0.55"/>
<circle cx="318.7" cy="367.9" r="0.60" fill="#333333" stroke="#111" stroke-width="0.55"/>
<circle cx="319.0" cy="367.3" r="0.60" fill="#333333" stroke="#111" stroke-width="0.55"/>
<circle cx="323.7" cy="366.0" r="0.60" fill="#333333" stroke="#111" stroke-width="0.55"/>
<circle cx="338.4" cy="363.2" r="0.60" fill="#333333" stroke="#111" stroke-width="0.55"/>
<circle cx="326.9" cy="367.7" r="0.60" fill="#333333" stroke="#111" stroke-width="0.55"/>
<circle cx="316.5" cy="369.2" r="0.60" fill="#333333" stroke="#111" stroke-width="0.55"/>
<circle cx="332.7" cy="361.5" r="0.60" fill="#333333" stroke="#111" stroke-width="0.55"/>
<circle cx="327.4" cy="363.6" r="0.60" fill="#333333" stroke="#111" stroke-width="0.55"/>
<circle cx="330.4" cy="362.0" r="0.60" fill="#333333" stroke="#111" stroke-width="0.55"/>
<circle cx="321.3" cy="367.8" r="0.60" fill="#333333" stroke="#111" stroke-width="0.55"/>
<circle cx="320.5" cy="365.9" r="0.60" fill="#333333" stroke="#111" stroke-width="0.55"/>
<circle cx="319.5" cy="368.9" r="0.60" fill="#333333" stroke="#111" stroke-width="0.55"/>
<circle cx="354.7" cy="361.3" r="0.60" fill="#333333" stroke="#111" stroke-width="0.55"/>
<circle cx="331.3" cy="360.5" r="0.60" fill="#333333" stroke="#111" stroke-width="0.55"/>
<circle cx="320.5" cy="368.4" r="0.60" fill="#333333" stroke="#111" stroke-width="0.55"/>
<circle cx="334.5" cy="365.7" r="0.60" fill="#333333" stroke="#111" stroke-width="0.55"/>
<circle cx="321.6" cy="367.4" r="0.60" fill="#333333" stroke="#111" stroke-width="0.55"/>
<circle cx="348.5" cy="362.8" r="0.60" fill="#333333" stroke="#111" stroke-width="0.55"/>
<circle cx="326.3" cy="364.5" r="0.60" fill="#333333" stroke="#111" stroke-width="0.55"/>
<circle cx="320.2" cy="368.0" r="0.60" fill="#333333" stroke="#111" stroke-width="0.55"/>
<circle cx="333.2" cy="365.0" r="0.60" fill="#333333" stroke="#111" stroke-width="0.55"/>
<circle cx="332.8" cy="360.6" r="0.60" fill="#333333" stroke="#111" stroke-width="0.55"/>
<circle cx="321.5" cy="367.5" r="0.60" fill="#333333" stroke="#111" stroke-width="0.55"/>
<circle cx="321.3" cy="367.6" r="0.60" fill="#333333" stroke="#111" stroke-width="0.55"/>
<circle cx="339.2" cy="360.2" r="0.60" fill="#333333" stroke="#111" stroke-width="0.55"/>
<circle cx="322.5" cy="366.5" r="0.60" fill="#333333" stroke="#111" stroke-width="0.55"/>
<circle cx="333.7" cy="358.5" r="0.60" fill="#333333" stroke="#111" stroke-width="0.55"/>
<circle cx="329.8" cy="364.2" r="0.60" fill="#333333" stroke="#111" stroke-width="0.55"/>
<circle cx="351.3" cy="360.5" r="0.60" fill="#333333" stroke="#111" stroke-width="0.55"/>
<circle cx="320.5" cy="367.4" r="0.60" fill="#333333" stroke="#111" stroke-width="0.55"/>
<circle cx="317.8" cy="368.0" r="0.60" fill="#333333" stroke="#111" stroke-width="0.55"/>
<circle cx="318.4" cy="368.7" r="0.60" fill="#333333" stroke="#111" stroke-width="0.55"/>
<circle cx="348.5" cy="363.4" r="0.60" fill="#333333" stroke="#111" stroke-width="0.55"/>
<circle cx="318.0" cy="368.2" r="0.60" fill="#333333" stroke="#111" stroke-width="0.55"/>
<circle cx="339.5" cy="359.0" r="0.60" fill="#333333" stroke="#111" stroke-width="0.55"/>
<circle cx="323.2" cy="365.5" r="0.60" fill="#333333" stroke="#111" stroke-width="0.55"/>
<circle cx="332.2" cy="363.9" r="0.60" fill="#333333" stroke="#111" stroke-width="0.55"/>
<circle cx="323.7" cy="364.7" r="0.60" fill="#333333" stroke="#111" stroke-width="0.55"/>
<circle cx="330.2" cy="366.9" r="0.60" fill="#333333" stroke="#111" stroke-width="0.55"/>
<circle cx="329.9" cy="366.2" r="0.60" fill="#333333" stroke="#111" stroke-width="0.55"/>
<circle cx="328.1" cy="362.3" r="0.60" fill="#333333" stroke="#111" stroke-width="0.55"/>
<circle cx="316.3" cy="369.2" r="0.60" fill="#333333" stroke="#111" stroke-width="0.55"/>
<circle cx="327.3" cy="366.7" r="0.60" fill="#333333" stroke="#111" stroke-width="0.55"/>
<circle cx="324.8" cy="363.9" r="0.60" fill="#333333" stroke="#111" stroke-width="0.55"/>
<circle cx="345.1" cy="357.9" r="0.60" fill="#333333" stroke="#111" stroke-width="0.55"/>
<circle cx="322.7" cy="365.9" r="0.60" fill="#333333" stroke="#111" stroke-width="0.55"/>
<circle cx="319.2" cy="367.2" r="0.60" fill="#333333" stroke="#111" stroke-width="0.55"/>
<circle cx="341.1" cy="360.3" r="0.60" fill="#333333" stroke="#111" stroke-width="0.55"/>
<circle cx="342.2" cy="358.8" r="0.60" fill="#333333" stroke="#111" stroke-width="0.55"/>
<circle cx="334.8" cy="358.4" r="0.60" fill="#333333" stroke="#111" stroke-width="0.55"/>
<circle cx="329.4" cy="362.9" r="0.60" fill="#333333" stroke="#111" stroke-width="0.55"/>
<circle cx="345.2" cy="364.0" r="0.60" fill="#333333" stroke="#111" stroke-width="0.55"/>
<circle cx="326.6" cy="366.1" r="0.60" fill="#333333" stroke="#111" stroke-width="0.55"/>
<circle cx="354.0" cy="355.5" r="0.60" fill="#333333" stroke="#111" stroke-width="0.55"/>
<circle cx="324.8" cy="365.9" r="0.60" fill="#333333" stroke="#111" stroke-width="0.55"/>
<circle cx="357.9" cy="360.0" r="0.60" fill="#333333" stroke="#111" stroke-width="0.55"/>
<circle cx="315.4" cy="369.2" r="0.60" fill="#333333" stroke="#111" stroke-width="0.55"/>
<circle cx="347.6" cy="363.0" r="0.60" fill="#333333" stroke="#111" stroke-width="0.55"/>
<circle cx="327.6" cy="367.6" r="0.60" fill="#333333" stroke="#111" stroke-width="0.55"/>
<circle cx="356.2" cy="361.3" r="0.60" fill="#333333" stroke="#111" stroke-width="0.55"/>
<circle cx="353.3" cy="361.5" r="0.60" fill="#333333" stroke="#111" stroke-width="0.55"/>
<circle cx="316.4" cy="368.8" r="0.60" fill="#333333" stroke="#111" stroke-width="0.55"/>
<circle cx="317.0" cy="368.6" r="0.60" fill="#333333" stroke="#111" stroke-width="0.55"/>
<circle cx="324.3" cy="365.5" r="0.60" fill="#333333" stroke="#111" stroke-width="0.55"/>
<circle cx="316.2" cy="368.8" r="0.60" fill="#333333" stroke="#111" stroke-width="0.55"/>
<circle cx="348.6" cy="363.1" r="0.60" fill="#333333" stroke="#111" stroke-width="0.55"/>
<circle cx="323.7" cy="365.3" r="0.60" fill="#333333" stroke="#111" stroke-width="0.55"/>
<circle cx="339.1" cy="363.1" r="0.60" fill="#333333" stroke="#111" stroke-width="0.55"/>
<circle cx="324.0" cy="365.5" r="0.60" fill="#333333" stroke="#111" stroke-width="0.55"/>
<circle cx="335.6" cy="364.4" r="0.60" fill="#333333" stroke="#111" stroke-width="0.55"/>
<circle cx="321.7" cy="366.7" r="0.60" fill="#333333" stroke="#111" stroke-width="0.55"/>
<circle cx="350.0" cy="353.6" r="0.60" fill="#333333" stroke="#111" stroke-width="0.55"/>
<circle cx="336.8" cy="363.8" r="0.60" fill="#333333" stroke="#111" stroke-width="0.55"/>
<circle cx="320.5" cy="367.8" r="0.60" fill="#333333" stroke="#111" stroke-width="0.55"/>
<circle cx="315.3" cy="369.4" r="0.60" fill="#333333" stroke="#111" stroke-width="0.55"/>
<circle cx="325.2" cy="366.3" r="0.60" fill="#333333" stroke="#111" stroke-width="0.55"/>
<circle cx="324.9" cy="367.8" r="0.60" fill="#333333" stroke="#111" stroke-width="0.55"/>
<circle cx="320.8" cy="366.2" r="0.60" fill="#333333" stroke="#111" stroke-width="0.55"/>
<circle cx="342.5" cy="362.2" r="0.60" fill="#333333" stroke="#111" stroke-width="0.55"/>
<circle cx="334.8" cy="359.7" r="0.60" fill="#333333" stroke="#111" stroke-width="0.55"/>
<circle cx="330.7" cy="363.3" r="0.60" fill="#333333" stroke="#111" stroke-width="0.55"/>
<circle cx="336.8" cy="364.1" r="0.60" fill="#333333" stroke="#111" stroke-width="0.55"/>
<circle cx="347.3" cy="353.4" r="0.60" fill="#333333" stroke="#111" stroke-width="0.55"/>
<circle cx="327.7" cy="365.1" r="0.60" fill="#333333" stroke="#111" stroke-width="0.55"/>
<circle cx="340.5" cy="356.8" r="0.60" fill="#333333" stroke="#111" stroke-width="0.55"/>
<circle cx="320.6" cy="367.2" r="0.60" fill="#333333" stroke="#111" stroke-width="0.55"/>
<circle cx="320.1" cy="366.1" r="0.60" fill="#333333" stroke="#111" stroke-width="0.55"/>
<circle cx="321.3" cy="366.2" r="0.60" fill="#333333" stroke="#111" stroke-width="0.55"/>
<circle cx="328.2" cy="365.0" r="0.60" fill="#333333" stroke="#111" stroke-width="0.55"/>
<circle cx="337.8" cy="359.2" r="0.60" fill="#333333" stroke="#111" stroke-width="0.55"/>
<circle cx="331.6" cy="364.6" r="0.60" fill="#333333" stroke="#111" stroke-width="0.55"/>
<circle cx="320.6" cy="367.3" r="0.60" fill="#333333" stroke="#111" stroke-width="0.55"/>
<circle cx="337.6" cy="355.8" r="0.60" fill="#333333" stroke="#111" stroke-width="0.55"/>
<circle cx="340.6" cy="358.5" r="0.60" fill="#333333" stroke="#111" stroke-width="0.55"/>
<circle cx="318.9" cy="368.5" r="0.60" fill="#333333" stroke="#111" stroke-width="0.55"/>
<circle cx="322.9" cy="367.7" r="0.60" fill="#333333" stroke="#111" stroke-width="0.55"/>
<circle cx="336.4" cy="364.3" r="0.60" fill="#333333" stroke="#111" stroke-width="0.55"/>
<circle cx="316.0" cy="369.1" r="0.60" fill="#333333" stroke="#111" stroke-width="0.55"/>
<circle cx="331.8" cy="360.9" r="0.60" fill="#333333" stroke="#111" stroke-width="0.55"/>
<circle cx="330.8" cy="364.8" r="0.60" fill="#333333" stroke="#111" stroke-width="0.55"/>
<circle cx="334.6" cy="359.1" r="0.60" fill="#333333" stroke="#111" stroke-width="0.55"/>
<circle cx="332.7" cy="364.1" r="0.60" fill="#333333" stroke="#111" stroke-width="0.55"/>
<circle cx="352.9" cy="351.2" r="0.60" fill="#333333" stroke="#111" stroke-width="0.55"/>
<circle cx="328.0" cy="363.1" r="0.60" fill="#333333" stroke="#111" stroke-width="0.55"/>
<circle cx="338.9" cy="361.6" r="0.60" fill="#333333" stroke="#111" stroke-width="0.55"/>
<circle cx="344.1" cy="359.1" r="0.60" fill="#333333" stroke="#111" stroke-width="0.55"/>
<circle cx="320.8" cy="368.1" r="0.60" fill="#333333" stroke="#111" stroke-width="0.55"/>
<circle cx="324.2" cy="365.1" r="0.60" fill="#333333" stroke="#111" stroke-width="0.55"/>
<circle cx="316.5" cy="368.6" r="0.60" fill="#333333" stroke="#111" stroke-width="0.55"/>
<circle cx="327.5" cy="362.4" r="0.60" fill="#333333" stroke="#111" stroke-width="0.55"/>
<circle cx="324.7" cy="365.1" r="0.60" fill="#333333" stroke="#111" stroke-width="0.55"/>
<circle cx="322.8" cy="364.4" r="0.60" fill="#333333" stroke="#111" stroke-width="0.55"/>
<circle cx="324.8" cy="365.0" r="0.60" fill="#333333" stroke="#111" stroke-width="0.55"/>
<circle cx="327.3" cy="363.7" r="0.60" fill="#333333" stroke="#111" stroke-width="0.55"/>
<circle cx="318.3" cy="367.8" r="0.60" fill="#333333" stroke="#111" stroke-width="0.55"/>
<circle cx="318.5" cy="368.6" r="0.60" fill="#333333" stroke="#111" stroke-width="0.55"/>
<circle cx="323.6" cy="367.0" r="0.60" fill="#333333" stroke="#111" stroke-width="0.55"/>
<circle cx="320.3" cy="368.1" r="0.60" fill="#333333" stroke="#111" stroke-width="0.55"/>
<circle cx="342.0" cy="353.9" r="0.60" fill="#333333" stroke="#111" stroke-width="0.55"/>
<circle cx="314.8" cy="369.5" r="0.60" fill="#333333" stroke="#111" stroke-width="0.55"/>
<circle cx="324.5" cy="364.9" r="0.60" fill="#333333" stroke="#111" stroke-width="0.55"/>
<circle cx="326.7" cy="364.5" r="0.60" fill="#333333" stroke="#111" stroke-width="0.55"/>
<circle cx="338.8" cy="362.4" r="0.60" fill="#333333" stroke="#111" stroke-width="0.55"/>
<circle cx="320.0" cy="366.0" r="0.60" fill="#333333" stroke="#111" stroke-width="0.55"/>
<circle cx="325.5" cy="365.4" r="0.60" fill="#333333" stroke="#111" stroke-width="0.55"/>
<circle cx="319.4" cy="366.5" r="0.60" fill="#333333" stroke="#111" stroke-width="0.55"/>
<circle cx="329.9" cy="364.6" r="0.60" fill="#333333" stroke="#111" stroke-width="0.55"/>
<circle cx="322.1" cy="365.4" r="0.60" fill="#333333" stroke="#111" stroke-width="0.55"/>
<circle cx="348.3" cy="350.1" r="0.60" fill="#333333" stroke="#111" stroke-width="0.55"/>
<circle cx="339.2" cy="358.4" r="0.60" fill="#333333" stroke="#111" stroke-width="0.55"/>
<circle cx="329.2" cy="364.6" r="0.60" fill="#333333" stroke="#111" stroke-width="0.55"/>
<circle cx="334.9" cy="362.3" r="0.60" fill="#333333" stroke="#111" stroke-width="0.55"/>
<circle cx="324.6" cy="365.3" r="0.60" fill="#333333" stroke="#111" stroke-width="0.55"/>
<circle cx="320.6" cy="366.8" r="0.60" fill="#333333" stroke="#111" stroke-width="0.55"/>
<circle cx="316.1" cy="369.2" r="0.60" fill="#333333" stroke="#111" stroke-width="0.55"/>
<circle cx="315.7" cy="368.9" r="0.60" fill="#333333" stroke="#111" stroke-width="0.55"/>
<circle cx="349.2" cy="358.2" r="0.60" fill="#333333" stroke="#111" stroke-width="0.55"/>
<circle cx="343.5" cy="360.2" r="0.60" fill="#333333" stroke="#111" stroke-width="0.55"/>
<circle cx="325.0" cy="367.2" r="0.60" fill="#333333" stroke="#111" stroke-width="0.55"/>
<circle cx="319.7" cy="367.8" r="0.60" fill="#333333" stroke="#111" stroke-width="0.55"/>
<circle cx="346.7" cy="360.7" r="0.60" fill="#333333" stroke="#111" stroke-width="0.55"/>
<circle cx="317.7" cy="369.0" r="0.60" fill="#333333" stroke="#111" stroke-width="0.55"/>
<circle cx="337.7" cy="362.8" r="0.60" fill="#333333" stroke="#111" stroke-width="0.55"/>
<circle cx="316.5" cy="369.1" r="0.60" fill="#333333" stroke="#111" stroke-width="0.55"/>
<circle cx="321.3" cy="367.7" r="0.60" fill="#333333" stroke="#111" stroke-width="0.55"/>
<circle cx="339.0" cy="359.6" r="0.60" fill="#333333" stroke="#111" stroke-width="0.55"/>
<circle cx="316.5" cy="368.7" r="0.60" fill="#333333" stroke="#111" stroke-width="0.55"/>
<circle cx="320.8" cy="366.1" r="0.60" fill="#333333" stroke="#111" stroke-width="0.55"/>
<circle cx="326.4" cy="363.3" r="0.60" fill="#333333" stroke="#111" stroke-width="0.55"/>
<circle cx="318.5" cy="368.4" r="0.60" fill="#333333" stroke="#111" stroke-width="0.55"/>
<circle cx="331.4" cy="360.2" r="0.60" fill="#333333" stroke="#111" stroke-width="0.55"/>
<circle cx="317.3" cy="368.4" r="0.60" fill="#333333" stroke="#111" stroke-width="0.55"/>
<circle cx="317.6" cy="368.0" r="0.60" fill="#333333" stroke="#111" stroke-width="0.55"/>
<circle cx="337.1" cy="362.4" r="0.60" fill="#333333" stroke="#111" stroke-width="0.55"/>
<circle cx="322.9" cy="367.3" r="0.60" fill="#333333" stroke="#111" stroke-width="0.55"/>
<circle cx="323.8" cy="365.4" r="0.60" fill="#333333" stroke="#111" stroke-width="0.55"/>
<circle cx="322.4" cy="367.2" r="0.60" fill="#333333" stroke="#111" stroke-width="0.55"/>
<circle cx="328.2" cy="364.6" r="0.60" fill="#333333" stroke="#111" stroke-width="0.55"/>
<circle cx="338.5" cy="356.1" r="0.60" fill="#333333" stroke="#111" stroke-width="0.55"/>
<circle cx="316.0" cy="369.1" r="0.60" fill="#333333" stroke="#111" stroke-width="0.55"/>
<circle cx="329.4" cy="362.0" r="0.60" fill="#333333" stroke="#111" stroke-width="0.55"/>
<circle cx="329.6" cy="365.1" r="0.60" fill="#333333" stroke="#111" stroke-width="0.55"/>
<circle cx="330.6" cy="363.5" r="0.60" fill="#333333" stroke="#111" stroke-width="0.55"/>
<circle cx="333.6" cy="359.4" r="0.60" fill="#333333" stroke="#111" stroke-width="0.55"/>
<circle cx="338.5" cy="364.0" r="0.60" fill="#333333" stroke="#111" stroke-width="0.55"/>
<circle cx="338.2" cy="365.5" r="0.60" fill="#333333" stroke="#111" stroke-width="0.55"/>
<circle cx="344.2" cy="350.8" r="0.60" fill="#333333" stroke="#111" stroke-width="0.55"/>
<circle cx="325.6" cy="367.9" r="0.60" fill="#333333" stroke="#111" stroke-width="0.55"/>
<circle cx="345.4" cy="364.3" r="0.60" fill="#333333" stroke="#111" stroke-width="0.55"/>
<circle cx="323.8" cy="365.9" r="0.60" fill="#333333" stroke="#111" stroke-width="0.55"/>
<circle cx="326.6" cy="365.0" r="0.60" fill="#333333" stroke="#111" stroke-width="0.55"/>
<circle cx="324.5" cy="366.5" r="0.60" fill="#333333" stroke="#111" stroke-width="0.55"/>
<circle cx="327.1" cy="366.5" r="0.60" fill="#333333" stroke="#111" stroke-width="0.55"/>
<circle cx="338.6" cy="361.5" r="0.60" fill="#333333" stroke="#111" stroke-width="0.55"/>
<circle cx="354.0" cy="356.9" r="0.60" fill="#333333" stroke="#111" stroke-width="0.55"/>
<circle cx="319.4" cy="368.5" r="0.60" fill="#333333" stroke="#111" stroke-width="0.55"/>
<circle cx="316.9" cy="368.4" r="0.60" fill="#333333" stroke="#111" stroke-width="0.55"/>
<circle cx="321.9" cy="367.6" r="0.60" fill="#333333" stroke="#111" stroke-width="0.55"/>
<circle cx="318.5" cy="368.8" r="0.60" fill="#333333" stroke="#111" stroke-width="0.55"/>
<circle cx="325.3" cy="366.0" r="0.60" fill="#333333" stroke="#111" stroke-width="0.55"/>
<circle cx="322.4" cy="366.9" r="0.60" fill="#333333" stroke="#111" stroke-width="0.55"/>
<circle cx="334.7" cy="364.2" r="0.60" fill="#333333" stroke="#111" stroke-width="0.55"/>
<circle cx="338.0" cy="360.1" r="0.60" fill="#333333" stroke="#111" stroke-width="0.55"/>
<circle cx="325.7" cy="364.4" r="0.60" fill="#333333" stroke="#111" stroke-width="0.55"/>
<circle cx="315.7" cy="369.4" r="0.60" fill="#333333" stroke="#111" stroke-width="0.55"/>
<circle cx="328.7" cy="363.9" r="0.60" fill="#333333" stroke="#111" stroke-width="0.55"/>
<circle cx="330.4" cy="366.1" r="0.60" fill="#333333" stroke="#111" stroke-width="0.55"/>
<circle cx="325.2" cy="364.7" r="0.60" fill="#333333" stroke="#111" stroke-width="0.55"/>
<circle cx="338.3" cy="358.2" r="0.60" fill="#333333" stroke="#111" stroke-width="0.55"/>
<circle cx="325.5" cy="366.1" r="0.60" fill="#333333" stroke="#111" stroke-width="0.55"/>
<circle cx="315.1" cy="369.3" r="0.60" fill="#333333" stroke="#111" stroke-width="0.55"/>
<circle cx="326.7" cy="366.1" r="0.60" fill="#333333" stroke="#111" stroke-width="0.55"/>
<circle cx="339.4" cy="365.5" r="0.60" fill="#333333" stroke="#111" stroke-width="0.55"/>
<circle cx="325.4" cy="365.5" r="0.60" fill="#333333" stroke="#111" stroke-width="0.55"/>
<circle cx="330.6" cy="366.9" r="0.60" fill="#333333" stroke="#111" stroke-width="0.55"/>
<circle cx="332.7" cy="364.0" r="0.60" fill="#333333" stroke="#111" stroke-width="0.55"/>
<circle cx="327.2" cy="361.4" r="0.60" fill="#333333" stroke="#111" stroke-width="0.55"/>
<circle cx="334.4" cy="360.6" r="0.60" fill="#333333" stroke="#111" stroke-width="0.55"/>
<circle cx="333.1" cy="360.8" r="0.60" fill="#333333" stroke="#111" stroke-width="0.55"/>
<circle cx="319.0" cy="368.4" r="0.60" fill="#333333" stroke="#111" stroke-width="0.55"/>
<circle cx="320.5" cy="366.7" r="0.60" fill="#333333" stroke="#111" stroke-width="0.55"/>
<circle cx="326.3" cy="363.3" r="0.60" fill="#333333" stroke="#111" stroke-width="0.55"/>
<circle cx="342.2" cy="356.3" r="0.60" fill="#333333" stroke="#111" stroke-width="0.55"/>
<circle cx="355.7" cy="360.9" r="0.60" fill="#333333" stroke="#111" stroke-width="0.55"/>
<circle cx="333.4" cy="364.0" r="0.60" fill="#333333" stroke="#111" stroke-width="0.55"/>
<circle cx="330.7" cy="360.5" r="0.60" fill="#333333" stroke="#111" stroke-width="0.55"/>
<circle cx="323.1" cy="366.3" r="0.60" fill="#333333" stroke="#111" stroke-width="0.55"/>
<circle cx="323.3" cy="366.6" r="0.60" fill="#333333" stroke="#111" stroke-width="0.55"/>
<circle cx="321.7" cy="366.0" r="0.60" fill="#333333" stroke="#111" stroke-width="0.55"/>
<circle cx="337.6" cy="355.0" r="0.60" fill="#333333" stroke="#111" stroke-width="0.55"/>
<circle cx="319.1" cy="367.0" r="0.60" fill="#333333" stroke="#111" stroke-width="0.55"/>
<circle cx="321.7" cy="366.1" r="0.60" fill="#333333" stroke="#111" stroke-width="0.55"/>
<circle cx="330.9" cy="361.4" r="0.60" fill="#333333" stroke="#111" stroke-width="0.55"/>
<circle cx="331.0" cy="364.6" r="0.60" fill="#333333" stroke="#111" stroke-width="0.55"/>
<circle cx="331.0" cy="362.5" r="0.60" fill="#333333" stroke="#111" stroke-width="0.55"/>
<circle cx="323.2" cy="367.6" r="0.60" fill="#333333" stroke="#111" stroke-width="0.55"/>
<circle cx="328.7" cy="366.4" r="0.60" fill="#333333" stroke="#111" stroke-width="0.55"/>
<circle cx="316.7" cy="368.9" r="0.60" fill="#333333" stroke="#111" stroke-width="0.55"/>
<circle cx="346.4" cy="362.7" r="0.60" fill="#333333" stroke="#111" stroke-width="0.55"/>
<circle cx="342.1" cy="360.2" r="0.60" fill="#333333" stroke="#111" stroke-width="0.55"/>
<circle cx="333.6" cy="359.8" r="0.60" fill="#333333" stroke="#111" stroke-width="0.55"/>
<circle cx="350.8" cy="353.8" r="0.60" fill="#333333" stroke="#111" stroke-width="0.55"/>
<circle cx="326.7" cy="365.0" r="0.60" fill="#333333" stroke="#111" stroke-width="0.55"/>
<circle cx="329.1" cy="363.1" r="0.60" fill="#333333" stroke="#111" stroke-width="0.55"/>
<circle cx="325.8" cy="364.3" r="0.60" fill="#333333" stroke="#111" stroke-width="0.55"/>
<circle cx="317.2" cy="369.2" r="0.60" fill="#333333" stroke="#111" stroke-width="0.55"/>
<circle cx="325.2" cy="367.0" r="0.60" fill="#333333" stroke="#111" stroke-width="0.55"/>
<circle cx="327.3" cy="364.3" r="0.60" fill="#333333" stroke="#111" stroke-width="0.55"/>
<circle cx="337.2" cy="362.7" r="0.60" fill="#333333" stroke="#111" stroke-width="0.55"/>
<circle cx="320.3" cy="366.4" r="0.60" fill="#333333" stroke="#111" stroke-width="0.55"/>
<circle cx="324.4" cy="364.0" r="0.60" fill="#333333" stroke="#111" stroke-width="0.55"/>
<circle cx="320.9" cy="367.9" r="0.60" fill="#333333" stroke="#111" stroke-width="0.55"/>
<circle cx="319.5" cy="368.1" r="0.60" fill="#333333" stroke="#111" stroke-width="0.55"/>
<circle cx="329.7" cy="365.1" r="0.60" fill="#333333" stroke="#111" stroke-width="0.55"/>
<circle cx="323.6" cy="365.3" r="0.60" fill="#333333" stroke="#111" stroke-width="0.55"/>
<circle cx="328.0" cy="363.9" r="0.60" fill="#333333" stroke="#111" stroke-width="0.55"/>
<circle cx="337.9" cy="360.9" r="0.60" fill="#333333" stroke="#111" stroke-width="0.55"/>
<circle cx="319.3" cy="369.0" r="0.60" fill="#333333" stroke="#111" stroke-width="0.55"/>
<circle cx="318.5" cy="367.8" r="0.60" fill="#333333" stroke="#111" stroke-width="0.55"/>
<circle cx="316.0" cy="369.1" r="0.60" fill="#333333" stroke="#111" stroke-width="0.55"/>
<circle cx="316.3" cy="368.8" r="0.60" fill="#333333" stroke="#111" stroke-width="0.55"/>
<circle cx="337.7" cy="362.3" r="0.60" fill="#333333" stroke="#111" stroke-width="0.55"/>
<circle cx="320.7" cy="367.1" r="0.60" fill="#333333" stroke="#111" stroke-width="0.55"/>
<circle cx="346.1" cy="359.8" r="0.60" fill="#333333" stroke="#111" stroke-width="0.55"/>
<circle cx="322.6" cy="367.8" r="0.60" fill="#333333" stroke="#111" stroke-width="0.55"/>
<circle cx="325.1" cy="366.0" r="0.60" fill="#333333" stroke="#111" stroke-width="0.55"/>
<circle cx="342.2" cy="357.1" r="0.60" fill="#333333" stroke="#111" stroke-width="0.55"/>
<circle cx="328.6" cy="366.2" r="0.60" fill="#333333" stroke="#111" stroke-width="0.55"/>
<circle cx="344.8" cy="360.2" r="0.60" fill="#333333" stroke="#111" stroke-width="0.55"/>
<circle cx="318.1" cy="367.8" r="0.60" fill="#333333" stroke="#111" stroke-width="0.55"/>
<circle cx="347.6" cy="361.6" r="0.60" fill="#333333" stroke="#111" stroke-width="0.55"/>
<circle cx="334.7" cy="359.6" r="0.60" fill="#333333" stroke="#111" stroke-width="0.55"/>
<circle cx="320.9" cy="366.7" r="0.60" fill="#333333" stroke="#111" stroke-width="0.55"/>
<circle cx="339.3" cy="354.1" r="0.60" fill="#333333" stroke="#111" stroke-width="0.55"/>
<circle cx="335.2" cy="358.6" r="0.60" fill="#333333" stroke="#111" stroke-width="0.55"/>
<circle cx="328.0" cy="364.9" r="0.60" fill="#333333" stroke="#111" stroke-width="0.55"/>
<circle cx="316.5" cy="369.3" r="0.60" fill="#333333" stroke="#111" stroke-width="0.55"/>
<circle cx="358.5" cy="350.3" r="0.60" fill="#333333" stroke="#111" stroke-width="0.55"/>
<circle cx="319.1" cy="368.5" r="0.60" fill="#333333" stroke="#111" stroke-width="0.55"/>
<circle cx="324.4" cy="368.1" r="0.60" fill="#333333" stroke="#111" stroke-width="0.55"/>
<circle cx="326.2" cy="365.4" r="0.60" fill="#333333" stroke="#111" stroke-width="0.55"/>
<circle cx="333.4" cy="360.8" r="0.60" fill="#333333" stroke="#111" stroke-width="0.55"/>
<circle cx="323.2" cy="367.7" r="0.60" fill="#333333" stroke="#111" stroke-width="0.55"/>
<circle cx="319.2" cy="368.6" r="0.60" fill="#333333" stroke="#111" stroke-width="0.55"/>
<circle cx="334.0" cy="362.3" r="0.60" fill="#333333" stroke="#111" stroke-width="0.55"/>
<circle cx="340.0" cy="359.7" r="0.60" fill="#333333" stroke="#111" stroke-width="0.55"/>
<circle cx="320.1" cy="368.5" r="0.60" fill="#333333" stroke="#111" stroke-width="0.55"/>
<circle cx="340.0" cy="356.0" r="0.60" fill="#333333" stroke="#111" stroke-width="0.55"/>
<circle cx="324.8" cy="368.0" r="0.60" fill="#333333" stroke="#111" stroke-width="0.55"/>
<circle cx="344.4" cy="363.6" r="0.60" fill="#333333" stroke="#111" stroke-width="0.55"/>
<circle cx="323.8" cy="365.0" r="0.60" fill="#333333" stroke="#111" stroke-width="0.55"/>
<circle cx="318.0" cy="369.0" r="0.60" fill="#333333" stroke="#111" stroke-width="0.55"/>
<circle cx="344.4" cy="358.9" r="0.60" fill="#333333" stroke="#111" stroke-width="0.55"/>
<circle cx="325.3" cy="365.4" r="0.60" fill="#333333" stroke="#111" stroke-width="0.55"/>
<circle cx="346.3" cy="362.6" r="0.60" fill="#333333" stroke="#111" stroke-width="0.55"/>
<circle cx="322.6" cy="366.8" r="0.60" fill="#333333" stroke="#111" stroke-width="0.55"/>
<circle cx="316.1" cy="368.8" r="0.60" fill="#333333" stroke="#111" stroke-width="0.55"/>
<circle cx="330.9" cy="364.4" r="0.60" fill="#333333" stroke="#111" stroke-width="0.55"/>
<circle cx="337.7" cy="357.6" r="0.60" fill="#333333" stroke="#111" stroke-width="0.55"/>
<circle cx="323.0" cy="366.1" r="0.60" fill="#333333" stroke="#111" stroke-width="0.55"/>
<circle cx="320.5" cy="368.3" r="0.60" fill="#333333" stroke="#111" stroke-width="0.55"/>
<circle cx="335.6" cy="357.4" r="0.60" fill="#333333" stroke="#111" stroke-width="0.55"/>
<circle cx="352.3" cy="361.6" r="0.60" fill="#333333" stroke="#111" stroke-width="0.55"/>
<circle cx="315.9" cy="369.2" r="0.60" fill="#333333" stroke="#111" stroke-width="0.55"/>
<circle cx="317.2" cy="368.1" r="0.60" fill="#333333" stroke="#111" stroke-width="0.55"/>
<circle cx="321.5" cy="368.7" r="0.60" fill="#333333" stroke="#111" stroke-width="0.55"/>
<circle cx="330.3" cy="364.2" r="0.60" fill="#333333" stroke="#111" stroke-width="0.55"/>
<circle cx="317.3" cy="368.6" r="0.60" fill="#333333" stroke="#111" stroke-width="0.55"/>
<circle cx="336.1" cy="357.9" r="0.60" fill="#333333" stroke="#111" stroke-width="0.55"/>
<circle cx="317.7" cy="368.8" r="0.60" fill="#333333" stroke="#111" stroke-width="0.55"/>
<circle cx="314.7" cy="369.6" r="0.60" fill="#333333" stroke="#111" stroke-width="0.55"/>
<circle cx="331.2" cy="359.2" r="0.60" fill="#333333" stroke="#111" stroke-width="0.55"/>
<circle cx="334.6" cy="360.4" r="0.60" fill="#333333" stroke="#111" stroke-width="0.55"/>
<circle cx="345.0" cy="362.8" r="0.60" fill="#333333" stroke="#111" stroke-width="0.55"/>
<circle cx="329.4" cy="362.6" r="0.60" fill="#333333" stroke="#111" stroke-width="0.55"/>
<circle cx="318.5" cy="367.4" r="0.60" fill="#333333" stroke="#111" stroke-width="0.55"/>
<circle cx="326.6" cy="364.4" r="0.60" fill="#333333" stroke="#111" stroke-width="0.55"/>
<circle cx="324.9" cy="365.9" r="0.60" fill="#333333" stroke="#111" stroke-width="0.55"/>
<circle cx="324.4" cy="365.3" r="0.60" fill="#333333" stroke="#111" stroke-width="0.55"/>
<circle cx="337.2" cy="362.6" r="0.60" fill="#333333" stroke="#111" stroke-width="0.55"/>
<circle cx="323.4" cy="365.4" r="0.60" fill="#333333" stroke="#111" stroke-width="0.55"/>
<circle cx="334.9" cy="358.4" r="0.60" fill="#333333" stroke="#111" stroke-width="0.55"/>
<circle cx="317.1" cy="368.2" r="0.60" fill="#333333" stroke="#111" stroke-width="0.55"/>
<circle cx="325.6" cy="365.1" r="0.60" fill="#333333" stroke="#111" stroke-width="0.55"/>
<circle cx="325.5" cy="367.3" r="0.60" fill="#333333" stroke="#111" stroke-width="0.55"/>
<circle cx="321.4" cy="366.4" r="0.60" fill="#333333" stroke="#111" stroke-width="0.55"/>
<circle cx="316.7" cy="369.0" r="0.60" fill="#333333" stroke="#111" stroke-width="0.55"/>
<circle cx="321.6" cy="367.2" r="0.60" fill="#333333" stroke="#111" stroke-width="0.55"/>
<circle cx="325.1" cy="365.1" r="0.60" fill="#333333" stroke="#111" stroke-width="0.55"/>
<circle cx="317.1" cy="369.1" r="0.60" fill="#333333" stroke="#111" stroke-width="0.55"/>
<circle cx="319.5" cy="366.7" r="0.60" fill="#333333" stroke="#111" stroke-width="0.55"/>
<circle cx="321.0" cy="367.0" r="0.60" fill="#333333" stroke="#111" stroke-width="0.55"/>
<circle cx="337.2" cy="360.4" r="0.60" fill="#333333" stroke="#111" stroke-width="0.55"/>
<circle cx="330.7" cy="363.8" r="0.60" fill="#333333" stroke="#111" stroke-width="0.55"/>
<circle cx="342.3" cy="363.8" r="0.60" fill="#333333" stroke="#111" stroke-width="0.55"/>
<circle cx="324.4" cy="367.8" r="0.60" fill="#333333" stroke="#111" stroke-width="0.55"/>
<circle cx="340.0" cy="353.0" r="0.60" fill="#333333" stroke="#111" stroke-width="0.55"/>
<circle cx="315.1" cy="369.4" r="0.60" fill="#333333" stroke="#111" stroke-width="0.55"/>
<circle cx="336.0" cy="365.5" r="0.60" fill="#333333" stroke="#111" stroke-width="0.55"/>
<circle cx="327.6" cy="362.6" r="0.60" fill="#333333" stroke="#111" stroke-width="0.55"/>
<circle cx="332.6" cy="366.5" r="0.60" fill="#333333" stroke="#111" stroke-width="0.55"/>
<circle cx="342.2" cy="359.0" r="0.60" fill="#333333" stroke="#111" stroke-width="0.55"/>
<circle cx="322.5" cy="365.4" r="0.60" fill="#333333" stroke="#111" stroke-width="0.55"/>
<circle cx="319.9" cy="367.0" r="0.60" fill="#333333" stroke="#111" stroke-width="0.55"/>
<circle cx="329.2" cy="367.5" r="0.60" fill="#333333" stroke="#111" stroke-width="0.55"/>
<circle cx="360.8" cy="360.4" r="0.60" fill="#333333" stroke="#111" stroke-width="0.55"/>
<circle cx="341.2" cy="363.2" r="0.60" fill="#333333" stroke="#111" stroke-width="0.55"/>
<circle cx="338.5" cy="365.0" r="0.60" fill="#333333" stroke="#111" stroke-width="0.55"/>
<circle cx="323.7" cy="368.1" r="0.60" fill="#333333" stroke="#111" stroke-width="0.55"/>
<circle cx="337.2" cy="357.6" r="0.60" fill="#333333" stroke="#111" stroke-width="0.55"/>
<circle cx="316.1" cy="369.1" r="0.60" fill="#333333" stroke="#111" stroke-width="0.55"/>
<circle cx="333.4" cy="360.5" r="0.60" fill="#333333" stroke="#111" stroke-width="0.55"/>
<circle cx="314.7" cy="369.5" r="0.60" fill="#333333" stroke="#111" stroke-width="0.55"/>
<circle cx="326.3" cy="362.9" r="0.60" fill="#333333" stroke="#111" stroke-width="0.55"/>
<circle cx="331.0" cy="362.2" r="0.60" fill="#333333" stroke="#111" stroke-width="0.55"/>
<circle cx="337.8" cy="364.9" r="0.60" fill="#333333" stroke="#111" stroke-width="0.55"/>
<circle cx="337.4" cy="359.9" r="0.60" fill="#333333" stroke="#111" stroke-width="0.55"/>
<circle cx="352.5" cy="356.5" r="0.60" fill="#333333" stroke="#111" stroke-width="0.55"/>
<circle cx="350.9" cy="360.7" r="0.60" fill="#333333" stroke="#111" stroke-width="0.55"/>
<circle cx="322.6" cy="366.6" r="0.60" fill="#333333" stroke="#111" stroke-width="0.55"/>
<circle cx="338.7" cy="364.9" r="0.60" fill="#333333" stroke="#111" stroke-width="0.55"/>
<circle cx="342.1" cy="361.8" r="0.60" fill="#333333" stroke="#111" stroke-width="0.55"/>
<circle cx="320.2" cy="366.7" r="0.60" fill="#333333" stroke="#111" stroke-width="0.55"/>
<circle cx="337.2" cy="360.3" r="0.60" fill="#333333" stroke="#111" stroke-width="0.55"/>
<circle cx="329.7" cy="361.9" r="0.60" fill="#333333" stroke="#111" stroke-width="0.55"/>
<circle cx="331.8" cy="365.4" r="0.60" fill="#333333" stroke="#111" stroke-width="0.55"/>
<circle cx="316.9" cy="368.5" r="0.60" fill="#333333" stroke="#111" stroke-width="0.55"/>
<circle cx="319.7" cy="367.8" r="0.60" fill="#333333" stroke="#111" stroke-width="0.55"/>
<circle cx="325.4" cy="364.6" r="0.60" fill="#333333" stroke="#111" stroke-width="0.55"/>
<circle cx="345.2" cy="354.2" r="0.60" fill="#333333" stroke="#111" stroke-width="0.55"/>
<circle cx="321.1" cy="366.9" r="0.60" fill="#333333" stroke="#111" stroke-width="0.55"/>
<circle cx="334.8" cy="358.4" r="0.60" fill="#333333" stroke="#111" stroke-width="0.55"/>
<circle cx="322.5" cy="368.4" r="0.60" fill="#333333" stroke="#111" stroke-width="0.55"/>
<circle cx="328.2" cy="366.0" r="0.60" fill="#333333" stroke="#111" stroke-width="0.55"/>
<circle cx="330.1" cy="366.9" r="0.60" fill="#333333" stroke="#111" stroke-width="0.55"/>
<circle cx="338.1" cy="364.6" r="0.60" fill="#333333" stroke="#111" stroke-width="0.55"/>
<circle cx="331.3" cy="363.7" r="0.60" fill="#333333" stroke="#111" stroke-width="0.55"/>
<circle cx="323.1" cy="367.6" r="0.60" fill="#333333" stroke="#111" stroke-width="0.55"/>
<circle cx="334.1" cy="360.2" r="0.60" fill="#333333" stroke="#111" stroke-width="0.55"/>
<circle cx="320.4" cy="366.4" r="0.60" fill="#333333" stroke="#111" stroke-width="0.55"/>
<circle cx="346.9" cy="356.9" r="0.60" fill="#333333" stroke="#111" stroke-width="0.55"/>
<circle cx="337.7" cy="364.4" r="0.60" fill="#333333" stroke="#111" stroke-width="0.55"/>
<circle cx="332.8" cy="361.2" r="0.60" fill="#333333" stroke="#111" stroke-width="0.55"/>
<circle cx="351.0" cy="362.9" r="0.60" fill="#333333" stroke="#111" stroke-width="0.55"/>
<circle cx="324.3" cy="363.5" r="0.60" fill="#333333" stroke="#111" stroke-width="0.55"/>
<circle cx="319.6" cy="366.6" r="0.60" fill="#333333" stroke="#111" stroke-width="0.55"/>
<circle cx="342.7" cy="362.1" r="0.60" fill="#333333" stroke="#111" stroke-width="0.55"/>
<circle cx="331.1" cy="363.2" r="0.60" fill="#333333" stroke="#111" stroke-width="0.55"/>
<circle cx="324.3" cy="366.9" r="0.60" fill="#333333" stroke="#111" stroke-width="0.55"/>
<circle cx="321.7" cy="366.4" r="0.60" fill="#333333" stroke="#111" stroke-width="0.55"/>
<circle cx="317.3" cy="368.0" r="0.60" fill="#333333" stroke="#111" stroke-width="0.55"/>
<circle cx="319.1" cy="368.5" r="0.60" fill="#333333" stroke="#111" stroke-width="0.55"/>
<circle cx="342.5" cy="352.3" r="0.60" fill="#333333" stroke="#111" stroke-width="0.55"/>
<circle cx="318.8" cy="368.7" r="0.60" fill="#333333" stroke="#111" stroke-width="0.55"/>
<circle cx="326.9" cy="365.5" r="0.60" fill="#333333" stroke="#111" stroke-width="0.55"/>
<circle cx="317.2" cy="369.1" r="0.60" fill="#333333" stroke="#111" stroke-width="0.55"/>
<circle cx="318.4" cy="368.4" r="0.60" fill="#333333" stroke="#111" stroke-width="0.55"/>
<circle cx="352.5" cy="359.8" r="0.60" fill="#333333" stroke="#111" stroke-width="0.55"/>
<circle cx="323.3" cy="368.0" r="0.60" fill="#333333" stroke="#111" stroke-width="0.55"/>
<circle cx="319.1" cy="368.3" r="0.60" fill="#333333" stroke="#111" stroke-width="0.55"/>
<circle cx="317.0" cy="368.0" r="0.60" fill="#333333" stroke="#111" stroke-width="0.55"/>
<circle cx="319.0" cy="367.1" r="0.60" fill="#333333" stroke="#111" stroke-width="0.55"/>
<circle cx="329.0" cy="366.5" r="0.60" fill="#333333" stroke="#111" stroke-width="0.55"/>
<circle cx="328.3" cy="361.8" r="0.60" fill="#333333" stroke="#111" stroke-width="0.55"/>
<circle cx="325.8" cy="367.6" r="0.60" fill="#333333" stroke="#111" stroke-width="0.55"/>
<circle cx="319.5" cy="368.8" r="0.60" fill="#333333" stroke="#111" stroke-width="0.55"/>
<circle cx="324.1" cy="366.3" r="0.60" fill="#333333" stroke="#111" stroke-width="0.55"/>
<circle cx="333.5" cy="360.3" r="0.60" fill="#333333" stroke="#111" stroke-width="0.55"/>
<circle cx="320.2" cy="368.1" r="0.60" fill="#333333" stroke="#111" stroke-width="0.55"/>
<circle cx="323.2" cy="368.1" r="0.60" fill="#333333" stroke="#111" stroke-width="0.55"/>
<circle cx="332.8" cy="365.7" r="0.60" fill="#333333" stroke="#111" stroke-width="0.55"/>
<circle cx="337.5" cy="361.6" r="0.60" fill="#333333" stroke="#111" stroke-width="0.55"/>
<circle cx="327.7" cy="363.9" r="0.60" fill="#333333" stroke="#111" stroke-width="0.55"/>
<circle cx="315.8" cy="369.2" r="0.60" fill="#333333" stroke="#111" stroke-width="0.55"/>
<circle cx="325.3" cy="367.6" r="0.60" fill="#333333" stroke="#111" stroke-width="0.55"/>
<circle cx="332.1" cy="364.9" r="0.60" fill="#333333" stroke="#111" stroke-width="0.55"/>
<circle cx="318.4" cy="367.8" r="0.60" fill="#333333" stroke="#111" stroke-width="0.55"/>
<circle cx="326.5" cy="362.5" r="0.60" fill="#333333" stroke="#111" stroke-width="0.55"/>
<circle cx="329.4" cy="362.8" r="0.60" fill="#333333" stroke="#111" stroke-width="0.55"/>
<circle cx="340.8" cy="356.7" r="0.60" fill="#333333" stroke="#111" stroke-width="0.55"/>
<circle cx="339.6" cy="358.0" r="0.60" fill="#333333" stroke="#111" stroke-width="0.55"/>
<circle cx="320.8" cy="365.8" r="0.60" fill="#333333" stroke="#111" stroke-width="0.55"/>
<circle cx="319.2" cy="368.4" r="0.60" fill="#333333" stroke="#111" stroke-width="0.55"/>
<circle cx="327.2" cy="363.1" r="0.60" fill="#333333" stroke="#111" stroke-width="0.55"/>
<circle cx="330.4" cy="359.0" r="0.60" fill="#333333" stroke="#111" stroke-width="0.55"/>
<circle cx="319.4" cy="367.8" r="0.60" fill="#333333" stroke="#111" stroke-width="0.55"/>
<circle cx="319.8" cy="368.6" r="0.60" fill="#333333" stroke="#111" stroke-width="0.55"/>
<circle cx="318.3" cy="368.6" r="0.60" fill="#333333" stroke="#111" stroke-width="0.55"/>
<circle cx="329.1" cy="367.2" r="0.60" fill="#333333" stroke="#111" stroke-width="0.55"/>
<circle cx="339.1" cy="360.7" r="0.60" fill="#333333" stroke="#111" stroke-width="0.55"/>
<circle cx="327.5" cy="365.3" r="0.60" fill="#333333" stroke="#111" stroke-width="0.55"/>
<circle cx="318.3" cy="368.7" r="0.60" fill="#333333" stroke="#111" stroke-width="0.55"/>
<circle cx="329.5" cy="364.6" r="0.60" fill="#333333" stroke="#111" stroke-width="0.55"/>
<circle cx="320.9" cy="367.9" r="0.60" fill="#333333" stroke="#111" stroke-width="0.55"/>
<circle cx="326.2" cy="365.4" r="0.60" fill="#333333" stroke="#111" stroke-width="0.55"/>
<circle cx="348.7" cy="362.6" r="0.60" fill="#333333" stroke="#111" stroke-width="0.55"/>
<circle cx="330.2" cy="360.5" r="0.60" fill="#333333" stroke="#111" stroke-width="0.55"/>
<circle cx="314.7" cy="369.5" r="0.60" fill="#333333" stroke="#111" stroke-width="0.55"/>
<circle cx="347.1" cy="358.4" r="0.60" fill="#333333" stroke="#111" stroke-width="0.55"/>
<circle cx="316.4" cy="368.7" r="0.60" fill="#333333" stroke="#111" stroke-width="0.55"/>
<circle cx="330.2" cy="364.5" r="0.60" fill="#333333" stroke="#111" stroke-width="0.55"/>
<circle cx="350.8" cy="362.6" r="0.60" fill="#333333" stroke="#111" stroke-width="0.55"/>
<circle cx="319.2" cy="368.0" r="0.60" fill="#333333" stroke="#111" stroke-width="0.55"/>
<circle cx="334.8" cy="361.2" r="0.60" fill="#333333" stroke="#111" stroke-width="0.55"/>
<circle cx="327.6" cy="365.1" r="0.60" fill="#333333" stroke="#111" stroke-width="0.55"/>
<circle cx="344.3" cy="354.3" r="0.60" fill="#333333" stroke="#111" stroke-width="0.55"/>
<circle cx="321.4" cy="368.5" r="0.60" fill="#333333" stroke="#111" stroke-width="0.55"/>
<circle cx="322.2" cy="365.4" r="0.60" fill="#333333" stroke="#111" stroke-width="0.55"/>
<circle cx="331.2" cy="364.1" r="0.60" fill="#333333" stroke="#111" stroke-width="0.55"/>
<circle cx="338.4" cy="357.0" r="0.60" fill="#333333" stroke="#111" stroke-width="0.55"/>
<circle cx="321.0" cy="366.2" r="0.60" fill="#333333" stroke="#111" stroke-width="0.55"/>
<circle cx="320.0" cy="368.7" r="0.60" fill="#333333" stroke="#111" stroke-width="0.55"/>
<circle cx="327.3" cy="362.3" r="0.60" fill="#333333" stroke="#111" stroke-width="0.55"/>
<circle cx="328.6" cy="360.2" r="0.60" fill="#333333" stroke="#111" stroke-width="0.55"/>
<circle cx="329.2" cy="367.0" r="0.60" fill="#333333" stroke="#111" stroke-width="0.55"/>
<circle cx="341.5" cy="364.7" r="0.60" fill="#333333" stroke="#111" stroke-width="0.55"/>
<circle cx="335.0" cy="363.1" r="0.60" fill="#333333" stroke="#111" stroke-width="0.55"/>
<circle cx="336.7" cy="360.0" r="0.60" fill="#333333" stroke="#111" stroke-width="0.55"/>
<circle cx="320.4" cy="366.6" r="0.60" fill="#333333" stroke="#111" stroke-width="0.55"/>
<circle cx="326.2" cy="367.4" r="0.60" fill="#333333" stroke="#111" stroke-width="0.55"/>
<circle cx="317.4" cy="368.7" r="0.60" fill="#333333" stroke="#111" stroke-width="0.55"/>
<circle cx="325.0" cy="367.2" r="0.60" fill="#333333" stroke="#111" stroke-width="0.55"/>
<circle cx="320.3" cy="366.9" r="0.60" fill="#333333" stroke="#111" stroke-width="0.55"/>
<circle cx="315.5" cy="369.3" r="0.60" fill="#333333" stroke="#111" stroke-width="0.55"/>
<circle cx="321.5" cy="367.6" r="0.60" fill="#333333" stroke="#111" stroke-width="0.55"/>
<circle cx="320.8" cy="368.3" r="0.60" fill="#333333" stroke="#111" stroke-width="0.55"/>
<circle cx="347.5" cy="362.7" r="0.60" fill="#333333" stroke="#111" stroke-width="0.55"/>
<circle cx="353.2" cy="355.9" r="0.60" fill="#333333" stroke="#111" stroke-width="0.55"/>
<circle cx="333.7" cy="362.2" r="0.60" fill="#333333" stroke="#111" stroke-width="0.55"/>
<circle cx="315.0" cy="369.4" r="0.60" fill="#333333" stroke="#111" stroke-width="0.55"/>
<circle cx="326.4" cy="364.6" r="0.60" fill="#333333" stroke="#111" stroke-width="0.55"/>
<circle cx="344.8" cy="363.2" r="0.60" fill="#333333" stroke="#111" stroke-width="0.55"/>
<circle cx="317.4" cy="368.7" r="0.60" fill="#333333" stroke="#111" stroke-width="0.55"/>
<circle cx="334.1" cy="360.7" r="0.60" fill="#333333" stroke="#111" stroke-width="0.55"/>
<circle cx="331.6" cy="360.6" r="0.60" fill="#333333" stroke="#111" stroke-width="0.55"/>
<circle cx="323.8" cy="368.3" r="0.60" fill="#333333" stroke="#111" stroke-width="0.55"/>
<circle cx="336.9" cy="361.1" r="0.60" fill="#333333" stroke="#111" stroke-width="0.55"/>
<circle cx="321.8" cy="365.9" r="0.60" fill="#333333" stroke="#111" stroke-width="0.55"/>
<circle cx="338.9" cy="361.9" r="0.60" fill="#333333" stroke="#111" stroke-width="0.55"/>
<circle cx="315.4" cy="369.4" r="0.60" fill="#333333" stroke="#111" stroke-width="0.55"/>
<circle cx="317.8" cy="368.8" r="0.60" fill="#333333" stroke="#111" stroke-width="0.55"/>
<circle cx="327.5" cy="364.8" r="0.60" fill="#333333" stroke="#111" stroke-width="0.55"/>
<circle cx="331.4" cy="363.7" r="0.60" fill="#333333" stroke="#111" stroke-width="0.55"/>
<circle cx="314.8" cy="369.5" r="0.60" fill="#333333" stroke="#111" stroke-width="0.55"/>
<circle cx="339.3" cy="355.6" r="0.60" fill="#333333" stroke="#111" stroke-width="0.55"/>
<circle cx="343.9" cy="364.3" r="0.60" fill="#333333" stroke="#111" stroke-width="0.55"/>
<circle cx="321.7" cy="366.0" r="0.60" fill="#333333" stroke="#111" stroke-width="0.55"/>
<circle cx="316.7" cy="368.7" r="0.60" fill="#333333" stroke="#111" stroke-width="0.55"/>
<circle cx="325.6" cy="366.0" r="0.60" fill="#333333" stroke="#111" stroke-width="0.55"/>
<circle cx="349.8" cy="353.5" r="0.60" fill="#333333" stroke="#111" stroke-width="0.55"/>
<circle cx="324.2" cy="364.0" r="0.60" fill="#333333" stroke="#111" stroke-width="0.55"/>
<circle cx="319.0" cy="368.3" r="0.60" fill="#333333" stroke="#111" stroke-width="0.55"/>
<circle cx="325.7" cy="363.8" r="0.60" fill="#333333" stroke="#111" stroke-width="0.55"/>
<circle cx="320.4" cy="367.5" r="0.60" fill="#333333" stroke="#111" stroke-width="0.55"/>
<circle cx="321.4" cy="366.2" r="0.60" fill="#333333" stroke="#111" stroke-width="0.55"/>
<circle cx="345.3" cy="357.1" r="0.60" fill="#333333" stroke="#111" stroke-width="0.55"/>
<circle cx="325.4" cy="365.6" r="0.60" fill="#333333" stroke="#111" stroke-width="0.55"/>
<circle cx="317.8" cy="368.2" r="0.60" fill="#333333" stroke="#111" stroke-width="0.55"/>
<circle cx="327.7" cy="365.9" r="0.60" fill="#333333" stroke="#111" stroke-width="0.55"/>
<circle cx="334.8" cy="361.1" r="0.60" fill="#333333" stroke="#111" stroke-width="0.55"/>
<circle cx="331.9" cy="361.6" r="0.60" fill="#333333" stroke="#111" stroke-width="0.55"/>
<circle cx="318.2" cy="368.6" r="0.60" fill="#333333" stroke="#111" stroke-width="0.55"/>
<circle cx="354.9" cy="361.4" r="0.60" fill="#333333" stroke="#111" stroke-width="0.55"/>
<circle cx="317.2" cy="368.9" r="0.60" fill="#333333" stroke="#111" stroke-width="0.55"/>
<circle cx="321.9" cy="365.9" r="0.60" fill="#333333" stroke="#111" stroke-width="0.55"/>
<circle cx="317.0" cy="369.0" r="0.60" fill="#333333" stroke="#111" stroke-width="0.55"/>
<circle cx="336.3" cy="360.5" r="0.60" fill="#333333" stroke="#111" stroke-width="0.55"/>
<circle cx="318.3" cy="368.6" r="0.60" fill="#333333" stroke="#111" stroke-width="0.55"/>
<circle cx="331.9" cy="363.9" r="0.60" fill="#333333" stroke="#111" stroke-width="0.55"/>
<circle cx="321.6" cy="367.5" r="0.60" fill="#333333" stroke="#111" stroke-width="0.55"/>
<circle cx="336.1" cy="363.6" r="0.60" fill="#333333" stroke="#111" stroke-width="0.55"/>
<circle cx="330.3" cy="364.9" r="0.60" fill="#333333" stroke="#111" stroke-width="0.55"/>
<circle cx="334.6" cy="364.2" r="0.60" fill="#333333" stroke="#111" stroke-width="0.55"/>
<circle cx="343.3" cy="355.9" r="0.60" fill="#333333" stroke="#111" stroke-width="0.55"/>
<circle cx="325.6" cy="363.9" r="0.60" fill="#333333" stroke="#111" stroke-width="0.55"/>
<circle cx="324.7" cy="365.3" r="0.60" fill="#333333" stroke="#111" stroke-width="0.55"/>
<circle cx="317.2" cy="368.5" r="0.60" fill="#333333" stroke="#111" stroke-width="0.55"/>
<circle cx="347.1" cy="359.3" r="0.60" fill="#333333" stroke="#111" stroke-width="0.55"/>
<circle cx="323.7" cy="365.4" r="0.60" fill="#333333" stroke="#111" stroke-width="0.55"/>
<circle cx="315.1" cy="369.3" r="0.60" fill="#333333" stroke="#111" stroke-width="0.55"/>
<circle cx="318.0" cy="368.7" r="0.60" fill="#333333" stroke="#111" stroke-width="0.55"/>
<circle cx="316.1" cy="368.6" r="0.60" fill="#333333" stroke="#111" stroke-width="0.55"/>
<circle cx="334.4" cy="356.9" r="0.60" fill="#333333" stroke="#111" stroke-width="0.55"/>
<circle cx="325.5" cy="364.9" r="0.60" fill="#333333" stroke="#111" stroke-width="0.55"/>
<circle cx="325.7" cy="366.5" r="0.60" fill="#333333" stroke="#111" stroke-width="0.55"/>
<circle cx="320.8" cy="367.1" r="0.60" fill="#333333" stroke="#111" stroke-width="0.55"/>
<circle cx="326.4" cy="366.2" r="0.60" fill="#333333" stroke="#111" stroke-width="0.55"/>
<circle cx="348.1" cy="355.8" r="0.60" fill="#333333" stroke="#111" stroke-width="0.55"/>
<circle cx="334.7" cy="360.2" r="0.60" fill="#333333" stroke="#111" stroke-width="0.55"/>
<circle cx="340.0" cy="363.8" r="0.60" fill="#333333" stroke="#111" stroke-width="0.55"/>
<circle cx="327.4" cy="366.9" r="0.60" fill="#333333" stroke="#111" stroke-width="0.55"/>
<circle cx="347.4" cy="362.0" r="0.60" fill="#333333" stroke="#111" stroke-width="0.55"/>
<circle cx="334.6" cy="359.5" r="0.60" fill="#333333" stroke="#111" stroke-width="0.55"/>
<circle cx="330.7" cy="364.3" r="0.60" fill="#333333" stroke="#111" stroke-width="0.55"/>
<circle cx="320.3" cy="367.4" r="0.60" fill="#333333" stroke="#111" stroke-width="0.55"/>
<circle cx="329.1" cy="364.9" r="0.60" fill="#333333" stroke="#111" stroke-width="0.55"/>
<circle cx="322.8" cy="366.1" r="0.60" fill="#333333" stroke="#111" stroke-width="0.55"/>
<circle cx="323.1" cy="366.2" r="0.60" fill="#333333" stroke="#111" stroke-width="0.55"/>
<circle cx="332.4" cy="361.4" r="0.60" fill="#333333" stroke="#111" stroke-width="0.55"/>
<circle cx="321.4" cy="366.7" r="0.60" fill="#333333" stroke="#111" stroke-width="0.55"/>
<circle cx="320.0" cy="367.8" r="0.60" fill="#333333" stroke="#111" stroke-width="0.55"/>
<circle cx="334.7" cy="359.0" r="0.60" fill="#333333" stroke="#111" stroke-width="0.55"/>
<circle cx="347.4" cy="361.7" r="0.60" fill="#333333" stroke="#111" stroke-width="0.55"/>
<circle cx="318.3" cy="367.6" r="0.60" fill="#333333" stroke="#111" stroke-width="0.55"/>
<circle cx="322.5" cy="366.5" r="0.60" fill="#333333" stroke="#111" stroke-width="0.55"/>
<circle cx="337.1" cy="357.3" r="0.60" fill="#333333" stroke="#111" stroke-width="0.55"/>
<circle cx="320.4" cy="368.1" r="0.60" fill="#333333" stroke="#111" stroke-width="0.55"/>
<circle cx="322.5" cy="365.3" r="0.60" fill="#333333" stroke="#111" stroke-width="0.55"/>
<circle cx="327.8" cy="363.4" r="0.60" fill="#333333" stroke="#111" stroke-width="0.55"/>
<circle cx="328.1" cy="361.5" r="0.60" fill="#333333" stroke="#111" stroke-width="0.55"/>
<circle cx="323.9" cy="365.6" r="0.60" fill="#333333" stroke="#111" stroke-width="0.55"/>
<circle cx="321.3" cy="365.4" r="0.60" fill="#333333" stroke="#111" stroke-width="0.55"/>
<circle cx="323.7" cy="364.9" r="0.60" fill="#333333" stroke="#111" stroke-width="0.55"/>
<circle cx="335.8" cy="361.2" r="0.60" fill="#333333" stroke="#111" stroke-width="0.55"/>
<circle cx="346.4" cy="359.5" r="0.60" fill="#333333" stroke="#111" stroke-width="0.55"/>
<circle cx="337.0" cy="359.4" r="0.60" fill="#333333" stroke="#111" stroke-width="0.55"/>
<circle cx="328.0" cy="362.6" r="0.60" fill="#333333" stroke="#111" stroke-width="0.55"/>
<circle cx="348.3" cy="362.5" r="0.60" fill="#333333" stroke="#111" stroke-width="0.55"/>
<circle cx="324.6" cy="363.9" r="0.60" fill="#333333" stroke="#111" stroke-width="0.55"/>
<circle cx="328.7" cy="366.9" r="0.60" fill="#333333" stroke="#111" stroke-width="0.55"/>
<circle cx="333.8" cy="363.1" r="0.60" fill="#333333" stroke="#111" stroke-width="0.55"/>
<circle cx="346.5" cy="350.9" r="0.60" fill="#333333" stroke="#111" stroke-width="0.55"/>
<circle cx="334.1" cy="364.3" r="0.60" fill="#333333" stroke="#111" stroke-width="0.55"/>
<circle cx="332.7" cy="359.6" r="0.60" fill="#333333" stroke="#111" stroke-width="0.55"/>
<circle cx="328.3" cy="365.8" r="0.60" fill="#333333" stroke="#111" stroke-width="0.55"/>
<circle cx="336.6" cy="365.1" r="0.60" fill="#333333" stroke="#111" stroke-width="0.55"/>
<circle cx="331.3" cy="360.7" r="0.60" fill="#333333" stroke="#111" stroke-width="0.55"/>
<circle cx="325.5" cy="364.9" r="0.60" fill="#333333" stroke="#111" stroke-width="0.55"/>
<circle cx="348.1" cy="360.6" r="0.60" fill="#333333" stroke="#111" stroke-width="0.55"/>
<circle cx="337.1" cy="363.3" r="0.60" fill="#333333" stroke="#111" stroke-width="0.55"/>
<circle cx="324.4" cy="367.5" r="0.60" fill="#333333" stroke="#111" stroke-width="0.55"/>
<circle cx="326.1" cy="364.9" r="0.60" fill="#333333" stroke="#111" stroke-width="0.55"/>
<circle cx="318.2" cy="368.8" r="0.60" fill="#333333" stroke="#111" stroke-width="0.55"/>
<circle cx="317.2" cy="368.8" r="0.60" fill="#333333" stroke="#111" stroke-width="0.55"/>
<circle cx="321.4" cy="367.8" r="0.60" fill="#333333" stroke="#111" stroke-width="0.55"/>
<circle cx="345.0" cy="361.4" r="0.60" fill="#333333" stroke="#111" stroke-width="0.55"/>
<circle cx="322.0" cy="366.6" r="0.60" fill="#333333" stroke="#111" stroke-width="0.55"/>
<circle cx="351.0" cy="353.4" r="0.60" fill="#333333" stroke="#111" stroke-width="0.55"/>
<circle cx="324.9" cy="367.5" r="0.60" fill="#333333" stroke="#111" stroke-width="0.55"/>
<circle cx="322.2" cy="366.3" r="0.60" fill="#333333" stroke="#111" stroke-width="0.55"/>
<circle cx="335.2" cy="359.5" r="0.60" fill="#333333" stroke="#111" stroke-width="0.55"/>
<circle cx="320.9" cy="367.6" r="0.60" fill="#333333" stroke="#111" stroke-width="0.55"/>
<circle cx="330.7" cy="362.2" r="0.60" fill="#333333" stroke="#111" stroke-width="0.55"/>
<circle cx="351.3" cy="362.1" r="0.60" fill="#333333" stroke="#111" stroke-width="0.55"/>
<circle cx="337.3" cy="362.9" r="0.60" fill="#333333" stroke="#111" stroke-width="0.55"/>
<circle cx="333.2" cy="362.3" r="0.60" fill="#333333" stroke="#111" stroke-width="0.55"/>
<circle cx="319.4" cy="367.9" r="0.60" fill="#333333" stroke="#111" stroke-width="0.55"/>
<circle cx="345.7" cy="362.9" r="0.60" fill="#333333" stroke="#111" stroke-width="0.55"/>
<circle cx="337.8" cy="361.6" r="0.60" fill="#333333" stroke="#111" stroke-width="0.55"/>
<circle cx="322.4" cy="365.1" r="0.60" fill="#333333" stroke="#111" stroke-width="0.55"/>
<circle cx="317.1" cy="369.3" r="0.60" fill="#333333" stroke="#111" stroke-width="0.55"/>
<circle cx="322.5" cy="365.9" r="0.60" fill="#333333" stroke="#111" stroke-width="0.55"/>
<circle cx="315.8" cy="369.2" r="0.60" fill="#333333" stroke="#111" stroke-width="0.55"/>
<circle cx="315.3" cy="369.3" r="0.60" fill="#333333" stroke="#111" stroke-width="0.55"/>
<circle cx="327.5" cy="366.4" r="0.60" fill="#333333" stroke="#111" stroke-width="0.55"/>
<circle cx="321.5" cy="365.7" r="0.60" fill="#333333" stroke="#111" stroke-width="0.55"/>
<circle cx="325.2" cy="366.6" r="0.60" fill="#333333" stroke="#111" stroke-width="0.55"/>
<circle cx="330.9" cy="361.7" r="0.60" fill="#333333" stroke="#111" stroke-width="0.55"/>
<circle cx="323.2" cy="365.1" r="0.60" fill="#333333" stroke="#111" stroke-width="0.55"/>
<circle cx="326.5" cy="365.1" r="0.60" fill="#333333" stroke="#111" stroke-width="0.55"/>
<circle cx="323.2" cy="367.3" r="0.60" fill="#333333" stroke="#111" stroke-width="0.55"/>
<circle cx="326.1" cy="366.4" r="0.60" fill="#333333" stroke="#111" stroke-width="0.55"/>
<circle cx="321.2" cy="366.6" r="0.60" fill="#333333" stroke="#111" stroke-width="0.55"/>
<circle cx="322.9" cy="364.8" r="0.60" fill="#333333" stroke="#111" stroke-width="0.55"/>
<circle cx="338.7" cy="361.9" r="0.60" fill="#333333" stroke="#111" stroke-width="0.55"/>
<circle cx="337.8" cy="363.9" r="0.60" fill="#333333" stroke="#111" stroke-width="0.55"/>
<circle cx="320.5" cy="367.1" r="0.60" fill="#333333" stroke="#111" stroke-width="0.55"/>
<circle cx="328.1" cy="366.7" r="0.60" fill="#333333" stroke="#111" stroke-width="0.55"/>
<circle cx="320.2" cy="367.1" r="0.60" fill="#333333" stroke="#111" stroke-width="0.55"/>
<circle cx="322.6" cy="366.9" r="0.60" fill="#333333" stroke="#111" stroke-width="0.55"/>
<circle cx="329.7" cy="366.1" r="0.60" fill="#333333" stroke="#111" stroke-width="0.55"/>
<circle cx="316.4" cy="368.7" r="0.60" fill="#333333" stroke="#111" stroke-width="0.55"/>
<circle cx="317.2" cy="369.0" r="0.60" fill="#333333" stroke="#111" stroke-width="0.55"/>
<circle cx="320.0" cy="367.9" r="0.60" fill="#333333" stroke="#111" stroke-width="0.55"/>
<circle cx="323.7" cy="365.0" r="0.60" fill="#333333" stroke="#111" stroke-width="0.55"/>
<circle cx="327.0" cy="361.2" r="0.60" fill="#333333" stroke="#111" stroke-width="0.55"/>
<circle cx="328.5" cy="365.1" r="0.60" fill="#333333" stroke="#111" stroke-width="0.55"/>
<circle cx="324.9" cy="367.2" r="0.60" fill="#333333" stroke="#111" stroke-width="0.55"/>
<circle cx="338.8" cy="358.8" r="0.60" fill="#333333" stroke="#111" stroke-width="0.55"/>
<circle cx="319.2" cy="366.6" r="0.60" fill="#333333" stroke="#111" stroke-width="0.55"/>
<circle cx="316.0" cy="369.0" r="0.60" fill="#333333" stroke="#111" stroke-width="0.55"/>
<circle cx="330.2" cy="367.2" r="0.60" fill="#333333" stroke="#111" stroke-width="0.55"/>
<circle cx="329.2" cy="361.1" r="0.60" fill="#333333" stroke="#111" stroke-width="0.55"/>
<circle cx="319.6" cy="368.3" r="0.60" fill="#333333" stroke="#111" stroke-width="0.55"/>
<circle cx="321.6" cy="366.2" r="0.60" fill="#333333" stroke="#111" stroke-width="0.55"/>
<circle cx="330.6" cy="366.9" r="0.60" fill="#333333" stroke="#111" stroke-width="0.55"/>
<circle cx="328.1" cy="364.5" r="0.60" fill="#333333" stroke="#111" stroke-width="0.55"/>
<circle cx="346.5" cy="357.6" r="0.60" fill="#333333" stroke="#111" stroke-width="0.55"/>
<circle cx="334.5" cy="364.8" r="0.60" fill="#333333" stroke="#111" stroke-width="0.55"/>
<circle cx="333.7" cy="359.2" r="0.60" fill="#333333" stroke="#111" stroke-width="0.55"/>
<circle cx="315.2" cy="369.3" r="0.60" fill="#333333" stroke="#111" stroke-width="0.55"/>
<circle cx="329.4" cy="363.9" r="0.60" fill="#333333" stroke="#111" stroke-width="0.55"/>
<circle cx="340.3" cy="365.0" r="0.60" fill="#333333" stroke="#111" stroke-width="0.55"/>
<circle cx="330.8" cy="364.6" r="0.60" fill="#333333" stroke="#111" stroke-width="0.55"/>
<circle cx="324.0" cy="365.4" r="0.60" fill="#333333" stroke="#111" stroke-width="0.55"/>
<circle cx="350.2" cy="359.8" r="0.60" fill="#333333" stroke="#111" stroke-width="0.55"/>
<circle cx="343.5" cy="359.4" r="0.60" fill="#333333" stroke="#111" stroke-width="0.55"/>
<circle cx="350.0" cy="353.1" r="0.60" fill="#333333" stroke="#111" stroke-width="0.55"/>
<circle cx="343.4" cy="364.0" r="0.60" fill="#333333" stroke="#111" stroke-width="0.55"/>
<circle cx="350.7" cy="352.8" r="0.60" fill="#333333" stroke="#111" stroke-width="0.55"/>
<circle cx="345.0" cy="351.2" r="0.60" fill="#333333" stroke="#111" stroke-width="0.55"/>
<circle cx="337.2" cy="358.6" r="0.60" fill="#333333" stroke="#111" stroke-width="0.55"/>
<circle cx="335.6" cy="360.0" r="0.60" fill="#333333" stroke="#111" stroke-width="0.55"/>
<circle cx="328.9" cy="364.9" r="0.60" fill="#333333" stroke="#111" stroke-width="0.55"/>
<circle cx="321.3" cy="368.0" r="0.60" fill="#333333" stroke="#111" stroke-width="0.55"/>
<circle cx="325.0" cy="365.3" r="0.60" fill="#333333" stroke="#111" stroke-width="0.55"/>
<circle cx="347.5" cy="353.8" r="0.60" fill="#333333" stroke="#111" stroke-width="0.55"/>
<circle cx="333.9" cy="359.0" r="0.60" fill="#333333" stroke="#111" stroke-width="0.55"/>
<circle cx="315.9" cy="369.1" r="0.60" fill="#333333" stroke="#111" stroke-width="0.55"/>
<circle cx="320.4" cy="367.1" r="0.60" fill="#333333" stroke="#111" stroke-width="0.55"/>
<circle cx="331.9" cy="365.5" r="0.60" fill="#333333" stroke="#111" stroke-width="0.55"/>
<circle cx="339.3" cy="365.2" r="0.60" fill="#333333" stroke="#111" stroke-width="0.55"/>
<circle cx="342.0" cy="359.3" r="0.60" fill="#333333" stroke="#111" stroke-width="0.55"/>
<circle cx="332.1" cy="365.1" r="0.60" fill="#333333" stroke="#111" stroke-width="0.55"/>
<circle cx="332.4" cy="360.3" r="0.60" fill="#333333" stroke="#111" stroke-width="0.55"/>
<circle cx="327.3" cy="364.6" r="0.60" fill="#333333" stroke="#111" stroke-width="0.55"/>
<circle cx="330.7" cy="366.9" r="0.60" fill="#333333" stroke="#111" stroke-width="0.55"/>
<circle cx="334.0" cy="359.0" r="0.60" fill="#333333" stroke="#111" stroke-width="0.55"/>
<circle cx="330.2" cy="365.8" r="0.60" fill="#333333" stroke="#111" stroke-width="0.55"/>
<circle cx="337.2" cy="364.2" r="0.60" fill="#333333" stroke="#111" stroke-width="0.55"/>
<circle cx="314.6" cy="369.6" r="0.60" fill="#333333" stroke="#111" stroke-width="0.55"/>
<circle cx="342.9" cy="361.5" r="0.60" fill="#333333" stroke="#111" stroke-width="0.55"/>
<circle cx="335.1" cy="366.1" r="0.60" fill="#333333" stroke="#111" stroke-width="0.55"/>
<circle cx="315.0" cy="369.4" r="0.60" fill="#333333" stroke="#111" stroke-width="0.55"/>
<circle cx="318.9" cy="367.4" r="0.60" fill="#333333" stroke="#111" stroke-width="0.55"/>
<circle cx="346.0" cy="349.5" r="0.60" fill="#333333" stroke="#111" stroke-width="0.55"/>
<circle cx="317.4" cy="368.5" r="0.60" fill="#333333" stroke="#111" stroke-width="0.55"/>
<circle cx="332.6" cy="365.4" r="0.60" fill="#333333" stroke="#111" stroke-width="0.55"/>
<circle cx="316.7" cy="368.6" r="0.60" fill="#333333" stroke="#111" stroke-width="0.55"/>
<circle cx="352.0" cy="361.5" r="0.60" fill="#333333" stroke="#111" stroke-width="0.55"/>
<circle cx="326.2" cy="365.5" r="0.60" fill="#333333" stroke="#111" stroke-width="0.55"/>
<circle cx="335.3" cy="363.4" r="0.60" fill="#333333" stroke="#111" stroke-width="0.55"/>
<circle cx="324.6" cy="367.2" r="0.60" fill="#333333" stroke="#111" stroke-width="0.55"/>
<circle cx="315.7" cy="368.9" r="0.60" fill="#333333" stroke="#111" stroke-width="0.55"/>
<circle cx="315.7" cy="369.4" r="0.60" fill="#333333" stroke="#111" stroke-width="0.55"/>
<circle cx="333.1" cy="363.0" r="0.60" fill="#333333" stroke="#111" stroke-width="0.55"/>
<circle cx="329.4" cy="363.5" r="0.60" fill="#333333" stroke="#111" stroke-width="0.55"/>
<circle cx="319.4" cy="368.4" r="0.60" fill="#333333" stroke="#111" stroke-width="0.55"/>
<circle cx="328.4" cy="364.7" r="0.60" fill="#333333" stroke="#111" stroke-width="0.55"/>
<circle cx="322.0" cy="365.5" r="0.60" fill="#333333" stroke="#111" stroke-width="0.55"/>
<circle cx="319.6" cy="368.5" r="0.60" fill="#333333" stroke="#111" stroke-width="0.55"/>
<circle cx="333.7" cy="362.9" r="0.60" fill="#333333" stroke="#111" stroke-width="0.55"/>
<circle cx="335.1" cy="365.3" r="0.60" fill="#333333" stroke="#111" stroke-width="0.55"/>
<circle cx="327.4" cy="364.3" r="0.60" fill="#333333" stroke="#111" stroke-width="0.55"/>
<circle cx="339.0" cy="364.3" r="0.60" fill="#333333" stroke="#111" stroke-width="0.55"/>
<circle cx="317.0" cy="368.7" r="0.60" fill="#333333" stroke="#111" stroke-width="0.55"/>
<circle cx="357.6" cy="358.8" r="0.60" fill="#333333" stroke="#111" stroke-width="0.55"/>
<circle cx="325.5" cy="364.4" r="0.60" fill="#333333" stroke="#111" stroke-width="0.55"/>
<circle cx="323.1" cy="366.0" r="0.60" fill="#333333" stroke="#111" stroke-width="0.55"/>
<circle cx="327.4" cy="362.2" r="0.60" fill="#333333" stroke="#111" stroke-width="0.55"/>
<circle cx="361.9" cy="358.8" r="0.60" fill="#333333" stroke="#111" stroke-width="0.55"/>
<circle cx="329.9" cy="366.2" r="0.60" fill="#333333" stroke="#111" stroke-width="0.55"/>
<circle cx="355.6" cy="353.0" r="0.60" fill="#333333" stroke="#111" stroke-width="0.55"/>
<circle cx="327.5" cy="364.0" r="0.60" fill="#333333" stroke="#111" stroke-width="0.55"/>
<circle cx="334.5" cy="357.4" r="0.60" fill="#333333" stroke="#111" stroke-width="0.55"/>
<circle cx="329.4" cy="366.8" r="0.60" fill="#333333" stroke="#111" stroke-width="0.55"/>
<circle cx="336.3" cy="358.7" r="0.60" fill="#333333" stroke="#111" stroke-width="0.55"/>
<circle cx="318.9" cy="368.8" r="0.60" fill="#333333" stroke="#111" stroke-width="0.55"/>
<circle cx="325.5" cy="364.7" r="0.60" fill="#333333" stroke="#111" stroke-width="0.55"/>
<circle cx="326.6" cy="364.3" r="0.60" fill="#333333" stroke="#111" stroke-width="0.55"/>
<circle cx="333.7" cy="365.3" r="0.60" fill="#333333" stroke="#111" stroke-width="0.55"/>
<circle cx="332.3" cy="362.9" r="0.60" fill="#333333" stroke="#111" stroke-width="0.55"/>
<circle cx="336.2" cy="363.6" r="0.60" fill="#333333" stroke="#111" stroke-width="0.55"/>
<circle cx="348.4" cy="351.0" r="0.60" fill="#333333" stroke="#111" stroke-width="0.55"/>
<circle cx="320.4" cy="367.1" r="0.60" fill="#333333" stroke="#111" stroke-width="0.55"/>
<circle cx="315.9" cy="369.1" r="0.60" fill="#333333" stroke="#111" stroke-width="0.55"/>
<circle cx="337.4" cy="359.6" r="0.60" fill="#333333" stroke="#111" stroke-width="0.55"/>
<circle cx="324.8" cy="367.0" r="0.60" fill="#333333" stroke="#111" stroke-width="0.55"/>
<circle cx="344.0" cy="359.5" r="0.60" fill="#333333" stroke="#111" stroke-width="0.55"/>
<circle cx="320.8" cy="367.3" r="0.60" fill="#333333" stroke="#111" stroke-width="0.55"/>
<circle cx="344.1" cy="359.7" r="0.60" fill="#333333" stroke="#111" stroke-width="0.55"/>
<circle cx="318.0" cy="369.1" r="0.60" fill="#333333" stroke="#111" stroke-width="0.55"/>
<circle cx="337.9" cy="362.1" r="0.60" fill="#333333" stroke="#111" stroke-width="0.55"/>
<circle cx="322.4" cy="368.4" r="0.60" fill="#333333" stroke="#111" stroke-width="0.55"/>
<circle cx="319.1" cy="368.4" r="0.60" fill="#333333" stroke="#111" stroke-width="0.55"/>
<circle cx="332.3" cy="366.3" r="0.60" fill="#333333" stroke="#111" stroke-width="0.55"/>
<circle cx="321.1" cy="367.2" r="0.60" fill="#333333" stroke="#111" stroke-width="0.55"/>
<circle cx="335.5" cy="358.8" r="0.60" fill="#333333" stroke="#111" stroke-width="0.55"/>
<circle cx="338.1" cy="355.5" r="0.60" fill="#333333" stroke="#111" stroke-width="0.55"/>
<circle cx="337.0" cy="362.2" r="0.60" fill="#333333" stroke="#111" stroke-width="0.55"/>
<circle cx="317.3" cy="368.6" r="0.60" fill="#333333" stroke="#111" stroke-width="0.55"/>
<circle cx="318.1" cy="368.3" r="0.60" fill="#333333" stroke="#111" stroke-width="0.55"/>
<circle cx="325.9" cy="365.8" r="0.60" fill="#333333" stroke="#111" stroke-width="0.55"/>
<circle cx="329.9" cy="362.5" r="0.60" fill="#333333" stroke="#111" stroke-width="0.55"/>
<circle cx="329.9" cy="364.4" r="0.60" fill="#333333" stroke="#111" stroke-width="0.55"/>
<circle cx="322.9" cy="367.4" r="0.60" fill="#333333" stroke="#111" stroke-width="0.55"/>
<circle cx="326.1" cy="362.8" r="0.60" fill="#333333" stroke="#111" stroke-width="0.55"/>
<circle cx="335.5" cy="365.4" r="0.60" fill="#333333" stroke="#111" stroke-width="0.55"/>
<circle cx="329.4" cy="362.7" r="0.60" fill="#333333" stroke="#111" stroke-width="0.55"/>
<circle cx="323.1" cy="366.7" r="0.60" fill="#333333" stroke="#111" stroke-width="0.55"/>
<circle cx="340.9" cy="359.5" r="0.60" fill="#333333" stroke="#111" stroke-width="0.55"/>
<circle cx="348.3" cy="361.2" r="0.60" fill="#333333" stroke="#111" stroke-width="0.55"/>
<circle cx="327.3" cy="362.5" r="0.60" fill="#333333" stroke="#111" stroke-width="0.55"/>
<circle cx="323.6" cy="364.7" r="0.60" fill="#333333" stroke="#111" stroke-width="0.55"/>
<circle cx="323.9" cy="367.2" r="0.60" fill="#333333" stroke="#111" stroke-width="0.55"/>
<circle cx="353.3" cy="353.7" r="0.60" fill="#333333" stroke="#111" stroke-width="0.55"/>
<circle cx="327.6" cy="366.2" r="0.60" fill="#333333" stroke="#111" stroke-width="0.55"/>
<circle cx="323.5" cy="367.0" r="0.60" fill="#333333" stroke="#111" stroke-width="0.55"/>
<circle cx="334.5" cy="365.4" r="0.60" fill="#333333" stroke="#111" stroke-width="0.55"/>
<circle cx="335.9" cy="360.1" r="0.60" fill="#333333" stroke="#111" stroke-width="0.55"/>
<circle cx="327.9" cy="364.1" r="0.60" fill="#333333" stroke="#111" stroke-width="0.55"/>
<circle cx="334.0" cy="358.8" r="0.60" fill="#333333" stroke="#111" stroke-width="0.55"/>
<circle cx="315.1" cy="369.5" r="0.60" fill="#333333" stroke="#111" stroke-width="0.55"/>
<circle cx="321.4" cy="366.6" r="0.60" fill="#333333" stroke="#111" stroke-width="0.55"/>
<circle cx="316.0" cy="369.1" r="0.60" fill="#333333" stroke="#111" stroke-width="0.55"/>
<circle cx="333.3" cy="362.7" r="0.60" fill="#333333" stroke="#111" stroke-width="0.55"/>
<circle cx="325.2" cy="367.1" r="0.60" fill="#333333" stroke="#111" stroke-width="0.55"/>
<circle cx="337.7" cy="357.4" r="0.60" fill="#333333" stroke="#111" stroke-width="0.55"/>
<circle cx="343.4" cy="362.9" r="0.60" fill="#333333" stroke="#111" stroke-width="0.55"/>
<circle cx="318.0" cy="367.3" r="0.60" fill="#333333" stroke="#111" stroke-width="0.55"/>
<circle cx="326.4" cy="367.3" r="0.60" fill="#333333" stroke="#111" stroke-width="0.55"/>
<circle cx="317.2" cy="368.3" r="0.60" fill="#333333" stroke="#111" stroke-width="0.55"/>
<circle cx="334.6" cy="364.1" r="0.60" fill="#333333" stroke="#111" stroke-width="0.55"/>
<circle cx="330.3" cy="366.6" r="0.60" fill="#333333" stroke="#111" stroke-width="0.55"/>
<circle cx="322.6" cy="367.8" r="0.60" fill="#333333" stroke="#111" stroke-width="0.55"/>
<circle cx="335.8" cy="361.1" r="0.60" fill="#333333" stroke="#111" stroke-width="0.55"/>
<circle cx="327.0" cy="366.1" r="0.60" fill="#333333" stroke="#111" stroke-width="0.55"/>
<circle cx="328.8" cy="365.5" r="0.60" fill="#333333" stroke="#111" stroke-width="0.55"/>
<circle cx="340.3" cy="361.4" r="0.60" fill="#333333" stroke="#111" stroke-width="0.55"/>
<circle cx="346.7" cy="362.8" r="0.60" fill="#333333" stroke="#111" stroke-width="0.55"/>
<circle cx="328.7" cy="364.0" r="0.60" fill="#333333" stroke="#111" stroke-width="0.55"/>
<circle cx="333.3" cy="362.3" r="0.60" fill="#333333" stroke="#111" stroke-width="0.55"/>
<circle cx="343.2" cy="363.9" r="0.60" fill="#333333" stroke="#111" stroke-width="0.55"/>
<circle cx="317.0" cy="368.2" r="0.60" fill="#333333" stroke="#111" stroke-width="0.55"/>
<circle cx="317.0" cy="368.5" r="0.60" fill="#333333" stroke="#111" stroke-width="0.55"/>
<circle cx="332.4" cy="366.8" r="0.60" fill="#333333" stroke="#111" stroke-width="0.55"/>
<circle cx="331.6" cy="366.6" r="0.60" fill="#333333" stroke="#111" stroke-width="0.55"/>
<circle cx="332.1" cy="359.4" r="0.60" fill="#333333" stroke="#111" stroke-width="0.55"/>
<circle cx="339.0" cy="355.9" r="0.60" fill="#333333" stroke="#111" stroke-width="0.55"/>
<circle cx="341.0" cy="359.5" r="0.60" fill="#333333" stroke="#111" stroke-width="0.55"/>
<circle cx="330.7" cy="362.7" r="0.60" fill="#333333" stroke="#111" stroke-width="0.55"/>
<circle cx="318.3" cy="368.2" r="0.60" fill="#333333" stroke="#111" stroke-width="0.55"/>
<circle cx="328.5" cy="363.9" r="0.60" fill="#333333" stroke="#111" stroke-width="0.55"/>
<circle cx="337.7" cy="359.7" r="0.60" fill="#333333" stroke="#111" stroke-width="0.55"/>
<circle cx="324.5" cy="364.2" r="0.60" fill="#333333" stroke="#111" stroke-width="0.55"/>
<circle cx="329.2" cy="365.6" r="0.60" fill="#333333" stroke="#111" stroke-width="0.55"/>
<circle cx="324.8" cy="365.5" r="0.60" fill="#333333" stroke="#111" stroke-width="0.55"/>
<circle cx="265.5" cy="343.7" r="0.80" fill="#e0daef" stroke="#111" stroke-width="0.55"/>
<circle cx="251.0" cy="333.7" r="0.80" fill="#d3cce9" stroke="#111" stroke-width="0.55"/>
<circle cx="266.6" cy="353.9" r="0.80" fill="#ece9f5" stroke="#111" stroke-width="0.55"/>
<circle cx="254.5" cy="336.3" r="0.80" fill="#d6d0eb" stroke="#111" stroke-width="0.55"/>
<circle cx="258.7" cy="349.1" r="0.80" fill="#e6e2f3" stroke="#111" stroke-width="0.55"/>
<circle cx="273.0" cy="361.2" r="0.80" fill="#f5f3fa" stroke="#111" stroke-width="0.55"/>
<circle cx="272.5" cy="344.9" r="0.80" fill="#e1dcf0" stroke="#111" stroke-width="0.55"/>
<circle cx="283.5" cy="331.6" r="0.80" fill="#d1c9e8" stroke="#111" stroke-width="0.55"/>
<circle cx="287.3" cy="334.6" r="0.80" fill="#d4cdea" stroke="#111" stroke-width="0.55"/>
<circle cx="250.8" cy="354.7" r="0.80" fill="#edeaf6" stroke="#111" stroke-width="0.55"/>
<circle cx="276.5" cy="330.7" r="0.80" fill="#d0c8e7" stroke="#111" stroke-width="0.55"/>
<circle cx="251.9" cy="352.6" r="0.80" fill="#eae7f5" stroke="#111" stroke-width="0.55"/>
<circle cx="256.9" cy="354.2" r="0.80" fill="#ece9f6" stroke="#111" stroke-width="0.55"/>
<circle cx="273.6" cy="339.0" r="0.80" fill="#dad4ec" stroke="#111" stroke-width="0.55"/>
<circle cx="267.6" cy="333.9" r="0.80" fill="#d4cce9" stroke="#111" stroke-width="0.55"/>
<circle cx="277.5" cy="332.1" r="0.80" fill="#d1cae8" stroke="#111" stroke-width="0.55"/>
<circle cx="253.3" cy="346.9" r="0.80" fill="#e3dff1" stroke="#111" stroke-width="0.55"/>
<circle cx="256.1" cy="352.1" r="0.80" fill="#eae6f4" stroke="#111" stroke-width="0.55"/>
<circle cx="372.5" cy="331.8" r="0.80" fill="#fadbc8" stroke="#111" stroke-width="0.55"/>
<circle cx="389.1" cy="354.5" r="0.80" fill="#fdf1e9" stroke="#111" stroke-width="0.55"/>
<circle cx="370.3" cy="359.6" r="0.80" fill="#fef5f1" stroke="#111" stroke-width="0.55"/>
<circle cx="388.5" cy="342.5" r="0.80" fill="#fce5d8" stroke="#111" stroke-width="0.55"/>
<circle cx="388.2" cy="342.6" r="0.80" fill="#fce5d8" stroke="#111" stroke-width="0.55"/>
<circle cx="387.1" cy="341.9" r="0.80" fill="#fce4d7" stroke="#111" stroke-width="0.55"/>
<circle cx="365.3" cy="352.4" r="0.80" fill="#fdeee6" stroke="#111" stroke-width="0.55"/>
<circle cx="349.2" cy="345.5" r="0.80" fill="#fce8dc" stroke="#111" stroke-width="0.55"/>
<circle cx="395.4" cy="334.6" r="0.80" fill="#fbddcc" stroke="#111" stroke-width="0.55"/>
<circle cx="377.3" cy="334.2" r="0.80" fill="#fbddcc" stroke="#111" stroke-width="0.55"/>
<circle cx="391.8" cy="355.5" r="0.80" fill="#fdf1eb" stroke="#111" stroke-width="0.55"/>
<circle cx="362.5" cy="350.8" r="0.80" fill="#fdede4" stroke="#111" stroke-width="0.55"/>
<circle cx="370.8" cy="333.8" r="0.80" fill="#fbddcb" stroke="#111" stroke-width="0.55"/>
<circle cx="397.9" cy="335.2" r="0.80" fill="#fbdecd" stroke="#111" stroke-width="0.55"/>
<circle cx="356.4" cy="341.0" r="0.80" fill="#fce4d6" stroke="#111" stroke-width="0.55"/>
<circle cx="350.5" cy="337.9" r="0.80" fill="#fbe1d1" stroke="#111" stroke-width="0.55"/>
<circle cx="384.0" cy="346.5" r="0.80" fill="#fce9de" stroke="#111" stroke-width="0.55"/>
<circle cx="375.9" cy="349.8" r="0.80" fill="#fdece3" stroke="#111" stroke-width="0.55"/>
<circle cx="399.3" cy="331.9" r="0.80" fill="#fadbc9" stroke="#111" stroke-width="0.55"/>
<circle cx="380.2" cy="332.6" r="0.80" fill="#fbdbca" stroke="#111" stroke-width="0.55"/>
<circle cx="363.7" cy="359.4" r="0.80" fill="#fef5f0" stroke="#111" stroke-width="0.55"/>
<circle cx="374.4" cy="343.7" r="0.80" fill="#fce6da" stroke="#111" stroke-width="0.55"/>
<circle cx="386.1" cy="357.2" r="0.80" fill="#fef3ed" stroke="#111" stroke-width="0.55"/>
<circle cx="398.2" cy="351.4" r="0.80" fill="#fdeee5" stroke="#111" stroke-width="0.55"/>
<circle cx="355.7" cy="333.1" r="0.80" fill="#fbdcca" stroke="#111" stroke-width="0.55"/>
<circle cx="380.2" cy="342.9" r="0.80" fill="#fce5d9" stroke="#111" stroke-width="0.55"/>
<circle cx="375.3" cy="354.6" r="0.80" fill="#fdf1e9" stroke="#111" stroke-width="0.55"/>
<circle cx="378.5" cy="345.9" r="0.80" fill="#fce8dd" stroke="#111" stroke-width="0.55"/>
<circle cx="371.9" cy="354.3" r="0.80" fill="#fdf0e9" stroke="#111" stroke-width="0.55"/>
<circle cx="392.5" cy="336.7" r="0.80" fill="#fbdfcf" stroke="#111" stroke-width="0.55"/>
<circle cx="357.1" cy="332.6" r="0.80" fill="#fbdbca" stroke="#111" stroke-width="0.55"/>
<circle cx="379.3" cy="357.0" r="0.80" fill="#fdf3ed" stroke="#111" stroke-width="0.55"/>
<circle cx="327.6" cy="359.4" r="0.80" fill="#fef5f0" stroke="#111" stroke-width="0.55"/>
<circle cx="369.2" cy="338.9" r="0.80" fill="#fbe1d3" stroke="#111" stroke-width="0.55"/>
<circle cx="390.3" cy="343.9" r="0.80" fill="#fce6da" stroke="#111" stroke-width="0.55"/>
<circle cx="403.4" cy="348.2" r="0.86" fill="#fce5d8" stroke="#111" stroke-width="0.55"/>
<circle cx="387.9" cy="347.8" r="0.86" fill="#fce5d8" stroke="#111" stroke-width="0.55"/>
<circle cx="382.0" cy="347.2" r="0.87" fill="#fce4d7" stroke="#111" stroke-width="0.55"/>
<circle cx="361.6" cy="346.4" r="0.89" fill="#fce3d5" stroke="#111" stroke-width="0.55"/>
<circle cx="254.0" cy="345.8" r="0.90" fill="#cfc7e7" stroke="#111" stroke-width="0.55"/>
<circle cx="257.9" cy="349.4" r="0.90" fill="#d6cfeb" stroke="#111" stroke-width="0.55"/>
<circle cx="258.9" cy="352.6" r="0.90" fill="#ddd7ee" stroke="#111" stroke-width="0.55"/>
<circle cx="263.0" cy="353.9" r="0.90" fill="#dfdaef" stroke="#111" stroke-width="0.55"/>
<circle cx="263.2" cy="361.3" r="0.90" fill="#eeebf7" stroke="#111" stroke-width="0.55"/>
<circle cx="276.2" cy="365.0" r="0.90" fill="#f6f4fa" stroke="#111" stroke-width="0.55"/>
<circle cx="262.2" cy="345.1" r="0.91" fill="#cdc5e6" stroke="#111" stroke-width="0.55"/>
<circle cx="375.6" cy="344.0" r="0.93" fill="#fbe0d1" stroke="#111" stroke-width="0.55"/>
<circle cx="347.0" cy="343.7" r="0.93" fill="#fbe0d0" stroke="#111" stroke-width="0.55"/>
<circle cx="370.7" cy="341.2" r="0.97" fill="#fbddcc" stroke="#111" stroke-width="0.55"/>
<circle cx="390.5" cy="340.5" r="0.99" fill="#fbdccb" stroke="#111" stroke-width="0.55"/>
<circle cx="266.3" cy="340.5" r="0.99" fill="#c4bae1" stroke="#111" stroke-width="0.55"/>
<circle cx="351.7" cy="340.0" r="0.99" fill="#fbdbca" stroke="#111" stroke-width="0.55"/>
<circle cx="385.0" cy="339.3" r="1.01" fill="#fadbc8" stroke="#111" stroke-width="0.55"/>
<circle cx="342.3" cy="339.0" r="1.01" fill="#fadac8" stroke="#111" stroke-width="0.55"/>
<circle cx="261.7" cy="338.9" r="1.01" fill="#c1b6e0" stroke="#111" stroke-width="0.55"/>
<circle cx="354.6" cy="338.8" r="1.01" fill="#fadac7" stroke="#111" stroke-width="0.55"/>
<circle cx="247.4" cy="338.8" r="1.01" fill="#c1b6e0" stroke="#111" stroke-width="0.55"/>
<circle cx="361.6" cy="338.5" r="1.02" fill="#fadac7" stroke="#111" stroke-width="0.55"/>
<circle cx="284.4" cy="337.5" r="1.04" fill="#beb3de" stroke="#111" stroke-width="0.55"/>
<circle cx="387.3" cy="337.3" r="1.04" fill="#fad8c5" stroke="#111" stroke-width="0.55"/>
<circle cx="344.4" cy="335.8" r="1.06" fill="#fad6c2" stroke="#111" stroke-width="0.55"/>
<circle cx="289.0" cy="335.8" r="1.06" fill="#baafdd" stroke="#111" stroke-width="0.55"/>
<circle cx="279.6" cy="335.3" r="1.07" fill="#b9aedc" stroke="#111" stroke-width="0.55"/>
<circle cx="271.6" cy="335.2" r="1.07" fill="#b9aedc" stroke="#111" stroke-width="0.55"/>
<circle cx="364.5" cy="335.0" r="1.08" fill="#fad6c1" stroke="#111" stroke-width="0.55"/>
<circle cx="385.0" cy="335.0" r="1.08" fill="#fad6c1" stroke="#111" stroke-width="0.55"/>
<circle cx="359.3" cy="334.4" r="1.09" fill="#fad5c0" stroke="#111" stroke-width="0.55"/>
<circle cx="362.2" cy="334.4" r="1.09" fill="#fad5c0" stroke="#111" stroke-width="0.55"/>
<circle cx="373.3" cy="334.4" r="1.09" fill="#fad5c0" stroke="#111" stroke-width="0.55"/>
<circle cx="250.8" cy="333.3" r="1.11" fill="#b5a9da" stroke="#111" stroke-width="0.55"/>
<circle cx="406.6" cy="333.2" r="1.11" fill="#fad4bf" stroke="#111" stroke-width="0.55"/>
<circle cx="357.5" cy="330.9" r="1.15" fill="#f9d1bc" stroke="#111" stroke-width="0.55"/>
<circle cx="376.0" cy="330.9" r="1.15" fill="#f9d1bc" stroke="#111" stroke-width="0.55"/>
<circle cx="375.4" cy="329.4" r="1.17" fill="#f9d0ba" stroke="#111" stroke-width="0.55"/>
<circle cx="274.7" cy="328.9" r="1.18" fill="#ac9fd6" stroke="#111" stroke-width="0.55"/>
<circle cx="357.3" cy="328.3" r="1.19" fill="#f9cfb8" stroke="#111" stroke-width="0.55"/>
<circle cx="271.6" cy="327.6" r="1.20" fill="#aa9cd4" stroke="#111" stroke-width="0.6"/>
<circle cx="415.3" cy="326.9" r="1.21" fill="#f9cdb6" stroke="#111" stroke-width="0.6"/>
<circle cx="383.2" cy="326.2" r="1.22" fill="#f9ccb5" stroke="#111" stroke-width="0.6"/>
<circle cx="364.5" cy="325.6" r="1.23" fill="#f9ccb4" stroke="#111" stroke-width="0.6"/>
<circle cx="353.4" cy="325.0" r="1.24" fill="#f9cbb4" stroke="#111" stroke-width="0.6"/>
<circle cx="284.2" cy="324.0" r="1.26" fill="#a596d2" stroke="#111" stroke-width="0.6"/>
<circle cx="271.6" cy="323.2" r="1.27" fill="#a596d2" stroke="#111" stroke-width="0.6"/>
<circle cx="370.7" cy="322.4" r="1.29" fill="#f8c8b0" stroke="#111" stroke-width="0.6"/>
<circle cx="392.6" cy="321.3" r="1.31" fill="#f8c7af" stroke="#111" stroke-width="0.6"/>
<circle cx="391.6" cy="319.8" r="1.33" fill="#f8c6ad" stroke="#111" stroke-width="0.6"/>
<circle cx="390.8" cy="318.0" r="1.36" fill="#f8c4aa" stroke="#111" stroke-width="0.6"/>
<circle cx="361.6" cy="317.8" r="1.36" fill="#f8c4aa" stroke="#111" stroke-width="0.6"/>
<circle cx="219.7" cy="317.5" r="1.37" fill="#a596d2" stroke="#111" stroke-width="0.6"/>
<circle cx="390.2" cy="313.9" r="1.43" fill="#f7bfa5" stroke="#111" stroke-width="0.6"/>
<circle cx="393.1" cy="313.7" r="1.43" fill="#f7bfa4" stroke="#111" stroke-width="0.6"/>
<circle cx="399.0" cy="313.4" r="1.44" fill="#f7bfa4" stroke="#111" stroke-width="0.6"/>
<circle cx="403.9" cy="310.8" r="1.48" fill="#f7bca0" stroke="#111" stroke-width="0.6"/>
<circle cx="368.4" cy="309.0" r="1.51" fill="#f7ba9e" stroke="#111" stroke-width="0.6"/>
<circle cx="412.4" cy="308.4" r="1.52" fill="#f7ba9d" stroke="#111" stroke-width="0.6"/>
<circle cx="398.4" cy="308.1" r="1.53" fill="#f7b99d" stroke="#111" stroke-width="0.6"/>
<circle cx="403.7" cy="307.4" r="1.54" fill="#f7b99c" stroke="#111" stroke-width="0.6"/>
<circle cx="390.2" cy="305.8" r="1.56" fill="#f6b79a" stroke="#111" stroke-width="0.6"/>
<circle cx="404.3" cy="304.6" r="1.58" fill="#f6b698" stroke="#111" stroke-width="0.6"/>
<circle cx="379.1" cy="302.5" r="1.62" fill="#f6b395" stroke="#111" stroke-width="0.6"/>
<circle cx="371.1" cy="302.3" r="1.62" fill="#f6b395" stroke="#111" stroke-width="0.6"/>
<circle cx="362.0" cy="301.3" r="1.64" fill="#f6b294" stroke="#111" stroke-width="0.6"/>
<circle cx="427.1" cy="295.9" r="1.73" fill="#f6ae8f" stroke="#111" stroke-width="0.6"/>
<circle cx="379.1" cy="295.8" r="1.73" fill="#f6ad8f" stroke="#111" stroke-width="0.6"/>
<circle cx="403.4" cy="294.5" r="1.75" fill="#f5ac8e" stroke="#111" stroke-width="0.6"/>
<circle cx="391.0" cy="290.7" r="1.82" fill="#f5a98a" stroke="#111" stroke-width="0.6"/>
<circle cx="382.8" cy="288.1" r="1.86" fill="#f5a788" stroke="#111" stroke-width="0.6"/>
<circle cx="387.9" cy="287.6" r="1.87" fill="#f5a687" stroke="#111" stroke-width="0.6"/>
<circle cx="434.5" cy="284.8" r="1.91" fill="#f5a484" stroke="#111" stroke-width="0.6"/>
<circle cx="421.0" cy="283.0" r="1.94" fill="#f5a283" stroke="#111" stroke-width="0.6"/>
<circle cx="400.6" cy="283.0" r="1.94" fill="#f5a283" stroke="#111" stroke-width="0.6"/>
<circle cx="387.6" cy="281.3" r="1.97" fill="#f5a081" stroke="#111" stroke-width="0.6"/>
<circle cx="407.0" cy="272.6" r="2.12" fill="#f49979" stroke="#111" stroke-width="0.6"/>
<circle cx="450.8" cy="272.5" r="2.12" fill="#f49879" stroke="#111" stroke-width="0.6"/>
<circle cx="466.8" cy="264.0" r="2.26" fill="#f39071" stroke="#111" stroke-width="0.6"/>
<circle cx="429.2" cy="252.3" r="2.46" fill="#f28566" stroke="#111" stroke-width="0.6"/>
<circle cx="449.0" cy="250.6" r="2.49" fill="#f28365" stroke="#111" stroke-width="0.6"/>
<circle cx="455.0" cy="250.6" r="2.49" fill="#f28365" stroke="#111" stroke-width="0.6"/>
<circle cx="449.6" cy="246.4" r="2.56" fill="#f27f61" stroke="#111" stroke-width="0.6"/>
<circle cx="523.2" cy="67.0" r="5.60" fill="#ff0000" stroke="#1a1a1a" stroke-width="0.6"/>
<circle cx="488.0" cy="147.4" r="4.20" fill="#e80e0e" stroke="#1a1a1a" stroke-width="0.6"/>
<circle cx="504.4" cy="164.0" r="4.00" fill="#ef3526" stroke="#1a1a1a" stroke-width="0.6"/>
<circle cx="449.3" cy="193.6" r="3.30" fill="#f05a3c" stroke="#1a1a1a" stroke-width="0.6"/>
<circle cx="434.4" cy="201.0" r="3.20" fill="#f05a3c" stroke="#1a1a1a" stroke-width="0.6"/>
<circle cx="480.6" cy="202.4" r="3.20" fill="#f05a3c" stroke="#1a1a1a" stroke-width="0.6"/>
<circle cx="406.2" cy="227.4" r="3.00" fill="#f16a4a" stroke="#1a1a1a" stroke-width="0.6"/>
<circle cx="404.0" cy="241.6" r="2.90" fill="#f27352" stroke="#1a1a1a" stroke-width="0.6"/>
<circle cx="445.3" cy="235.2" r="2.90" fill="#f27352" stroke="#1a1a1a" stroke-width="0.6"/>
<circle cx="436.4" cy="241.4" r="2.80" fill="#f27352" stroke="#1a1a1a" stroke-width="0.6"/>
<line x1="397" y1="234" x2="402.6" y2="239.6" stroke="#000" stroke-width="0.7"/>
<line x1="439" y1="241.4" x2="458.6" y2="242.8" stroke="#000" stroke-width="0.7"/>
<text x="452.00" y="71.00" font-size="10.6" text-anchor="start" font-weight="normal" fill="#000" >TMPRSS11D</text>
<text x="432.60" y="143.00" font-size="10.6" text-anchor="start" font-weight="normal" fill="#000" >SERPINB4</text>
<text x="509.40" y="175.60" font-size="10.6" text-anchor="start" font-weight="normal" fill="#000" >DSG3</text>
<text x="434.00" y="187.40" font-size="10.6" text-anchor="start" font-weight="normal" fill="#000" >SDR9C7</text>
<text x="402.00" y="203.40" font-size="10.6" text-anchor="start" font-weight="normal" fill="#000" >CSTA</text>
<text x="486.60" y="207.60" font-size="10.6" text-anchor="start" font-weight="normal" fill="#000" >SERPINB3</text>
<text x="411.00" y="226.00" font-size="10.6" text-anchor="start" font-weight="normal" fill="#000" >CSTB</text>
<text x="336.00" y="236.00" font-size="10.6" text-anchor="start" font-weight="normal" fill="#000" >SERPINB13</text>
<text x="449.60" y="234.60" font-size="10.6" text-anchor="start" font-weight="normal" fill="#000" >UPP1</text>
<text x="459.60" y="247.40" font-size="10.6" text-anchor="start" font-weight="normal" fill="#000" >TMPRSS11E</text>
<text x="208.50" y="313.50" font-size="10.6" text-anchor="start" font-weight="normal" fill="#000" >ADGRL1</text>
<path d="M204.7,52.7 L204.7,385 L537.2,385" fill="none" stroke="#000" stroke-width="1.9" stroke-linejoin="round" stroke-linecap="round"/>
<line x1="199.9" y1="370.00" x2="204.6" y2="370.00" stroke="#000" stroke-width="1.5"/>
<text x="195.60" y="375.50" font-size="15.3" text-anchor="end" font-weight="normal" fill="#000" >0</text>
<line x1="199.9" y1="258.80" x2="204.6" y2="258.80" stroke="#000" stroke-width="1.5"/>
<text x="195.60" y="264.30" font-size="15.3" text-anchor="end" font-weight="normal" fill="#000" >10</text>
<line x1="199.9" y1="148.20" x2="204.6" y2="148.20" stroke="#000" stroke-width="1.5"/>
<text x="195.60" y="153.70" font-size="15.3" text-anchor="end" font-weight="normal" fill="#000" >20</text>
<line x1="257.50" y1="385.1" x2="257.50" y2="389.4" stroke="#000" stroke-width="1.5"/>
<text x="257.50" y="404.70" font-size="15.3" text-anchor="middle" font-weight="normal" fill="#000" >−0.2</text>
<line x1="314.70" y1="385.1" x2="314.70" y2="389.4" stroke="#000" stroke-width="1.5"/>
<text x="314.70" y="404.70" font-size="15.3" text-anchor="middle" font-weight="normal" fill="#000" >0.0</text>
<line x1="371.90" y1="385.1" x2="371.90" y2="389.4" stroke="#000" stroke-width="1.5"/>
<text x="371.90" y="404.70" font-size="15.3" text-anchor="middle" font-weight="normal" fill="#000" >0.2</text>
<line x1="429.10" y1="385.1" x2="429.10" y2="389.4" stroke="#000" stroke-width="1.5"/>
<text x="429.10" y="404.70" font-size="15.3" text-anchor="middle" font-weight="normal" fill="#000" >0.4</text>
<line x1="486.30" y1="385.1" x2="486.30" y2="389.4" stroke="#000" stroke-width="1.5"/>
<text x="486.30" y="404.70" font-size="15.3" text-anchor="middle" font-weight="normal" fill="#000" >0.6</text>
<text x="371.50" y="426.60" font-size="18.8" text-anchor="middle" font-weight="normal" fill="#000" >Coefficient</text>
<g transform="translate(166.4,0) rotate(-90)" font-size="18.8"><text x="-280.0" y="0">−</text><text transform="translate(-266.6,0) scale(0.84,1)" x="0" y="0">log</text><text x="-240.2" y="3.6" font-size="12">10</text><text x="-221.5" y="0" font-style="italic">P</text><text x="-208.5" y="0">−value</text></g>
<text x="232.50" y="438.70" font-size="16.7" text-anchor="middle" font-weight="normal" fill="#000" >High in</text>
<text x="232.50" y="458.80" font-size="16.7" text-anchor="middle" font-weight="normal" fill="#000" >Male</text>
<text x="520.20" y="438.70" font-size="16.7" text-anchor="middle" font-weight="normal" fill="#000" >High in</text>
<text x="520.20" y="458.80" font-size="16.7" text-anchor="middle" font-weight="normal" fill="#000" >Female</text>
<line x1="220.4" y1="473.5" x2="522" y2="473.5" stroke="#000" stroke-width="1.6" stroke-dasharray="6,5.816"/>
<path d="M205.1,473.5 L215,469.4 L213.4,473.5 L215,477.8 Z" fill="#000"/>
<path d="M538.1,473.5 L528,469.4 L529.6,473.5 L528,477.8 Z" fill="#000"/>
<text x="-0.50" y="522.80" font-size="22" text-anchor="start" font-weight="bold" fill="#000" >b</text>
<text transform="translate(136.5,552.8) scale(1,1.09)" font-size="15.3" text-anchor="middle" font-weight="bold">Tissue–specific proteins</text>
<line x1="91.48" y1="562.7" x2="91.48" y2="837.2" stroke="#e6e6e6" stroke-width="0.8"/>
<line x1="106.25" y1="562.7" x2="106.25" y2="837.2" stroke="#e6e6e6" stroke-width="0.8"/>
<line x1="121.03" y1="562.7" x2="121.03" y2="837.2" stroke="#e6e6e6" stroke-width="0.8"/>
<line x1="135.80" y1="562.7" x2="135.80" y2="837.2" stroke="#e6e6e6" stroke-width="0.8"/>
<line x1="150.57" y1="562.7" x2="150.57" y2="837.2" stroke="#e6e6e6" stroke-width="0.8"/>
<line x1="165.35" y1="562.7" x2="165.35" y2="837.2" stroke="#e6e6e6" stroke-width="0.8"/>
<line x1="180.12" y1="562.7" x2="180.12" y2="837.2" stroke="#e6e6e6" stroke-width="0.8"/>
<line x1="194.90" y1="562.7" x2="194.90" y2="837.2" stroke="#e6e6e6" stroke-width="0.8"/>
<rect x="76.70" y="567.72" width="126.18" height="30.13" fill="#832424"/>
<text x="56.60" y="586.59" font-size="10.6" text-anchor="end" font-weight="normal" fill="#000" >Esophagus</text>
<rect x="76.70" y="601.20" width="71.81" height="30.13" fill="#903834"/>
<text x="56.60" y="620.06" font-size="10.6" text-anchor="end" font-weight="normal" fill="#000" >Vagina</text>
<rect x="76.70" y="634.67" width="35.16" height="30.13" fill="#9e4e47"/>
<text x="56.60" y="653.54" font-size="10.6" text-anchor="end" font-weight="normal" fill="#000" >Skin</text>
<rect x="76.70" y="668.15" width="35.16" height="30.13" fill="#9e4e47"/>
<text x="56.60" y="687.01" font-size="10.6" text-anchor="end" font-weight="normal" fill="#000" >Cervix</text>
<rect x="76.70" y="701.62" width="12.41" height="30.13" fill="#b06962"/>
<text x="56.60" y="720.49" font-size="10.6" text-anchor="end" font-weight="normal" fill="#000" >Salivary</text>
<rect x="72.30" y="735.10" width="4.40" height="30.13" fill="#aaa1d1"/>
<text x="56.60" y="753.96" font-size="10.6" text-anchor="end" font-weight="normal" fill="#000" >Skeletal</text>
<rect x="71.12" y="768.58" width="5.58" height="30.13" fill="#a79ecf"/>
<text x="56.60" y="787.44" font-size="10.6" text-anchor="end" font-weight="normal" fill="#000" >Kidney</text>
<rect x="69.52" y="802.05" width="7.18" height="30.13" fill="#a096cb"/>
<text x="56.60" y="820.91" font-size="10.6" text-anchor="end" font-weight="normal" fill="#000" >Brain</text>
<line x1="76.7" y1="562.7" x2="76.7" y2="837.2" stroke="#000" stroke-width="1.1"/>
<rect x="62.85" y="562.7" width="145.95000000000002" height="274.5" fill="none" stroke="#463c3c" stroke-width="1.35"/>
<line x1="76.70" y1="837.2" x2="76.70" y2="840.6" stroke="#333" stroke-width="1.1"/>
<text x="76.70" y="851.70" font-size="11" text-anchor="middle" font-weight="normal" fill="#000" >0</text>
<line x1="106.25" y1="837.2" x2="106.25" y2="840.6" stroke="#333" stroke-width="1.1"/>
<text x="106.25" y="851.70" font-size="11" text-anchor="middle" font-weight="normal" fill="#000" >10</text>
<line x1="135.80" y1="837.2" x2="135.80" y2="840.6" stroke="#333" stroke-width="1.1"/>
<text x="135.80" y="851.70" font-size="11" text-anchor="middle" font-weight="normal" fill="#000" >20</text>
<line x1="165.35" y1="837.2" x2="165.35" y2="840.6" stroke="#333" stroke-width="1.1"/>
<text x="165.35" y="851.70" font-size="11" text-anchor="middle" font-weight="normal" fill="#000" >30</text>
<line x1="194.90" y1="837.2" x2="194.90" y2="840.6" stroke="#333" stroke-width="1.1"/>
<text x="194.90" y="851.70" font-size="11" text-anchor="middle" font-weight="normal" fill="#000" >40</text>
<text x="137.2" y="865.6" font-size="12.9" text-anchor="middle">−<tspan dx="2">log</tspan><tspan font-size="10" dy="3">10</tspan><tspan dy="-3"> adjusted </tspan><tspan font-style="italic">P</tspan>−value</text>
<text x="229.30" y="650.20" font-size="12.6" text-anchor="start" font-weight="normal" fill="#000" >NES</text>
<defs><linearGradient id="gb" x1="0" y1="0" x2="0" y2="1"><stop offset="0.000" stop-color="#832424"/><stop offset="0.050" stop-color="#8e3632"/><stop offset="0.100" stop-color="#994640"/><stop offset="0.150" stop-color="#a4564f"/><stop offset="0.200" stop-color="#ae665f"/><stop offset="0.250" stop-color="#b8766e"/><stop offset="0.300" stop-color="#c2867f"/><stop offset="0.350" stop-color="#cb968f"/><stop offset="0.400" stop-color="#d4a6a0"/><stop offset="0.450" stop-color="#ddb6b1"/><stop offset="0.500" stop-color="#e5c7c3"/><stop offset="0.550" stop-color="#edd8d5"/><stop offset="0.600" stop-color="#f5e9e7"/><stop offset="0.650" stop-color="#fdfaf9"/><stop offset="0.700" stop-color="#f5f4fa"/><stop offset="0.750" stop-color="#e7e4f2"/><stop offset="0.800" stop-color="#d9d4ea"/><stop offset="0.850" stop-color="#cbc4e3"/><stop offset="0.900" stop-color="#bdb4db"/><stop offset="0.950" stop-color="#aea5d3"/><stop offset="1.000" stop-color="#a096cb"/></linearGradient></defs>
<rect x="229" y="657.7" width="20.6" height="103.29999999999995" fill="url(#gb)"/>
<line x1="229" y1="662.40" x2="233" y2="662.40" stroke="#fff" stroke-width="0.8"/>
<line x1="245.6" y1="662.40" x2="249.6" y2="662.40" stroke="#fff" stroke-width="0.8"/>
<text x="256.30" y="666.30" font-size="11" text-anchor="start" font-weight="normal" fill="#000" >3</text>
<line x1="229" y1="683.74" x2="233" y2="683.74" stroke="#fff" stroke-width="0.8"/>
<line x1="245.6" y1="683.74" x2="249.6" y2="683.74" stroke="#fff" stroke-width="0.8"/>
<text x="256.30" y="687.64" font-size="11" text-anchor="start" font-weight="normal" fill="#000" >2</text>
<line x1="229" y1="705.08" x2="233" y2="705.08" stroke="#fff" stroke-width="0.8"/>
<line x1="245.6" y1="705.08" x2="249.6" y2="705.08" stroke="#fff" stroke-width="0.8"/>
<text x="256.30" y="708.98" font-size="11" text-anchor="start" font-weight="normal" fill="#000" >1</text>
<line x1="229" y1="726.42" x2="233" y2="726.42" stroke="#fff" stroke-width="0.8"/>
<line x1="245.6" y1="726.42" x2="249.6" y2="726.42" stroke="#fff" stroke-width="0.8"/>
<text x="256.30" y="730.32" font-size="11" text-anchor="start" font-weight="normal" fill="#000" >0</text>
<line x1="229" y1="747.77" x2="233" y2="747.77" stroke="#fff" stroke-width="0.8"/>
<line x1="245.6" y1="747.77" x2="249.6" y2="747.77" stroke="#fff" stroke-width="0.8"/>
<text x="256.30" y="751.67" font-size="11" text-anchor="start" font-weight="normal" fill="#000" >−1</text>
<text x="286.20" y="523.40" font-size="22" text-anchor="start" font-weight="bold" fill="#000" >c</text>
<text transform="translate(569.3,552.8) scale(1,1.07)" font-size="15.3" text-anchor="middle" font-weight="bold">GO terms</text>
<line x1="521.60" y1="562.7" x2="521.60" y2="837.2" stroke="#e6e6e6" stroke-width="0.8"/>
<line x1="535.30" y1="562.7" x2="535.30" y2="837.2" stroke="#e6e6e6" stroke-width="0.8"/>
<line x1="549.00" y1="562.7" x2="549.00" y2="837.2" stroke="#e6e6e6" stroke-width="0.8"/>
<line x1="576.40" y1="562.7" x2="576.40" y2="837.2" stroke="#e6e6e6" stroke-width="0.8"/>
<line x1="590.10" y1="562.7" x2="590.10" y2="837.2" stroke="#e6e6e6" stroke-width="0.8"/>
<line x1="603.80" y1="562.7" x2="603.80" y2="837.2" stroke="#e6e6e6" stroke-width="0.8"/>
<line x1="617.50" y1="562.7" x2="617.50" y2="837.2" stroke="#e6e6e6" stroke-width="0.8"/>
<rect x="562.70" y="564.74" width="59.95" height="12.23" fill="#892e2c"/>
<text x="504.50" y="574.65" font-size="10.75" text-anchor="end" font-weight="normal" fill="#000" >regulation of endopeptidase activity</text>
<rect x="562.70" y="578.33" width="56.99" height="12.23" fill="#892e2c"/>
<text x="504.50" y="588.24" font-size="10.75" text-anchor="end" font-weight="normal" fill="#000" >regulation of peptidase activity</text>
<rect x="562.70" y="591.92" width="56.99" height="12.23" fill="#832424"/>
<text x="504.50" y="601.83" font-size="10.75" text-anchor="end" font-weight="normal" fill="#000" >negative regulation of peptidase activity</text>
<rect x="562.70" y="605.51" width="55.90" height="12.23" fill="#892e2c"/>
<text x="504.50" y="615.42" font-size="10.75" text-anchor="end" font-weight="normal" fill="#000" >negative regulation of hydrolase activity</text>
<rect x="562.70" y="619.09" width="55.68" height="12.23" fill="#832424"/>
<text x="504.50" y="629.01" font-size="10.75" text-anchor="end" font-weight="normal" fill="#000" >negative regulation of endopeptidase activity</text>
<rect x="562.70" y="632.68" width="49.98" height="12.23" fill="#892e2c"/>
<text x="504.50" y="642.60" font-size="10.75" text-anchor="end" font-weight="normal" fill="#000" >negative regulation of proteolysis</text>
<rect x="562.70" y="646.27" width="44.50" height="12.23" fill="#892e2c"/>
<text x="504.50" y="656.19" font-size="10.75" text-anchor="end" font-weight="normal" fill="#000" >epidermis development</text>
<rect x="562.70" y="659.86" width="43.29" height="12.23" fill="#892e2c"/>
<text x="504.50" y="669.78" font-size="10.75" text-anchor="end" font-weight="normal" fill="#000" >humoral immune response</text>
<rect x="562.70" y="673.45" width="32.00" height="12.23" fill="#9e4c46"/>
<text x="504.50" y="683.37" font-size="10.75" text-anchor="end" font-weight="normal" fill="#000" >regulation of proteolysis</text>
<rect x="562.70" y="687.04" width="30.80" height="12.23" fill="#9e4c46"/>
<text x="504.50" y="696.96" font-size="10.75" text-anchor="end" font-weight="normal" fill="#000" >cell–cell adhesion</text>
<rect x="529.05" y="700.63" width="33.65" height="12.23" fill="#6158aa"/>
<text x="504.50" y="710.54" font-size="10.75" text-anchor="end" font-weight="normal" fill="#000" >mitotic nuclear division</text>
<rect x="527.19" y="714.22" width="35.51" height="12.23" fill="#7e74b9"/>
<text x="504.50" y="724.13" font-size="10.75" text-anchor="end" font-weight="normal" fill="#000" >cell cycle</text>
<rect x="523.90" y="727.81" width="38.80" height="12.23" fill="#6158aa"/>
<text x="504.50" y="737.72" font-size="10.75" text-anchor="end" font-weight="normal" fill="#000" >nuclear division</text>
<rect x="523.90" y="741.40" width="38.80" height="12.23" fill="#6960ae"/>
<text x="504.50" y="751.31" font-size="10.75" text-anchor="end" font-weight="normal" fill="#000" >mitotic cell cycle</text>
<rect x="523.46" y="754.99" width="39.24" height="12.23" fill="#6158aa"/>
<text x="504.50" y="764.90" font-size="10.75" text-anchor="end" font-weight="normal" fill="#000" >organelle fission</text>
<rect x="523.68" y="768.58" width="39.02" height="12.23" fill="#6b62af"/>
<text x="504.50" y="778.49" font-size="10.75" text-anchor="end" font-weight="normal" fill="#000" >mitotic cell cycle process</text>
<rect x="518.42" y="782.16" width="44.28" height="12.23" fill="#6f66b1"/>
<text x="504.50" y="792.08" font-size="10.75" text-anchor="end" font-weight="normal" fill="#000" >organelle assembly</text>
<rect x="518.42" y="795.75" width="44.28" height="12.23" fill="#7167b2"/>
<text x="504.50" y="805.67" font-size="10.75" text-anchor="end" font-weight="normal" fill="#000" >regulation of cellular component biogenesis</text>
<rect x="517.00" y="809.34" width="45.70" height="12.23" fill="#6960ae"/>
<text x="504.50" y="819.26" font-size="10.75" text-anchor="end" font-weight="normal" fill="#000" >microtubule–based process</text>
<rect x="515.68" y="822.93" width="47.02" height="12.23" fill="#635aab"/>
<text x="504.50" y="832.85" font-size="10.75" text-anchor="end" font-weight="normal" fill="#000" >small GTPase mediated signal transduction</text>
<line x1="562.7" y1="562.7" x2="562.7" y2="837.2" stroke="#000" stroke-width="1.1"/>
<rect x="510.5" y="562.7" width="117.5" height="274.5" fill="none" stroke="#463c3c" stroke-width="1.35"/>
<line x1="535.30" y1="837.2" x2="535.30" y2="840.6" stroke="#333" stroke-width="1.1"/>
<text x="535.30" y="851.70" font-size="11" text-anchor="middle" font-weight="normal" fill="#000" >2.5</text>
<line x1="562.70" y1="837.2" x2="562.70" y2="840.6" stroke="#333" stroke-width="1.1"/>
<text x="562.70" y="851.70" font-size="11" text-anchor="middle" font-weight="normal" fill="#000" >0.0</text>
<line x1="590.10" y1="837.2" x2="590.10" y2="840.6" stroke="#333" stroke-width="1.1"/>
<text x="590.10" y="851.70" font-size="11" text-anchor="middle" font-weight="normal" fill="#000" >2.5</text>
<line x1="617.50" y1="837.2" x2="617.50" y2="840.6" stroke="#333" stroke-width="1.1"/>
<text x="617.50" y="851.70" font-size="11" text-anchor="middle" font-weight="normal" fill="#000" >5.0</text>
<text x="570.6" y="865.6" font-size="12.9" text-anchor="middle">−<tspan dx="2">log</tspan><tspan font-size="10" dy="3">10</tspan><tspan dy="-3"> adjusted </tspan><tspan font-style="italic">P</tspan>−value</text>
<text x="648.20" y="650.20" font-size="12.6" text-anchor="start" font-weight="normal" fill="#000" >NES</text>
<defs><linearGradient id="gc" x1="0" y1="0" x2="0" y2="1"><stop offset="0.000" stop-color="#832424"/><stop offset="0.050" stop-color="#913935"/><stop offset="0.100" stop-color="#9e4d47"/><stop offset="0.150" stop-color="#aa6059"/><stop offset="0.200" stop-color="#b7736c"/><stop offset="0.250" stop-color="#c28780"/><stop offset="0.300" stop-color="#ce9a94"/><stop offset="0.350" stop-color="#d8aea9"/><stop offset="0.400" stop-color="#e3c2be"/><stop offset="0.450" stop-color="#edd7d4"/><stop offset="0.500" stop-color="#f6ebea"/><stop offset="0.550" stop-color="#fefefe"/><stop offset="0.600" stop-color="#edeaf5"/><stop offset="0.650" stop-color="#dcd7ec"/><stop offset="0.700" stop-color="#cac4e2"/><stop offset="0.750" stop-color="#b9b1d9"/><stop offset="0.800" stop-color="#a89ed0"/><stop offset="0.850" stop-color="#978cc6"/><stop offset="0.900" stop-color="#857bbd"/><stop offset="0.950" stop-color="#7369b3"/><stop offset="1.000" stop-color="#6158aa"/></linearGradient></defs>
<rect x="648.1" y="657.6" width="20.6" height="103.10000000000002" fill="url(#gc)"/>
<line x1="648.1" y1="666.61" x2="652.1" y2="666.61" stroke="#fff" stroke-width="0.8"/>
<line x1="664.7" y1="666.61" x2="668.7" y2="666.61" stroke="#fff" stroke-width="0.8"/>
<text x="675.20" y="670.51" font-size="11" text-anchor="start" font-weight="normal" fill="#000" >2</text>
<line x1="648.1" y1="690.31" x2="652.1" y2="690.31" stroke="#fff" stroke-width="0.8"/>
<line x1="664.7" y1="690.31" x2="668.7" y2="690.31" stroke="#fff" stroke-width="0.8"/>
<text x="675.20" y="694.21" font-size="11" text-anchor="start" font-weight="normal" fill="#000" >1</text>
<line x1="648.1" y1="714.01" x2="652.1" y2="714.01" stroke="#fff" stroke-width="0.8"/>
<line x1="664.7" y1="714.01" x2="668.7" y2="714.01" stroke="#fff" stroke-width="0.8"/>
<text x="675.20" y="717.91" font-size="11" text-anchor="start" font-weight="normal" fill="#000" >0</text>
<line x1="648.1" y1="737.71" x2="652.1" y2="737.71" stroke="#fff" stroke-width="0.8"/>
<line x1="664.7" y1="737.71" x2="668.7" y2="737.71" stroke="#fff" stroke-width="0.8"/>
<text x="675.20" y="741.61" font-size="11" text-anchor="start" font-weight="normal" fill="#000" >−1</text>
</svg>
</body></html>
